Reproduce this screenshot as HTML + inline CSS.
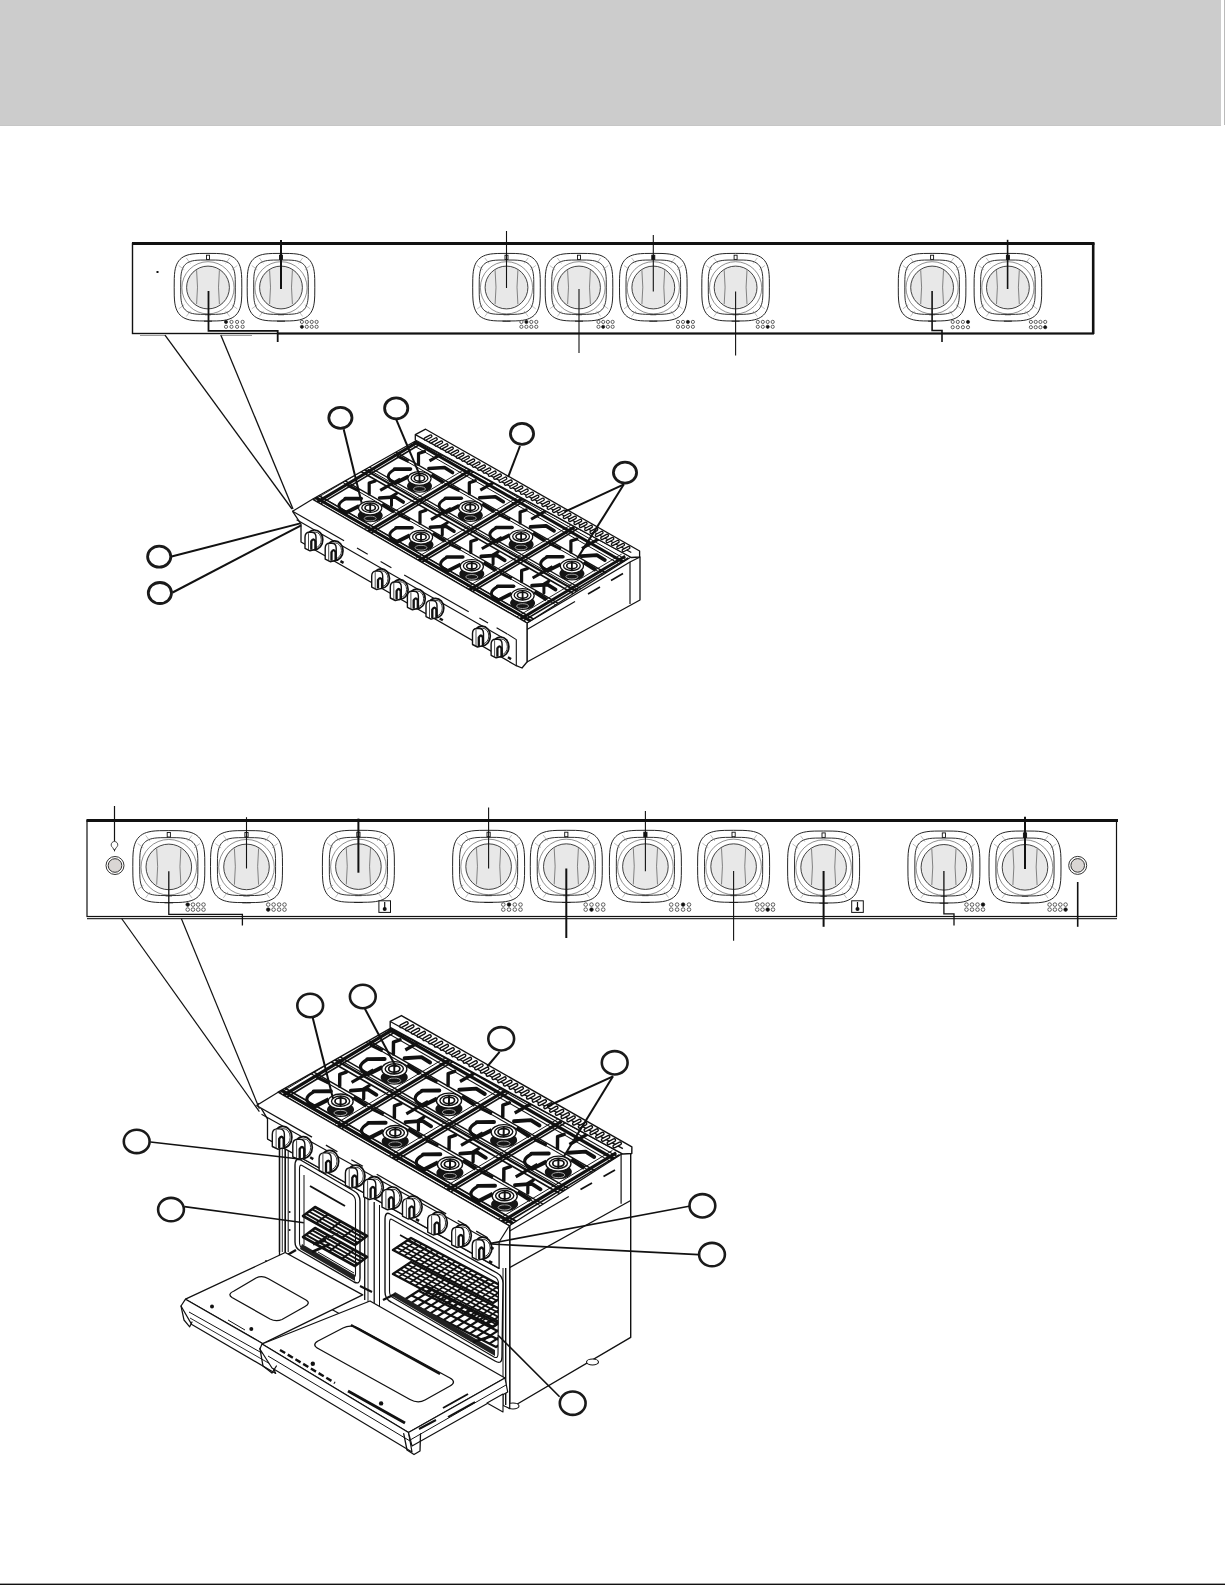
<!DOCTYPE html>
<html><head><meta charset="utf-8"><style>
html,body{margin:0;padding:0;background:#fff;}
body{width:1225px;height:1585px;overflow:hidden;font-family:"Liberation Sans",sans-serif;}
svg{display:block;}
</style></head><body>
<svg width="1225" height="1585" viewBox="0 0 1225 1585">
<rect x="0" y="0" width="1221" height="126" fill="#cccccc"/><rect x="0" y="125" width="1221" height="1" fill="#c6c6c6"/>
<rect x="1224" y="0" width="1" height="125" fill="#bbbbbb"/>
<rect x="132.5" y="243.5" width="960.5" height="90" fill="#fff" stroke="#111" stroke-width="1.4"/>
<line x1="132" y1="243.5" x2="1094.5" y2="243.5" stroke="#111" stroke-width="3.2"/>
<line x1="1093.2" y1="243" x2="1093.2" y2="334" stroke="#111" stroke-width="2.6"/>
<line x1="277" y1="333.6" x2="1094" y2="333.6" stroke="#111" stroke-width="2.0"/>
<line x1="140" y1="335.5" x2="165" y2="335.5" stroke="#999" stroke-width="1"/>
<line x1="222" y1="335.5" x2="252" y2="335.5" stroke="#999" stroke-width="1"/>
<rect x="156.5" y="271" width="2" height="2" fill="#111"/>
<path d="M241.80,287.20 L241.73,295.91 L241.51,299.98 L241.16,303.15 L240.65,305.82 L240.00,308.15 L239.20,310.20 L238.25,312.02 L237.15,313.64 L235.88,315.08 L234.44,316.35 L232.82,317.45 L231.00,318.40 L228.95,319.20 L226.62,319.85 L223.95,320.36 L220.78,320.71 L216.71,320.93 L208.00,321.00 L199.29,320.93 L195.22,320.71 L192.05,320.36 L189.38,319.85 L187.05,319.20 L185.00,318.40 L183.18,317.45 L181.56,316.35 L180.12,315.08 L178.85,313.64 L177.75,312.02 L176.80,310.20 L176.00,308.15 L175.35,305.82 L174.84,303.15 L174.49,299.98 L174.27,295.91 L174.20,287.20 L174.27,278.49 L174.49,274.42 L174.84,271.25 L175.35,268.58 L176.00,266.25 L176.80,264.20 L177.75,262.38 L178.85,260.76 L180.12,259.32 L181.56,258.05 L183.18,256.95 L185.00,256.00 L187.05,255.20 L189.38,254.55 L192.05,254.04 L195.22,253.69 L199.29,253.47 L208.00,253.40 L216.71,253.47 L220.78,253.69 L223.95,254.04 L226.62,254.55 L228.95,255.20 L231.00,256.00 L232.82,256.95 L234.44,258.05 L235.88,259.32 L237.15,260.76 L238.25,262.38 L239.20,264.20 L240.00,266.25 L240.65,268.58 L241.16,271.25 L241.51,274.42 L241.73,278.49Z" fill="#fff" stroke="#1a1a1a" stroke-width="0.95"/>
<path d="M235.30,287.20 L235.25,294.73 L235.08,298.02 L234.81,300.55 L234.42,302.66 L233.92,304.49 L233.31,306.09 L232.58,307.50 L231.73,308.76 L230.75,309.86 L229.63,310.84 L228.38,311.69 L226.96,312.42 L225.35,313.03 L223.52,313.52 L221.40,313.91 L218.86,314.18 L215.56,314.35 L208.00,314.40 L200.44,314.35 L197.14,314.18 L194.60,313.91 L192.48,313.52 L190.65,313.03 L189.04,312.42 L187.62,311.69 L186.37,310.84 L185.25,309.86 L184.27,308.76 L183.42,307.50 L182.69,306.09 L182.08,304.49 L181.58,302.66 L181.19,300.55 L180.92,298.02 L180.75,294.73 L180.70,287.20 L180.75,279.67 L180.92,276.38 L181.19,273.85 L181.58,271.74 L182.08,269.91 L182.69,268.31 L183.42,266.90 L184.27,265.64 L185.25,264.54 L186.37,263.56 L187.62,262.71 L189.04,261.98 L190.65,261.37 L192.48,260.88 L194.60,260.49 L197.14,260.22 L200.44,260.05 L208.00,260.00 L215.56,260.05 L218.86,260.22 L221.40,260.49 L223.52,260.88 L225.35,261.37 L226.96,261.98 L228.38,262.71 L229.63,263.56 L230.75,264.54 L231.73,265.64 L232.58,266.90 L233.31,268.31 L233.92,269.91 L234.42,271.74 L234.81,273.85 L235.08,276.38 L235.25,279.67Z" fill="none" stroke="#1a1a1a" stroke-width="0.9"/>
<circle cx="208" cy="287.8" r="26.1" fill="none" stroke="#444" stroke-width="0.6"/>
<circle cx="208" cy="287.5" r="21.4" fill="#e8e8e8" stroke="#222" stroke-width="0.85"/>
<path d="M196.6,270.2 Q198.4,287.2 196.6,304.2" fill="none" stroke="#555" stroke-width="0.7"/>
<path d="M219.4,270.2 Q217.6,287.2 219.4,304.2" fill="none" stroke="#555" stroke-width="0.7"/>
<line x1="231.7" y1="304.7" x2="237.3" y2="308.9" stroke="#888" stroke-width="0.55"/>
<line x1="190.5" y1="310.9" x2="186.3" y2="316.5" stroke="#888" stroke-width="0.55"/>
<line x1="184.3" y1="269.7" x2="178.7" y2="265.5" stroke="#888" stroke-width="0.55"/>
<line x1="225.5" y1="263.5" x2="229.7" y2="257.9" stroke="#888" stroke-width="0.55"/>
<line x1="225.5" y1="310.9" x2="229.7" y2="316.5" stroke="#888" stroke-width="0.55"/>
<line x1="184.3" y1="304.7" x2="178.7" y2="308.9" stroke="#888" stroke-width="0.55"/>
<line x1="190.5" y1="263.5" x2="186.3" y2="257.9" stroke="#888" stroke-width="0.55"/>
<line x1="231.7" y1="269.7" x2="237.3" y2="265.5" stroke="#888" stroke-width="0.55"/>
<rect x="206.5" y="255.2" width="3.0" height="4.2" fill="#fff" stroke="#111" stroke-width="0.9"/>
<line x1="205.0" y1="314.8" x2="211.0" y2="314.8" stroke="#333" stroke-width="0.8"/>
<line x1="204.0" y1="321.2" x2="212.0" y2="321.2" stroke="#222" stroke-width="1.0"/>
<path d="M314.80,287.20 L314.73,295.91 L314.51,299.98 L314.16,303.15 L313.65,305.82 L313.00,308.15 L312.20,310.20 L311.25,312.02 L310.15,313.64 L308.88,315.08 L307.44,316.35 L305.82,317.45 L304.00,318.40 L301.95,319.20 L299.62,319.85 L296.95,320.36 L293.78,320.71 L289.71,320.93 L281.00,321.00 L272.29,320.93 L268.22,320.71 L265.05,320.36 L262.38,319.85 L260.05,319.20 L258.00,318.40 L256.18,317.45 L254.56,316.35 L253.12,315.08 L251.85,313.64 L250.75,312.02 L249.80,310.20 L249.00,308.15 L248.35,305.82 L247.84,303.15 L247.49,299.98 L247.27,295.91 L247.20,287.20 L247.27,278.49 L247.49,274.42 L247.84,271.25 L248.35,268.58 L249.00,266.25 L249.80,264.20 L250.75,262.38 L251.85,260.76 L253.12,259.32 L254.56,258.05 L256.18,256.95 L258.00,256.00 L260.05,255.20 L262.38,254.55 L265.05,254.04 L268.22,253.69 L272.29,253.47 L281.00,253.40 L289.71,253.47 L293.78,253.69 L296.95,254.04 L299.62,254.55 L301.95,255.20 L304.00,256.00 L305.82,256.95 L307.44,258.05 L308.88,259.32 L310.15,260.76 L311.25,262.38 L312.20,264.20 L313.00,266.25 L313.65,268.58 L314.16,271.25 L314.51,274.42 L314.73,278.49Z" fill="#fff" stroke="#1a1a1a" stroke-width="0.95"/>
<path d="M308.30,287.20 L308.25,294.73 L308.08,298.02 L307.81,300.55 L307.42,302.66 L306.92,304.49 L306.31,306.09 L305.58,307.50 L304.73,308.76 L303.75,309.86 L302.63,310.84 L301.38,311.69 L299.96,312.42 L298.35,313.03 L296.52,313.52 L294.40,313.91 L291.86,314.18 L288.56,314.35 L281.00,314.40 L273.44,314.35 L270.14,314.18 L267.60,313.91 L265.48,313.52 L263.65,313.03 L262.04,312.42 L260.62,311.69 L259.37,310.84 L258.25,309.86 L257.27,308.76 L256.42,307.50 L255.69,306.09 L255.08,304.49 L254.58,302.66 L254.19,300.55 L253.92,298.02 L253.75,294.73 L253.70,287.20 L253.75,279.67 L253.92,276.38 L254.19,273.85 L254.58,271.74 L255.08,269.91 L255.69,268.31 L256.42,266.90 L257.27,265.64 L258.25,264.54 L259.37,263.56 L260.62,262.71 L262.04,261.98 L263.65,261.37 L265.48,260.88 L267.60,260.49 L270.14,260.22 L273.44,260.05 L281.00,260.00 L288.56,260.05 L291.86,260.22 L294.40,260.49 L296.52,260.88 L298.35,261.37 L299.96,261.98 L301.38,262.71 L302.63,263.56 L303.75,264.54 L304.73,265.64 L305.58,266.90 L306.31,268.31 L306.92,269.91 L307.42,271.74 L307.81,273.85 L308.08,276.38 L308.25,279.67Z" fill="none" stroke="#1a1a1a" stroke-width="0.9"/>
<circle cx="281" cy="287.8" r="26.1" fill="none" stroke="#444" stroke-width="0.6"/>
<circle cx="281" cy="287.5" r="21.4" fill="#e8e8e8" stroke="#222" stroke-width="0.85"/>
<path d="M269.6,270.2 Q271.4,287.2 269.6,304.2" fill="none" stroke="#555" stroke-width="0.7"/>
<path d="M292.4,270.2 Q290.6,287.2 292.4,304.2" fill="none" stroke="#555" stroke-width="0.7"/>
<line x1="304.7" y1="304.7" x2="310.3" y2="308.9" stroke="#888" stroke-width="0.55"/>
<line x1="263.5" y1="310.9" x2="259.3" y2="316.5" stroke="#888" stroke-width="0.55"/>
<line x1="257.3" y1="269.7" x2="251.7" y2="265.5" stroke="#888" stroke-width="0.55"/>
<line x1="298.5" y1="263.5" x2="302.7" y2="257.9" stroke="#888" stroke-width="0.55"/>
<line x1="298.5" y1="310.9" x2="302.7" y2="316.5" stroke="#888" stroke-width="0.55"/>
<line x1="257.3" y1="304.7" x2="251.7" y2="308.9" stroke="#888" stroke-width="0.55"/>
<line x1="263.5" y1="263.5" x2="259.3" y2="257.9" stroke="#888" stroke-width="0.55"/>
<line x1="304.7" y1="269.7" x2="310.3" y2="265.5" stroke="#888" stroke-width="0.55"/>
<rect x="279.5" y="255.2" width="3.0" height="4.2" fill="#111" stroke="#111" stroke-width="0.9"/>
<line x1="278.0" y1="314.8" x2="284.0" y2="314.8" stroke="#333" stroke-width="0.8"/>
<line x1="277.0" y1="321.2" x2="285.0" y2="321.2" stroke="#222" stroke-width="1.0"/>
<path d="M540.30,287.20 L540.23,295.91 L540.01,299.98 L539.66,303.15 L539.15,305.82 L538.50,308.15 L537.70,310.20 L536.75,312.02 L535.65,313.64 L534.38,315.08 L532.94,316.35 L531.32,317.45 L529.50,318.40 L527.45,319.20 L525.12,319.85 L522.45,320.36 L519.28,320.71 L515.21,320.93 L506.50,321.00 L497.79,320.93 L493.72,320.71 L490.55,320.36 L487.88,319.85 L485.55,319.20 L483.50,318.40 L481.68,317.45 L480.06,316.35 L478.62,315.08 L477.35,313.64 L476.25,312.02 L475.30,310.20 L474.50,308.15 L473.85,305.82 L473.34,303.15 L472.99,299.98 L472.77,295.91 L472.70,287.20 L472.77,278.49 L472.99,274.42 L473.34,271.25 L473.85,268.58 L474.50,266.25 L475.30,264.20 L476.25,262.38 L477.35,260.76 L478.62,259.32 L480.06,258.05 L481.68,256.95 L483.50,256.00 L485.55,255.20 L487.88,254.55 L490.55,254.04 L493.72,253.69 L497.79,253.47 L506.50,253.40 L515.21,253.47 L519.28,253.69 L522.45,254.04 L525.12,254.55 L527.45,255.20 L529.50,256.00 L531.32,256.95 L532.94,258.05 L534.38,259.32 L535.65,260.76 L536.75,262.38 L537.70,264.20 L538.50,266.25 L539.15,268.58 L539.66,271.25 L540.01,274.42 L540.23,278.49Z" fill="#fff" stroke="#1a1a1a" stroke-width="0.95"/>
<path d="M533.80,287.20 L533.75,294.73 L533.58,298.02 L533.31,300.55 L532.92,302.66 L532.42,304.49 L531.81,306.09 L531.08,307.50 L530.23,308.76 L529.25,309.86 L528.13,310.84 L526.88,311.69 L525.46,312.42 L523.85,313.03 L522.02,313.52 L519.90,313.91 L517.36,314.18 L514.06,314.35 L506.50,314.40 L498.94,314.35 L495.64,314.18 L493.10,313.91 L490.98,313.52 L489.15,313.03 L487.54,312.42 L486.12,311.69 L484.87,310.84 L483.75,309.86 L482.77,308.76 L481.92,307.50 L481.19,306.09 L480.58,304.49 L480.08,302.66 L479.69,300.55 L479.42,298.02 L479.25,294.73 L479.20,287.20 L479.25,279.67 L479.42,276.38 L479.69,273.85 L480.08,271.74 L480.58,269.91 L481.19,268.31 L481.92,266.90 L482.77,265.64 L483.75,264.54 L484.87,263.56 L486.12,262.71 L487.54,261.98 L489.15,261.37 L490.98,260.88 L493.10,260.49 L495.64,260.22 L498.94,260.05 L506.50,260.00 L514.06,260.05 L517.36,260.22 L519.90,260.49 L522.02,260.88 L523.85,261.37 L525.46,261.98 L526.88,262.71 L528.13,263.56 L529.25,264.54 L530.23,265.64 L531.08,266.90 L531.81,268.31 L532.42,269.91 L532.92,271.74 L533.31,273.85 L533.58,276.38 L533.75,279.67Z" fill="none" stroke="#1a1a1a" stroke-width="0.9"/>
<circle cx="506.5" cy="287.8" r="26.1" fill="none" stroke="#444" stroke-width="0.6"/>
<circle cx="506.5" cy="287.5" r="21.4" fill="#e8e8e8" stroke="#222" stroke-width="0.85"/>
<path d="M495.1,270.2 Q496.9,287.2 495.1,304.2" fill="none" stroke="#555" stroke-width="0.7"/>
<path d="M517.9,270.2 Q516.1,287.2 517.9,304.2" fill="none" stroke="#555" stroke-width="0.7"/>
<line x1="530.2" y1="304.7" x2="535.8" y2="308.9" stroke="#888" stroke-width="0.55"/>
<line x1="489.0" y1="310.9" x2="484.8" y2="316.5" stroke="#888" stroke-width="0.55"/>
<line x1="482.8" y1="269.7" x2="477.2" y2="265.5" stroke="#888" stroke-width="0.55"/>
<line x1="524.0" y1="263.5" x2="528.2" y2="257.9" stroke="#888" stroke-width="0.55"/>
<line x1="524.0" y1="310.9" x2="528.2" y2="316.5" stroke="#888" stroke-width="0.55"/>
<line x1="482.8" y1="304.7" x2="477.2" y2="308.9" stroke="#888" stroke-width="0.55"/>
<line x1="489.0" y1="263.5" x2="484.8" y2="257.9" stroke="#888" stroke-width="0.55"/>
<line x1="530.2" y1="269.7" x2="535.8" y2="265.5" stroke="#888" stroke-width="0.55"/>
<rect x="505.0" y="255.2" width="3.0" height="4.2" fill="#fff" stroke="#111" stroke-width="0.9"/>
<line x1="503.5" y1="314.8" x2="509.5" y2="314.8" stroke="#333" stroke-width="0.8"/>
<line x1="502.5" y1="321.2" x2="510.5" y2="321.2" stroke="#222" stroke-width="1.0"/>
<path d="M612.80,287.20 L612.73,295.91 L612.51,299.98 L612.16,303.15 L611.65,305.82 L611.00,308.15 L610.20,310.20 L609.25,312.02 L608.15,313.64 L606.88,315.08 L605.44,316.35 L603.82,317.45 L602.00,318.40 L599.95,319.20 L597.62,319.85 L594.95,320.36 L591.78,320.71 L587.71,320.93 L579.00,321.00 L570.29,320.93 L566.22,320.71 L563.05,320.36 L560.38,319.85 L558.05,319.20 L556.00,318.40 L554.18,317.45 L552.56,316.35 L551.12,315.08 L549.85,313.64 L548.75,312.02 L547.80,310.20 L547.00,308.15 L546.35,305.82 L545.84,303.15 L545.49,299.98 L545.27,295.91 L545.20,287.20 L545.27,278.49 L545.49,274.42 L545.84,271.25 L546.35,268.58 L547.00,266.25 L547.80,264.20 L548.75,262.38 L549.85,260.76 L551.12,259.32 L552.56,258.05 L554.18,256.95 L556.00,256.00 L558.05,255.20 L560.38,254.55 L563.05,254.04 L566.22,253.69 L570.29,253.47 L579.00,253.40 L587.71,253.47 L591.78,253.69 L594.95,254.04 L597.62,254.55 L599.95,255.20 L602.00,256.00 L603.82,256.95 L605.44,258.05 L606.88,259.32 L608.15,260.76 L609.25,262.38 L610.20,264.20 L611.00,266.25 L611.65,268.58 L612.16,271.25 L612.51,274.42 L612.73,278.49Z" fill="#fff" stroke="#1a1a1a" stroke-width="0.95"/>
<path d="M606.30,287.20 L606.25,294.73 L606.08,298.02 L605.81,300.55 L605.42,302.66 L604.92,304.49 L604.31,306.09 L603.58,307.50 L602.73,308.76 L601.75,309.86 L600.63,310.84 L599.38,311.69 L597.96,312.42 L596.35,313.03 L594.52,313.52 L592.40,313.91 L589.86,314.18 L586.56,314.35 L579.00,314.40 L571.44,314.35 L568.14,314.18 L565.60,313.91 L563.48,313.52 L561.65,313.03 L560.04,312.42 L558.62,311.69 L557.37,310.84 L556.25,309.86 L555.27,308.76 L554.42,307.50 L553.69,306.09 L553.08,304.49 L552.58,302.66 L552.19,300.55 L551.92,298.02 L551.75,294.73 L551.70,287.20 L551.75,279.67 L551.92,276.38 L552.19,273.85 L552.58,271.74 L553.08,269.91 L553.69,268.31 L554.42,266.90 L555.27,265.64 L556.25,264.54 L557.37,263.56 L558.62,262.71 L560.04,261.98 L561.65,261.37 L563.48,260.88 L565.60,260.49 L568.14,260.22 L571.44,260.05 L579.00,260.00 L586.56,260.05 L589.86,260.22 L592.40,260.49 L594.52,260.88 L596.35,261.37 L597.96,261.98 L599.38,262.71 L600.63,263.56 L601.75,264.54 L602.73,265.64 L603.58,266.90 L604.31,268.31 L604.92,269.91 L605.42,271.74 L605.81,273.85 L606.08,276.38 L606.25,279.67Z" fill="none" stroke="#1a1a1a" stroke-width="0.9"/>
<circle cx="579" cy="287.8" r="26.1" fill="none" stroke="#444" stroke-width="0.6"/>
<circle cx="579" cy="287.5" r="21.4" fill="#e8e8e8" stroke="#222" stroke-width="0.85"/>
<path d="M567.6,270.2 Q569.4,287.2 567.6,304.2" fill="none" stroke="#555" stroke-width="0.7"/>
<path d="M590.4,270.2 Q588.6,287.2 590.4,304.2" fill="none" stroke="#555" stroke-width="0.7"/>
<line x1="602.7" y1="304.7" x2="608.3" y2="308.9" stroke="#888" stroke-width="0.55"/>
<line x1="561.5" y1="310.9" x2="557.3" y2="316.5" stroke="#888" stroke-width="0.55"/>
<line x1="555.3" y1="269.7" x2="549.7" y2="265.5" stroke="#888" stroke-width="0.55"/>
<line x1="596.5" y1="263.5" x2="600.7" y2="257.9" stroke="#888" stroke-width="0.55"/>
<line x1="596.5" y1="310.9" x2="600.7" y2="316.5" stroke="#888" stroke-width="0.55"/>
<line x1="555.3" y1="304.7" x2="549.7" y2="308.9" stroke="#888" stroke-width="0.55"/>
<line x1="561.5" y1="263.5" x2="557.3" y2="257.9" stroke="#888" stroke-width="0.55"/>
<line x1="602.7" y1="269.7" x2="608.3" y2="265.5" stroke="#888" stroke-width="0.55"/>
<rect x="577.5" y="255.2" width="3.0" height="4.2" fill="#fff" stroke="#111" stroke-width="0.9"/>
<line x1="576.0" y1="314.8" x2="582.0" y2="314.8" stroke="#333" stroke-width="0.8"/>
<line x1="575.0" y1="321.2" x2="583.0" y2="321.2" stroke="#222" stroke-width="1.0"/>
<path d="M687.10,287.20 L687.03,295.91 L686.81,299.98 L686.46,303.15 L685.95,305.82 L685.30,308.15 L684.50,310.20 L683.55,312.02 L682.45,313.64 L681.18,315.08 L679.74,316.35 L678.12,317.45 L676.30,318.40 L674.25,319.20 L671.92,319.85 L669.25,320.36 L666.08,320.71 L662.01,320.93 L653.30,321.00 L644.59,320.93 L640.52,320.71 L637.35,320.36 L634.68,319.85 L632.35,319.20 L630.30,318.40 L628.48,317.45 L626.86,316.35 L625.42,315.08 L624.15,313.64 L623.05,312.02 L622.10,310.20 L621.30,308.15 L620.65,305.82 L620.14,303.15 L619.79,299.98 L619.57,295.91 L619.50,287.20 L619.57,278.49 L619.79,274.42 L620.14,271.25 L620.65,268.58 L621.30,266.25 L622.10,264.20 L623.05,262.38 L624.15,260.76 L625.42,259.32 L626.86,258.05 L628.48,256.95 L630.30,256.00 L632.35,255.20 L634.68,254.55 L637.35,254.04 L640.52,253.69 L644.59,253.47 L653.30,253.40 L662.01,253.47 L666.08,253.69 L669.25,254.04 L671.92,254.55 L674.25,255.20 L676.30,256.00 L678.12,256.95 L679.74,258.05 L681.18,259.32 L682.45,260.76 L683.55,262.38 L684.50,264.20 L685.30,266.25 L685.95,268.58 L686.46,271.25 L686.81,274.42 L687.03,278.49Z" fill="#fff" stroke="#1a1a1a" stroke-width="0.95"/>
<path d="M680.60,287.20 L680.55,294.73 L680.38,298.02 L680.11,300.55 L679.72,302.66 L679.22,304.49 L678.61,306.09 L677.88,307.50 L677.03,308.76 L676.05,309.86 L674.93,310.84 L673.68,311.69 L672.26,312.42 L670.65,313.03 L668.82,313.52 L666.70,313.91 L664.16,314.18 L660.86,314.35 L653.30,314.40 L645.74,314.35 L642.44,314.18 L639.90,313.91 L637.78,313.52 L635.95,313.03 L634.34,312.42 L632.92,311.69 L631.67,310.84 L630.55,309.86 L629.57,308.76 L628.72,307.50 L627.99,306.09 L627.38,304.49 L626.88,302.66 L626.49,300.55 L626.22,298.02 L626.05,294.73 L626.00,287.20 L626.05,279.67 L626.22,276.38 L626.49,273.85 L626.88,271.74 L627.38,269.91 L627.99,268.31 L628.72,266.90 L629.57,265.64 L630.55,264.54 L631.67,263.56 L632.92,262.71 L634.34,261.98 L635.95,261.37 L637.78,260.88 L639.90,260.49 L642.44,260.22 L645.74,260.05 L653.30,260.00 L660.86,260.05 L664.16,260.22 L666.70,260.49 L668.82,260.88 L670.65,261.37 L672.26,261.98 L673.68,262.71 L674.93,263.56 L676.05,264.54 L677.03,265.64 L677.88,266.90 L678.61,268.31 L679.22,269.91 L679.72,271.74 L680.11,273.85 L680.38,276.38 L680.55,279.67Z" fill="none" stroke="#1a1a1a" stroke-width="0.9"/>
<circle cx="653.3" cy="287.8" r="26.1" fill="none" stroke="#444" stroke-width="0.6"/>
<circle cx="653.3" cy="287.5" r="21.4" fill="#e8e8e8" stroke="#222" stroke-width="0.85"/>
<path d="M641.9,270.2 Q643.7,287.2 641.9,304.2" fill="none" stroke="#555" stroke-width="0.7"/>
<path d="M664.7,270.2 Q662.9,287.2 664.7,304.2" fill="none" stroke="#555" stroke-width="0.7"/>
<line x1="677.0" y1="304.7" x2="682.6" y2="308.9" stroke="#888" stroke-width="0.55"/>
<line x1="635.8" y1="310.9" x2="631.6" y2="316.5" stroke="#888" stroke-width="0.55"/>
<line x1="629.6" y1="269.7" x2="624.0" y2="265.5" stroke="#888" stroke-width="0.55"/>
<line x1="670.8" y1="263.5" x2="675.0" y2="257.9" stroke="#888" stroke-width="0.55"/>
<line x1="670.8" y1="310.9" x2="675.0" y2="316.5" stroke="#888" stroke-width="0.55"/>
<line x1="629.6" y1="304.7" x2="624.0" y2="308.9" stroke="#888" stroke-width="0.55"/>
<line x1="635.8" y1="263.5" x2="631.6" y2="257.9" stroke="#888" stroke-width="0.55"/>
<line x1="677.0" y1="269.7" x2="682.6" y2="265.5" stroke="#888" stroke-width="0.55"/>
<rect x="651.8" y="255.2" width="3.0" height="4.2" fill="#111" stroke="#111" stroke-width="0.9"/>
<line x1="650.3" y1="314.8" x2="656.3" y2="314.8" stroke="#333" stroke-width="0.8"/>
<line x1="649.3" y1="321.2" x2="657.3" y2="321.2" stroke="#222" stroke-width="1.0"/>
<path d="M769.40,287.20 L769.33,295.91 L769.11,299.98 L768.76,303.15 L768.25,305.82 L767.60,308.15 L766.80,310.20 L765.85,312.02 L764.75,313.64 L763.48,315.08 L762.04,316.35 L760.42,317.45 L758.60,318.40 L756.55,319.20 L754.22,319.85 L751.55,320.36 L748.38,320.71 L744.31,320.93 L735.60,321.00 L726.89,320.93 L722.82,320.71 L719.65,320.36 L716.98,319.85 L714.65,319.20 L712.60,318.40 L710.78,317.45 L709.16,316.35 L707.72,315.08 L706.45,313.64 L705.35,312.02 L704.40,310.20 L703.60,308.15 L702.95,305.82 L702.44,303.15 L702.09,299.98 L701.87,295.91 L701.80,287.20 L701.87,278.49 L702.09,274.42 L702.44,271.25 L702.95,268.58 L703.60,266.25 L704.40,264.20 L705.35,262.38 L706.45,260.76 L707.72,259.32 L709.16,258.05 L710.78,256.95 L712.60,256.00 L714.65,255.20 L716.98,254.55 L719.65,254.04 L722.82,253.69 L726.89,253.47 L735.60,253.40 L744.31,253.47 L748.38,253.69 L751.55,254.04 L754.22,254.55 L756.55,255.20 L758.60,256.00 L760.42,256.95 L762.04,258.05 L763.48,259.32 L764.75,260.76 L765.85,262.38 L766.80,264.20 L767.60,266.25 L768.25,268.58 L768.76,271.25 L769.11,274.42 L769.33,278.49Z" fill="#fff" stroke="#1a1a1a" stroke-width="0.95"/>
<path d="M762.90,287.20 L762.85,294.73 L762.68,298.02 L762.41,300.55 L762.02,302.66 L761.52,304.49 L760.91,306.09 L760.18,307.50 L759.33,308.76 L758.35,309.86 L757.23,310.84 L755.98,311.69 L754.56,312.42 L752.95,313.03 L751.12,313.52 L749.00,313.91 L746.46,314.18 L743.16,314.35 L735.60,314.40 L728.04,314.35 L724.74,314.18 L722.20,313.91 L720.08,313.52 L718.25,313.03 L716.64,312.42 L715.22,311.69 L713.97,310.84 L712.85,309.86 L711.87,308.76 L711.02,307.50 L710.29,306.09 L709.68,304.49 L709.18,302.66 L708.79,300.55 L708.52,298.02 L708.35,294.73 L708.30,287.20 L708.35,279.67 L708.52,276.38 L708.79,273.85 L709.18,271.74 L709.68,269.91 L710.29,268.31 L711.02,266.90 L711.87,265.64 L712.85,264.54 L713.97,263.56 L715.22,262.71 L716.64,261.98 L718.25,261.37 L720.08,260.88 L722.20,260.49 L724.74,260.22 L728.04,260.05 L735.60,260.00 L743.16,260.05 L746.46,260.22 L749.00,260.49 L751.12,260.88 L752.95,261.37 L754.56,261.98 L755.98,262.71 L757.23,263.56 L758.35,264.54 L759.33,265.64 L760.18,266.90 L760.91,268.31 L761.52,269.91 L762.02,271.74 L762.41,273.85 L762.68,276.38 L762.85,279.67Z" fill="none" stroke="#1a1a1a" stroke-width="0.9"/>
<circle cx="735.6" cy="287.8" r="26.1" fill="none" stroke="#444" stroke-width="0.6"/>
<circle cx="735.6" cy="287.5" r="21.4" fill="#e8e8e8" stroke="#222" stroke-width="0.85"/>
<path d="M724.2,270.2 Q726.0,287.2 724.2,304.2" fill="none" stroke="#555" stroke-width="0.7"/>
<path d="M747.0,270.2 Q745.2,287.2 747.0,304.2" fill="none" stroke="#555" stroke-width="0.7"/>
<line x1="759.3" y1="304.7" x2="764.9" y2="308.9" stroke="#888" stroke-width="0.55"/>
<line x1="718.1" y1="310.9" x2="713.9" y2="316.5" stroke="#888" stroke-width="0.55"/>
<line x1="711.9" y1="269.7" x2="706.3" y2="265.5" stroke="#888" stroke-width="0.55"/>
<line x1="753.1" y1="263.5" x2="757.3" y2="257.9" stroke="#888" stroke-width="0.55"/>
<line x1="753.1" y1="310.9" x2="757.3" y2="316.5" stroke="#888" stroke-width="0.55"/>
<line x1="711.9" y1="304.7" x2="706.3" y2="308.9" stroke="#888" stroke-width="0.55"/>
<line x1="718.1" y1="263.5" x2="713.9" y2="257.9" stroke="#888" stroke-width="0.55"/>
<line x1="759.3" y1="269.7" x2="764.9" y2="265.5" stroke="#888" stroke-width="0.55"/>
<rect x="734.1" y="255.2" width="3.0" height="4.2" fill="#fff" stroke="#111" stroke-width="0.9"/>
<line x1="732.6" y1="314.8" x2="738.6" y2="314.8" stroke="#333" stroke-width="0.8"/>
<line x1="731.6" y1="321.2" x2="739.6" y2="321.2" stroke="#222" stroke-width="1.0"/>
<path d="M965.90,287.20 L965.83,295.91 L965.61,299.98 L965.26,303.15 L964.75,305.82 L964.10,308.15 L963.30,310.20 L962.35,312.02 L961.25,313.64 L959.98,315.08 L958.54,316.35 L956.92,317.45 L955.10,318.40 L953.05,319.20 L950.72,319.85 L948.05,320.36 L944.88,320.71 L940.81,320.93 L932.10,321.00 L923.39,320.93 L919.32,320.71 L916.15,320.36 L913.48,319.85 L911.15,319.20 L909.10,318.40 L907.28,317.45 L905.66,316.35 L904.22,315.08 L902.95,313.64 L901.85,312.02 L900.90,310.20 L900.10,308.15 L899.45,305.82 L898.94,303.15 L898.59,299.98 L898.37,295.91 L898.30,287.20 L898.37,278.49 L898.59,274.42 L898.94,271.25 L899.45,268.58 L900.10,266.25 L900.90,264.20 L901.85,262.38 L902.95,260.76 L904.22,259.32 L905.66,258.05 L907.28,256.95 L909.10,256.00 L911.15,255.20 L913.48,254.55 L916.15,254.04 L919.32,253.69 L923.39,253.47 L932.10,253.40 L940.81,253.47 L944.88,253.69 L948.05,254.04 L950.72,254.55 L953.05,255.20 L955.10,256.00 L956.92,256.95 L958.54,258.05 L959.98,259.32 L961.25,260.76 L962.35,262.38 L963.30,264.20 L964.10,266.25 L964.75,268.58 L965.26,271.25 L965.61,274.42 L965.83,278.49Z" fill="#fff" stroke="#1a1a1a" stroke-width="0.95"/>
<path d="M959.40,287.20 L959.35,294.73 L959.18,298.02 L958.91,300.55 L958.52,302.66 L958.02,304.49 L957.41,306.09 L956.68,307.50 L955.83,308.76 L954.85,309.86 L953.73,310.84 L952.48,311.69 L951.06,312.42 L949.45,313.03 L947.62,313.52 L945.50,313.91 L942.96,314.18 L939.66,314.35 L932.10,314.40 L924.54,314.35 L921.24,314.18 L918.70,313.91 L916.58,313.52 L914.75,313.03 L913.14,312.42 L911.72,311.69 L910.47,310.84 L909.35,309.86 L908.37,308.76 L907.52,307.50 L906.79,306.09 L906.18,304.49 L905.68,302.66 L905.29,300.55 L905.02,298.02 L904.85,294.73 L904.80,287.20 L904.85,279.67 L905.02,276.38 L905.29,273.85 L905.68,271.74 L906.18,269.91 L906.79,268.31 L907.52,266.90 L908.37,265.64 L909.35,264.54 L910.47,263.56 L911.72,262.71 L913.14,261.98 L914.75,261.37 L916.58,260.88 L918.70,260.49 L921.24,260.22 L924.54,260.05 L932.10,260.00 L939.66,260.05 L942.96,260.22 L945.50,260.49 L947.62,260.88 L949.45,261.37 L951.06,261.98 L952.48,262.71 L953.73,263.56 L954.85,264.54 L955.83,265.64 L956.68,266.90 L957.41,268.31 L958.02,269.91 L958.52,271.74 L958.91,273.85 L959.18,276.38 L959.35,279.67Z" fill="none" stroke="#1a1a1a" stroke-width="0.9"/>
<circle cx="932.1" cy="287.8" r="26.1" fill="none" stroke="#444" stroke-width="0.6"/>
<circle cx="932.1" cy="287.5" r="21.4" fill="#e8e8e8" stroke="#222" stroke-width="0.85"/>
<path d="M920.7,270.2 Q922.5,287.2 920.7,304.2" fill="none" stroke="#555" stroke-width="0.7"/>
<path d="M943.5,270.2 Q941.7,287.2 943.5,304.2" fill="none" stroke="#555" stroke-width="0.7"/>
<line x1="955.8" y1="304.7" x2="961.4" y2="308.9" stroke="#888" stroke-width="0.55"/>
<line x1="914.6" y1="310.9" x2="910.4" y2="316.5" stroke="#888" stroke-width="0.55"/>
<line x1="908.4" y1="269.7" x2="902.8" y2="265.5" stroke="#888" stroke-width="0.55"/>
<line x1="949.6" y1="263.5" x2="953.8" y2="257.9" stroke="#888" stroke-width="0.55"/>
<line x1="949.6" y1="310.9" x2="953.8" y2="316.5" stroke="#888" stroke-width="0.55"/>
<line x1="908.4" y1="304.7" x2="902.8" y2="308.9" stroke="#888" stroke-width="0.55"/>
<line x1="914.6" y1="263.5" x2="910.4" y2="257.9" stroke="#888" stroke-width="0.55"/>
<line x1="955.8" y1="269.7" x2="961.4" y2="265.5" stroke="#888" stroke-width="0.55"/>
<rect x="930.6" y="255.2" width="3.0" height="4.2" fill="#fff" stroke="#111" stroke-width="0.9"/>
<line x1="929.1" y1="314.8" x2="935.1" y2="314.8" stroke="#333" stroke-width="0.8"/>
<line x1="928.1" y1="321.2" x2="936.1" y2="321.2" stroke="#222" stroke-width="1.0"/>
<path d="M1041.70,287.20 L1041.63,295.91 L1041.41,299.98 L1041.06,303.15 L1040.55,305.82 L1039.90,308.15 L1039.10,310.20 L1038.15,312.02 L1037.05,313.64 L1035.78,315.08 L1034.34,316.35 L1032.72,317.45 L1030.90,318.40 L1028.85,319.20 L1026.52,319.85 L1023.85,320.36 L1020.68,320.71 L1016.61,320.93 L1007.90,321.00 L999.19,320.93 L995.12,320.71 L991.95,320.36 L989.28,319.85 L986.95,319.20 L984.90,318.40 L983.08,317.45 L981.46,316.35 L980.02,315.08 L978.75,313.64 L977.65,312.02 L976.70,310.20 L975.90,308.15 L975.25,305.82 L974.74,303.15 L974.39,299.98 L974.17,295.91 L974.10,287.20 L974.17,278.49 L974.39,274.42 L974.74,271.25 L975.25,268.58 L975.90,266.25 L976.70,264.20 L977.65,262.38 L978.75,260.76 L980.02,259.32 L981.46,258.05 L983.08,256.95 L984.90,256.00 L986.95,255.20 L989.28,254.55 L991.95,254.04 L995.12,253.69 L999.19,253.47 L1007.90,253.40 L1016.61,253.47 L1020.68,253.69 L1023.85,254.04 L1026.52,254.55 L1028.85,255.20 L1030.90,256.00 L1032.72,256.95 L1034.34,258.05 L1035.78,259.32 L1037.05,260.76 L1038.15,262.38 L1039.10,264.20 L1039.90,266.25 L1040.55,268.58 L1041.06,271.25 L1041.41,274.42 L1041.63,278.49Z" fill="#fff" stroke="#1a1a1a" stroke-width="0.95"/>
<path d="M1035.20,287.20 L1035.15,294.73 L1034.98,298.02 L1034.71,300.55 L1034.32,302.66 L1033.82,304.49 L1033.21,306.09 L1032.48,307.50 L1031.63,308.76 L1030.65,309.86 L1029.53,310.84 L1028.28,311.69 L1026.86,312.42 L1025.25,313.03 L1023.42,313.52 L1021.30,313.91 L1018.76,314.18 L1015.46,314.35 L1007.90,314.40 L1000.34,314.35 L997.04,314.18 L994.50,313.91 L992.38,313.52 L990.55,313.03 L988.94,312.42 L987.52,311.69 L986.27,310.84 L985.15,309.86 L984.17,308.76 L983.32,307.50 L982.59,306.09 L981.98,304.49 L981.48,302.66 L981.09,300.55 L980.82,298.02 L980.65,294.73 L980.60,287.20 L980.65,279.67 L980.82,276.38 L981.09,273.85 L981.48,271.74 L981.98,269.91 L982.59,268.31 L983.32,266.90 L984.17,265.64 L985.15,264.54 L986.27,263.56 L987.52,262.71 L988.94,261.98 L990.55,261.37 L992.38,260.88 L994.50,260.49 L997.04,260.22 L1000.34,260.05 L1007.90,260.00 L1015.46,260.05 L1018.76,260.22 L1021.30,260.49 L1023.42,260.88 L1025.25,261.37 L1026.86,261.98 L1028.28,262.71 L1029.53,263.56 L1030.65,264.54 L1031.63,265.64 L1032.48,266.90 L1033.21,268.31 L1033.82,269.91 L1034.32,271.74 L1034.71,273.85 L1034.98,276.38 L1035.15,279.67Z" fill="none" stroke="#1a1a1a" stroke-width="0.9"/>
<circle cx="1007.9" cy="287.8" r="26.1" fill="none" stroke="#444" stroke-width="0.6"/>
<circle cx="1007.9" cy="287.5" r="21.4" fill="#e8e8e8" stroke="#222" stroke-width="0.85"/>
<path d="M996.5,270.2 Q998.3,287.2 996.5,304.2" fill="none" stroke="#555" stroke-width="0.7"/>
<path d="M1019.3,270.2 Q1017.5,287.2 1019.3,304.2" fill="none" stroke="#555" stroke-width="0.7"/>
<line x1="1031.6" y1="304.7" x2="1037.2" y2="308.9" stroke="#888" stroke-width="0.55"/>
<line x1="990.4" y1="310.9" x2="986.2" y2="316.5" stroke="#888" stroke-width="0.55"/>
<line x1="984.2" y1="269.7" x2="978.6" y2="265.5" stroke="#888" stroke-width="0.55"/>
<line x1="1025.4" y1="263.5" x2="1029.6" y2="257.9" stroke="#888" stroke-width="0.55"/>
<line x1="1025.4" y1="310.9" x2="1029.6" y2="316.5" stroke="#888" stroke-width="0.55"/>
<line x1="984.2" y1="304.7" x2="978.6" y2="308.9" stroke="#888" stroke-width="0.55"/>
<line x1="990.4" y1="263.5" x2="986.2" y2="257.9" stroke="#888" stroke-width="0.55"/>
<line x1="1031.6" y1="269.7" x2="1037.2" y2="265.5" stroke="#888" stroke-width="0.55"/>
<rect x="1006.4" y="255.2" width="3.0" height="4.2" fill="#111" stroke="#111" stroke-width="0.9"/>
<line x1="1004.9" y1="314.8" x2="1010.9" y2="314.8" stroke="#333" stroke-width="0.8"/>
<line x1="1003.9" y1="321.2" x2="1011.9" y2="321.2" stroke="#222" stroke-width="1.0"/>
<circle cx="226.0" cy="321.9" r="1.6" fill="#111" stroke="#222" stroke-width="0.7"/>
<circle cx="231.5" cy="321.9" r="1.6" fill="#fff" stroke="#222" stroke-width="0.7"/>
<circle cx="237.1" cy="321.9" r="1.6" fill="#fff" stroke="#222" stroke-width="0.7"/>
<circle cx="242.6" cy="321.9" r="1.6" fill="#fff" stroke="#222" stroke-width="0.7"/>
<circle cx="226.0" cy="326.8" r="1.6" fill="#fff" stroke="#222" stroke-width="0.7"/>
<circle cx="231.5" cy="326.8" r="1.6" fill="#fff" stroke="#222" stroke-width="0.7"/>
<circle cx="237.1" cy="326.8" r="1.6" fill="#fff" stroke="#222" stroke-width="0.7"/>
<circle cx="242.6" cy="326.8" r="1.6" fill="#fff" stroke="#222" stroke-width="0.7"/>
<circle cx="301.9" cy="321.9" r="1.6" fill="#fff" stroke="#222" stroke-width="0.7"/>
<circle cx="306.8" cy="321.9" r="1.6" fill="#fff" stroke="#222" stroke-width="0.7"/>
<circle cx="311.7" cy="321.9" r="1.6" fill="#fff" stroke="#222" stroke-width="0.7"/>
<circle cx="316.6" cy="321.9" r="1.6" fill="#fff" stroke="#222" stroke-width="0.7"/>
<circle cx="301.9" cy="326.8" r="1.6" fill="#111" stroke="#222" stroke-width="0.7"/>
<circle cx="306.8" cy="326.8" r="1.6" fill="#fff" stroke="#222" stroke-width="0.7"/>
<circle cx="311.7" cy="326.8" r="1.6" fill="#fff" stroke="#222" stroke-width="0.7"/>
<circle cx="316.6" cy="326.8" r="1.6" fill="#fff" stroke="#222" stroke-width="0.7"/>
<circle cx="521.4" cy="321.9" r="1.6" fill="#fff" stroke="#222" stroke-width="0.7"/>
<circle cx="526.4" cy="321.9" r="1.6" fill="#111" stroke="#222" stroke-width="0.7"/>
<circle cx="531.3" cy="321.9" r="1.6" fill="#fff" stroke="#222" stroke-width="0.7"/>
<circle cx="536.3" cy="321.9" r="1.6" fill="#fff" stroke="#222" stroke-width="0.7"/>
<circle cx="521.4" cy="326.8" r="1.6" fill="#fff" stroke="#222" stroke-width="0.7"/>
<circle cx="526.4" cy="326.8" r="1.6" fill="#fff" stroke="#222" stroke-width="0.7"/>
<circle cx="531.3" cy="326.8" r="1.6" fill="#fff" stroke="#222" stroke-width="0.7"/>
<circle cx="536.3" cy="326.8" r="1.6" fill="#fff" stroke="#222" stroke-width="0.7"/>
<circle cx="598.5" cy="321.9" r="1.6" fill="#fff" stroke="#222" stroke-width="0.7"/>
<circle cx="603.2" cy="321.9" r="1.6" fill="#fff" stroke="#222" stroke-width="0.7"/>
<circle cx="607.9" cy="321.9" r="1.6" fill="#fff" stroke="#222" stroke-width="0.7"/>
<circle cx="612.6" cy="321.9" r="1.6" fill="#fff" stroke="#222" stroke-width="0.7"/>
<circle cx="598.5" cy="326.8" r="1.6" fill="#fff" stroke="#222" stroke-width="0.7"/>
<circle cx="603.2" cy="326.8" r="1.6" fill="#111" stroke="#222" stroke-width="0.7"/>
<circle cx="607.9" cy="326.8" r="1.6" fill="#fff" stroke="#222" stroke-width="0.7"/>
<circle cx="612.6" cy="326.8" r="1.6" fill="#fff" stroke="#222" stroke-width="0.7"/>
<circle cx="678.0" cy="321.9" r="1.6" fill="#fff" stroke="#222" stroke-width="0.7"/>
<circle cx="683.0" cy="321.9" r="1.6" fill="#fff" stroke="#222" stroke-width="0.7"/>
<circle cx="687.9" cy="321.9" r="1.6" fill="#111" stroke="#222" stroke-width="0.7"/>
<circle cx="692.9" cy="321.9" r="1.6" fill="#fff" stroke="#222" stroke-width="0.7"/>
<circle cx="678.0" cy="326.8" r="1.6" fill="#fff" stroke="#222" stroke-width="0.7"/>
<circle cx="683.0" cy="326.8" r="1.6" fill="#fff" stroke="#222" stroke-width="0.7"/>
<circle cx="687.9" cy="326.8" r="1.6" fill="#fff" stroke="#222" stroke-width="0.7"/>
<circle cx="692.9" cy="326.8" r="1.6" fill="#fff" stroke="#222" stroke-width="0.7"/>
<circle cx="757.8" cy="321.9" r="1.6" fill="#fff" stroke="#222" stroke-width="0.7"/>
<circle cx="762.8" cy="321.9" r="1.6" fill="#fff" stroke="#222" stroke-width="0.7"/>
<circle cx="767.7" cy="321.9" r="1.6" fill="#fff" stroke="#222" stroke-width="0.7"/>
<circle cx="772.7" cy="321.9" r="1.6" fill="#fff" stroke="#222" stroke-width="0.7"/>
<circle cx="757.8" cy="326.8" r="1.6" fill="#fff" stroke="#222" stroke-width="0.7"/>
<circle cx="762.8" cy="326.8" r="1.6" fill="#fff" stroke="#222" stroke-width="0.7"/>
<circle cx="767.7" cy="326.8" r="1.6" fill="#111" stroke="#222" stroke-width="0.7"/>
<circle cx="772.7" cy="326.8" r="1.6" fill="#fff" stroke="#222" stroke-width="0.7"/>
<circle cx="952.7" cy="321.9" r="1.6" fill="#fff" stroke="#222" stroke-width="0.7"/>
<circle cx="957.8" cy="321.9" r="1.6" fill="#fff" stroke="#222" stroke-width="0.7"/>
<circle cx="962.9" cy="321.9" r="1.6" fill="#fff" stroke="#222" stroke-width="0.7"/>
<circle cx="968.0" cy="321.9" r="1.6" fill="#111" stroke="#222" stroke-width="0.7"/>
<circle cx="952.7" cy="327.2" r="1.6" fill="#fff" stroke="#222" stroke-width="0.7"/>
<circle cx="957.8" cy="327.2" r="1.6" fill="#fff" stroke="#222" stroke-width="0.7"/>
<circle cx="962.9" cy="327.2" r="1.6" fill="#fff" stroke="#222" stroke-width="0.7"/>
<circle cx="968.0" cy="327.2" r="1.6" fill="#fff" stroke="#222" stroke-width="0.7"/>
<circle cx="1030.9" cy="321.9" r="1.6" fill="#fff" stroke="#222" stroke-width="0.7"/>
<circle cx="1035.7" cy="321.9" r="1.6" fill="#fff" stroke="#222" stroke-width="0.7"/>
<circle cx="1040.4" cy="321.9" r="1.6" fill="#fff" stroke="#222" stroke-width="0.7"/>
<circle cx="1045.2" cy="321.9" r="1.6" fill="#fff" stroke="#222" stroke-width="0.7"/>
<circle cx="1030.9" cy="327.2" r="1.6" fill="#fff" stroke="#222" stroke-width="0.7"/>
<circle cx="1035.7" cy="327.2" r="1.6" fill="#fff" stroke="#222" stroke-width="0.7"/>
<circle cx="1040.4" cy="327.2" r="1.6" fill="#fff" stroke="#222" stroke-width="0.7"/>
<circle cx="1045.2" cy="327.2" r="1.6" fill="#111" stroke="#222" stroke-width="0.7"/>
<polyline points="208.5,291 208.5,330.8 277.7,330.8 277.7,342" fill="none" stroke="#111" stroke-width="1.8"/>
<line x1="281" y1="240" x2="281" y2="289" stroke="#111" stroke-width="2.0"/>
<line x1="506.5" y1="231" x2="506.5" y2="288" stroke="#111" stroke-width="1.1"/>
<line x1="579" y1="289" x2="579" y2="353" stroke="#111" stroke-width="1.1"/>
<line x1="653.3" y1="235" x2="653.3" y2="291.5" stroke="#111" stroke-width="1.1"/>
<line x1="735.6" y1="291.5" x2="735.6" y2="355.5" stroke="#111" stroke-width="1.1"/>
<polyline points="932.1,291 932.1,330.5 942,330.5 942,342" fill="none" stroke="#111" stroke-width="1.6"/>
<line x1="1007.6" y1="239.8" x2="1007.6" y2="289" stroke="#111" stroke-width="1.6"/>
<polygon points="527.0,623.0 630.0,562.0 640.0,557.0 640.0,600.0 527.0,662.0" fill="#fff" stroke="#111" stroke-width="1.3" stroke-linejoin="round" />
<line x1="630.0" y1="562.0" x2="630.0" y2="604.0" stroke="#111" stroke-width="1.2" />
<polygon points="292.6,511.3 301.0,524.0 301.0,542.0 516.3,665.7 522.0,668.0 527.0,662.0 527.0,623.0 507.3,633.9" fill="#fff" stroke="none" stroke-width="0" stroke-linejoin="round" />
<polyline points="292.6,511.3 301.0,524.0 301.0,542.0 516.3,665.7 522.0,668.0 527.0,662.0 527.0,623.0" fill="none" stroke="#111" stroke-width="1.3" stroke-linejoin="round" stroke-linecap="round" />
<polyline points="507.3,633.9 516.3,639.6 516.3,665.7" fill="none" stroke="#111" stroke-width="1.1" stroke-linejoin="round" stroke-linecap="round" />
<line x1="296.6" y1="519.8" x2="507.5" y2="640.5" stroke="#111" stroke-width="1.1" />
<line x1="527.0" y1="629.5" x2="575.0" y2="601.5" stroke="#111" stroke-width="1.2" />
<line x1="588.0" y1="594.0" x2="600.0" y2="587.0" stroke="#111" stroke-width="1.6" />
<line x1="611.0" y1="580.5" x2="623.0" y2="573.5" stroke="#111" stroke-width="1.6" />
<polygon points="292.6,511.3 312.4,499.2 527.0,623.0 507.3,633.9" fill="#fff" stroke="none" stroke-width="0" stroke-linejoin="round" />
<polygon points="312.4,499.2 415.5,441.0 631.0,557.0 527.0,623.0" fill="#fff" stroke="#111" stroke-width="1.3" stroke-linejoin="round" />
<polygon points="415.3,434.6 425.6,429.2 639.6,551.0 639.6,557.0 631.3,557.5 415.3,440.0" fill="#fff" stroke="#111" stroke-width="1.3" stroke-linejoin="round" />
<line x1="415.3" y1="434.6" x2="631.3" y2="552.5" stroke="#111" stroke-width="1.2" />
<rect x="426.8" y="433.3" width="2.5" height="8.4" rx="1.25" fill="#fff" stroke="#111" stroke-width="1.3" transform="rotate(62 428.0 437.5)"/>
<rect x="432.1" y="436.3" width="2.5" height="8.4" rx="1.25" fill="#fff" stroke="#111" stroke-width="1.3" transform="rotate(62 433.4 440.5)"/>
<rect x="437.5" y="439.3" width="2.5" height="8.4" rx="1.25" fill="#fff" stroke="#111" stroke-width="1.3" transform="rotate(62 438.7 443.5)"/>
<rect x="442.8" y="442.3" width="2.5" height="8.4" rx="1.25" fill="#fff" stroke="#111" stroke-width="1.3" transform="rotate(62 444.1 446.5)"/>
<rect x="448.2" y="445.4" width="2.5" height="8.4" rx="1.25" fill="#fff" stroke="#111" stroke-width="1.3" transform="rotate(62 449.4 449.6)"/>
<rect x="453.5" y="448.4" width="2.5" height="8.4" rx="1.25" fill="#fff" stroke="#111" stroke-width="1.3" transform="rotate(62 454.8 452.6)"/>
<rect x="458.9" y="451.4" width="2.5" height="8.4" rx="1.25" fill="#fff" stroke="#111" stroke-width="1.3" transform="rotate(62 460.1 455.6)"/>
<rect x="464.2" y="454.4" width="2.5" height="8.4" rx="1.25" fill="#fff" stroke="#111" stroke-width="1.3" transform="rotate(62 465.5 458.6)"/>
<rect x="469.6" y="457.4" width="2.5" height="8.4" rx="1.25" fill="#fff" stroke="#111" stroke-width="1.3" transform="rotate(62 470.8 461.6)"/>
<rect x="474.9" y="460.4" width="2.5" height="8.4" rx="1.25" fill="#fff" stroke="#111" stroke-width="1.3" transform="rotate(62 476.2 464.6)"/>
<rect x="480.3" y="463.4" width="2.5" height="8.4" rx="1.25" fill="#fff" stroke="#111" stroke-width="1.3" transform="rotate(62 481.5 467.6)"/>
<rect x="485.6" y="466.4" width="2.5" height="8.4" rx="1.25" fill="#fff" stroke="#111" stroke-width="1.3" transform="rotate(62 486.9 470.6)"/>
<rect x="491.0" y="469.5" width="2.5" height="8.4" rx="1.25" fill="#fff" stroke="#111" stroke-width="1.3" transform="rotate(62 492.2 473.7)"/>
<rect x="496.3" y="472.5" width="2.5" height="8.4" rx="1.25" fill="#fff" stroke="#111" stroke-width="1.3" transform="rotate(62 497.6 476.7)"/>
<rect x="501.7" y="475.5" width="2.5" height="8.4" rx="1.25" fill="#fff" stroke="#111" stroke-width="1.3" transform="rotate(62 502.9 479.7)"/>
<rect x="507.0" y="478.5" width="2.5" height="8.4" rx="1.25" fill="#fff" stroke="#111" stroke-width="1.3" transform="rotate(62 508.3 482.7)"/>
<rect x="512.4" y="481.5" width="2.5" height="8.4" rx="1.25" fill="#fff" stroke="#111" stroke-width="1.3" transform="rotate(62 513.6 485.7)"/>
<rect x="517.7" y="484.5" width="2.5" height="8.4" rx="1.25" fill="#fff" stroke="#111" stroke-width="1.3" transform="rotate(62 519.0 488.7)"/>
<rect x="523.1" y="487.5" width="2.5" height="8.4" rx="1.25" fill="#fff" stroke="#111" stroke-width="1.3" transform="rotate(62 524.3 491.7)"/>
<rect x="528.4" y="490.6" width="2.5" height="8.4" rx="1.25" fill="#fff" stroke="#111" stroke-width="1.3" transform="rotate(62 529.7 494.8)"/>
<rect x="533.8" y="493.6" width="2.5" height="8.4" rx="1.25" fill="#fff" stroke="#111" stroke-width="1.3" transform="rotate(62 535.0 497.8)"/>
<rect x="539.1" y="496.6" width="2.5" height="8.4" rx="1.25" fill="#fff" stroke="#111" stroke-width="1.3" transform="rotate(62 540.4 500.8)"/>
<rect x="544.5" y="499.6" width="2.5" height="8.4" rx="1.25" fill="#fff" stroke="#111" stroke-width="1.3" transform="rotate(62 545.7 503.8)"/>
<rect x="549.8" y="502.6" width="2.5" height="8.4" rx="1.25" fill="#fff" stroke="#111" stroke-width="1.3" transform="rotate(62 551.1 506.8)"/>
<rect x="555.2" y="505.6" width="2.5" height="8.4" rx="1.25" fill="#fff" stroke="#111" stroke-width="1.3" transform="rotate(62 556.4 509.8)"/>
<rect x="560.5" y="508.6" width="2.5" height="8.4" rx="1.25" fill="#fff" stroke="#111" stroke-width="1.3" transform="rotate(62 561.8 512.8)"/>
<rect x="565.9" y="511.7" width="2.5" height="8.4" rx="1.25" fill="#fff" stroke="#111" stroke-width="1.3" transform="rotate(62 567.1 515.9)"/>
<rect x="571.2" y="514.7" width="2.5" height="8.4" rx="1.25" fill="#fff" stroke="#111" stroke-width="1.3" transform="rotate(62 572.5 518.9)"/>
<rect x="576.6" y="517.7" width="2.5" height="8.4" rx="1.25" fill="#fff" stroke="#111" stroke-width="1.3" transform="rotate(62 577.8 521.9)"/>
<rect x="581.9" y="520.7" width="2.5" height="8.4" rx="1.25" fill="#fff" stroke="#111" stroke-width="1.3" transform="rotate(62 583.2 524.9)"/>
<rect x="587.3" y="523.7" width="2.5" height="8.4" rx="1.25" fill="#fff" stroke="#111" stroke-width="1.3" transform="rotate(62 588.5 527.9)"/>
<rect x="592.6" y="526.7" width="2.5" height="8.4" rx="1.25" fill="#fff" stroke="#111" stroke-width="1.3" transform="rotate(62 593.9 530.9)"/>
<rect x="598.0" y="529.7" width="2.5" height="8.4" rx="1.25" fill="#fff" stroke="#111" stroke-width="1.3" transform="rotate(62 599.2 533.9)"/>
<rect x="603.3" y="532.7" width="2.5" height="8.4" rx="1.25" fill="#fff" stroke="#111" stroke-width="1.3" transform="rotate(62 604.6 536.9)"/>
<rect x="608.7" y="535.8" width="2.5" height="8.4" rx="1.25" fill="#fff" stroke="#111" stroke-width="1.3" transform="rotate(62 609.9 540.0)"/>
<rect x="614.0" y="538.8" width="2.5" height="8.4" rx="1.25" fill="#fff" stroke="#111" stroke-width="1.3" transform="rotate(62 615.3 543.0)"/>
<rect x="619.4" y="541.8" width="2.5" height="8.4" rx="1.25" fill="#fff" stroke="#111" stroke-width="1.3" transform="rotate(62 620.6 546.0)"/>
<rect x="624.8" y="544.8" width="2.5" height="8.4" rx="1.25" fill="#fff" stroke="#111" stroke-width="1.3" transform="rotate(62 626.0 549.0)"/>
<clipPath id="clipA"><polygon points="312.4,499.2 415.5,441 631,557 527,623"/></clipPath>
<g clip-path="url(#clipA)">
<line x1="422.0" y1="439.5" x2="313.5" y2="504.4" stroke="#111" stroke-width="3.0" />
<line x1="425.1" y1="441.2" x2="316.6" y2="506.1" stroke="#111" stroke-width="1.6" />
<line x1="418.4" y1="437.4" x2="310.0" y2="502.3" stroke="#111" stroke-width="0.9" />
<line x1="472.8" y1="468.7" x2="364.3" y2="533.6" stroke="#111" stroke-width="3.0" />
<line x1="475.9" y1="470.4" x2="367.4" y2="535.3" stroke="#111" stroke-width="1.6" />
<line x1="469.2" y1="466.6" x2="360.8" y2="531.5" stroke="#111" stroke-width="0.9" />
<line x1="523.6" y1="497.9" x2="415.1" y2="562.8" stroke="#111" stroke-width="3.0" />
<line x1="526.7" y1="499.6" x2="418.2" y2="564.5" stroke="#111" stroke-width="1.6" />
<line x1="520.0" y1="495.8" x2="411.6" y2="560.7" stroke="#111" stroke-width="0.9" />
<line x1="574.4" y1="527.1" x2="465.9" y2="592.0" stroke="#111" stroke-width="3.0" />
<line x1="577.5" y1="528.8" x2="469.0" y2="593.7" stroke="#111" stroke-width="1.6" />
<line x1="570.9" y1="525.0" x2="462.4" y2="589.9" stroke="#111" stroke-width="0.9" />
<line x1="625.2" y1="556.3" x2="516.7" y2="621.2" stroke="#111" stroke-width="3.0" />
<line x1="628.3" y1="558.0" x2="519.8" y2="622.9" stroke="#111" stroke-width="1.6" />
<line x1="621.6" y1="554.2" x2="513.2" y2="619.1" stroke="#111" stroke-width="0.9" />
<line x1="407.5" y1="438.0" x2="631.0" y2="566.5" stroke="#111" stroke-width="3.0" />
<line x1="404.0" y1="440.1" x2="627.5" y2="568.6" stroke="#111" stroke-width="1.0" />
<line x1="410.9" y1="436.0" x2="634.4" y2="564.4" stroke="#111" stroke-width="1.0" />
<line x1="311.8" y1="495.3" x2="535.3" y2="623.7" stroke="#111" stroke-width="3.0" />
<line x1="308.4" y1="497.3" x2="531.9" y2="625.8" stroke="#111" stroke-width="1.0" />
<line x1="315.3" y1="493.2" x2="538.8" y2="621.7" stroke="#111" stroke-width="1.0" />
<line x1="359.6" y1="466.6" x2="583.2" y2="595.1" stroke="#111" stroke-width="2.2" />
<line x1="356.2" y1="468.7" x2="579.7" y2="597.2" stroke="#111" stroke-width="1.6" />
<line x1="389.7" y1="448.6" x2="613.2" y2="577.1" stroke="#111" stroke-width="1.3" />
<line x1="387.2" y1="450.1" x2="610.8" y2="578.6" stroke="#111" stroke-width="1.0" />
<line x1="364.1" y1="464.0" x2="587.6" y2="592.5" stroke="#111" stroke-width="1.3" />
<line x1="361.6" y1="465.5" x2="585.1" y2="593.9" stroke="#111" stroke-width="1.0" />
<line x1="340.4" y1="478.1" x2="563.9" y2="606.6" stroke="#111" stroke-width="1.3" />
<line x1="337.9" y1="479.6" x2="561.5" y2="608.1" stroke="#111" stroke-width="1.0" />
<line x1="314.8" y1="493.5" x2="538.3" y2="622.0" stroke="#111" stroke-width="1.3" />
<line x1="312.3" y1="495.0" x2="535.8" y2="623.4" stroke="#111" stroke-width="1.0" />
<polyline points="394.5,469.1 410.5,469.1" fill="none" stroke="#111" stroke-width="3.6" stroke-linejoin="round" stroke-linecap="round" />
<polyline points="428.9,468.5 444.5,467.5 452.5,472.5" fill="none" stroke="#111" stroke-width="3.6" stroke-linejoin="round" stroke-linecap="round" />
<path d="M394.5,469.5 Q381.5,476.5 395.5,483.5" fill="none" stroke="#111" stroke-width="3.0"/>
<line x1="394.5" y1="483.5" x2="408.5" y2="476.5" stroke="#111" stroke-width="3.8" />
<line x1="431.3" y1="474.8" x2="443.5" y2="482.5" stroke="#111" stroke-width="3.8" />
<line x1="397.1" y1="455.9" x2="408.5" y2="461.5" stroke="#111" stroke-width="3.0" />
<line x1="429.5" y1="460.9" x2="449.5" y2="449.5" stroke="#111" stroke-width="3.0" />
<polyline points="418.5,464.5 418.5,453.5 424.5,451.5" fill="none" stroke="#111" stroke-width="3.2" stroke-linejoin="round" stroke-linecap="round" />
<polyline points="391.5,505.5 391.5,496.5 396.5,493.5" fill="none" stroke="#111" stroke-width="3.0" stroke-linejoin="round" stroke-linecap="round" />
<polyline points="345.2,498.6 361.2,498.6" fill="none" stroke="#111" stroke-width="3.6" stroke-linejoin="round" stroke-linecap="round" />
<polyline points="379.6,498.0 395.2,497.0 403.2,502.0" fill="none" stroke="#111" stroke-width="3.6" stroke-linejoin="round" stroke-linecap="round" />
<path d="M345.2,499.0 Q332.2,506.0 346.2,513.0" fill="none" stroke="#111" stroke-width="3.0"/>
<line x1="345.2" y1="513.0" x2="359.2" y2="506.0" stroke="#111" stroke-width="3.8" />
<line x1="382.0" y1="504.3" x2="394.2" y2="512.0" stroke="#111" stroke-width="3.8" />
<line x1="347.8" y1="485.4" x2="359.2" y2="491.0" stroke="#111" stroke-width="3.0" />
<line x1="380.2" y1="490.4" x2="400.2" y2="479.0" stroke="#111" stroke-width="3.0" />
<polyline points="369.2,494.0 369.2,483.0 375.2,481.0" fill="none" stroke="#111" stroke-width="3.2" stroke-linejoin="round" stroke-linecap="round" />
<polyline points="342.2,535.0 342.2,526.0 347.2,523.0" fill="none" stroke="#111" stroke-width="3.0" stroke-linejoin="round" stroke-linecap="round" />
<polyline points="445.3,498.3 461.3,498.3" fill="none" stroke="#111" stroke-width="3.6" stroke-linejoin="round" stroke-linecap="round" />
<polyline points="479.7,497.7 495.3,496.7 503.3,501.7" fill="none" stroke="#111" stroke-width="3.6" stroke-linejoin="round" stroke-linecap="round" />
<path d="M445.3,498.7 Q432.3,505.7 446.3,512.7" fill="none" stroke="#111" stroke-width="3.0"/>
<line x1="445.3" y1="512.7" x2="459.3" y2="505.7" stroke="#111" stroke-width="3.8" />
<line x1="482.1" y1="504.0" x2="494.3" y2="511.7" stroke="#111" stroke-width="3.8" />
<line x1="447.9" y1="485.1" x2="459.3" y2="490.7" stroke="#111" stroke-width="3.0" />
<line x1="480.3" y1="490.1" x2="500.3" y2="478.7" stroke="#111" stroke-width="3.0" />
<polyline points="469.3,493.7 469.3,482.7 475.3,480.7" fill="none" stroke="#111" stroke-width="3.2" stroke-linejoin="round" stroke-linecap="round" />
<polyline points="442.3,534.7 442.3,525.7 447.3,522.7" fill="none" stroke="#111" stroke-width="3.0" stroke-linejoin="round" stroke-linecap="round" />
<polyline points="396.0,527.8 412.0,527.8" fill="none" stroke="#111" stroke-width="3.6" stroke-linejoin="round" stroke-linecap="round" />
<polyline points="430.4,527.2 446.0,526.2 454.0,531.2" fill="none" stroke="#111" stroke-width="3.6" stroke-linejoin="round" stroke-linecap="round" />
<path d="M396.0,528.2 Q383.0,535.2 397.0,542.2" fill="none" stroke="#111" stroke-width="3.0"/>
<line x1="396.0" y1="542.2" x2="410.0" y2="535.2" stroke="#111" stroke-width="3.8" />
<line x1="432.8" y1="533.5" x2="445.0" y2="541.2" stroke="#111" stroke-width="3.8" />
<line x1="398.6" y1="514.6" x2="410.0" y2="520.2" stroke="#111" stroke-width="3.0" />
<line x1="431.0" y1="519.6" x2="451.0" y2="508.2" stroke="#111" stroke-width="3.0" />
<polyline points="420.0,523.2 420.0,512.2 426.0,510.2" fill="none" stroke="#111" stroke-width="3.2" stroke-linejoin="round" stroke-linecap="round" />
<polyline points="393.0,564.2 393.0,555.2 398.0,552.2" fill="none" stroke="#111" stroke-width="3.0" stroke-linejoin="round" stroke-linecap="round" />
<polyline points="496.1,527.5 512.1,527.5" fill="none" stroke="#111" stroke-width="3.6" stroke-linejoin="round" stroke-linecap="round" />
<polyline points="530.5,526.9 546.1,525.9 554.1,530.9" fill="none" stroke="#111" stroke-width="3.6" stroke-linejoin="round" stroke-linecap="round" />
<path d="M496.1,527.9 Q483.1,534.9 497.1,541.9" fill="none" stroke="#111" stroke-width="3.0"/>
<line x1="496.1" y1="541.9" x2="510.1" y2="534.9" stroke="#111" stroke-width="3.8" />
<line x1="532.9" y1="533.2" x2="545.1" y2="540.9" stroke="#111" stroke-width="3.8" />
<line x1="498.7" y1="514.3" x2="510.1" y2="519.9" stroke="#111" stroke-width="3.0" />
<line x1="531.1" y1="519.3" x2="551.1" y2="507.9" stroke="#111" stroke-width="3.0" />
<polyline points="520.1,522.9 520.1,511.9 526.1,509.9" fill="none" stroke="#111" stroke-width="3.2" stroke-linejoin="round" stroke-linecap="round" />
<polyline points="493.1,563.9 493.1,554.9 498.1,551.9" fill="none" stroke="#111" stroke-width="3.0" stroke-linejoin="round" stroke-linecap="round" />
<polyline points="446.8,557.0 462.8,557.0" fill="none" stroke="#111" stroke-width="3.6" stroke-linejoin="round" stroke-linecap="round" />
<polyline points="481.2,556.4 496.8,555.4 504.8,560.4" fill="none" stroke="#111" stroke-width="3.6" stroke-linejoin="round" stroke-linecap="round" />
<path d="M446.8,557.4 Q433.8,564.4 447.8,571.4" fill="none" stroke="#111" stroke-width="3.0"/>
<line x1="446.8" y1="571.4" x2="460.8" y2="564.4" stroke="#111" stroke-width="3.8" />
<line x1="483.6" y1="562.7" x2="495.8" y2="570.4" stroke="#111" stroke-width="3.8" />
<line x1="449.4" y1="543.8" x2="460.8" y2="549.4" stroke="#111" stroke-width="3.0" />
<line x1="481.8" y1="548.8" x2="501.8" y2="537.4" stroke="#111" stroke-width="3.0" />
<polyline points="470.8,552.4 470.8,541.4 476.8,539.4" fill="none" stroke="#111" stroke-width="3.2" stroke-linejoin="round" stroke-linecap="round" />
<polyline points="443.8,593.4 443.8,584.4 448.8,581.4" fill="none" stroke="#111" stroke-width="3.0" stroke-linejoin="round" stroke-linecap="round" />
<polyline points="546.9,556.7 562.9,556.7" fill="none" stroke="#111" stroke-width="3.6" stroke-linejoin="round" stroke-linecap="round" />
<polyline points="581.3,556.1 596.9,555.1 604.9,560.1" fill="none" stroke="#111" stroke-width="3.6" stroke-linejoin="round" stroke-linecap="round" />
<path d="M546.9,557.1 Q533.9,564.1 547.9,571.1" fill="none" stroke="#111" stroke-width="3.0"/>
<line x1="546.9" y1="571.1" x2="560.9" y2="564.1" stroke="#111" stroke-width="3.8" />
<line x1="583.7" y1="562.4" x2="595.9" y2="570.1" stroke="#111" stroke-width="3.8" />
<line x1="549.5" y1="543.5" x2="560.9" y2="549.1" stroke="#111" stroke-width="3.0" />
<line x1="581.9" y1="548.5" x2="601.9" y2="537.1" stroke="#111" stroke-width="3.0" />
<polyline points="570.9,552.1 570.9,541.1 576.9,539.1" fill="none" stroke="#111" stroke-width="3.2" stroke-linejoin="round" stroke-linecap="round" />
<polyline points="543.9,593.1 543.9,584.1 548.9,581.1" fill="none" stroke="#111" stroke-width="3.0" stroke-linejoin="round" stroke-linecap="round" />
<polyline points="497.6,586.2 513.6,586.2" fill="none" stroke="#111" stroke-width="3.6" stroke-linejoin="round" stroke-linecap="round" />
<polyline points="532.0,585.6 547.6,584.6 555.6,589.6" fill="none" stroke="#111" stroke-width="3.6" stroke-linejoin="round" stroke-linecap="round" />
<path d="M497.6,586.6 Q484.6,593.6 498.6,600.6" fill="none" stroke="#111" stroke-width="3.0"/>
<line x1="497.6" y1="600.6" x2="511.6" y2="593.6" stroke="#111" stroke-width="3.8" />
<line x1="534.4" y1="591.9" x2="546.6" y2="599.6" stroke="#111" stroke-width="3.8" />
<line x1="500.2" y1="573.0" x2="511.6" y2="578.6" stroke="#111" stroke-width="3.0" />
<line x1="532.6" y1="578.0" x2="552.6" y2="566.6" stroke="#111" stroke-width="3.0" />
<polyline points="521.6,581.6 521.6,570.6 527.6,568.6" fill="none" stroke="#111" stroke-width="3.2" stroke-linejoin="round" stroke-linecap="round" />
<polyline points="494.6,622.6 494.6,613.6 499.6,610.6" fill="none" stroke="#111" stroke-width="3.0" stroke-linejoin="round" stroke-linecap="round" />
<ellipse cx="419.5" cy="486.0" rx="12.5" ry="6.8" fill="#151515"/>
<ellipse cx="419.5" cy="489.0" rx="6" ry="2.4" fill="none" stroke="#aaa" stroke-width="0.9"/>
<ellipse cx="419.5" cy="478.5" rx="11.6" ry="6.9" fill="#fff" stroke="#111" stroke-width="1.2"/>
<ellipse cx="419.5" cy="478.2" rx="8.4" ry="4.7" fill="none" stroke="#111" stroke-width="1.3"/>
<ellipse cx="419.5" cy="478.2" rx="5.2" ry="3" fill="none" stroke="#111" stroke-width="1.6"/>
<line x1="419.5" y1="473.5" x2="419.5" y2="483.1" stroke="#111" stroke-width="1.8" />
<ellipse cx="370.2" cy="515.5" rx="12.5" ry="6.8" fill="#151515"/>
<ellipse cx="370.2" cy="518.5" rx="6" ry="2.4" fill="none" stroke="#aaa" stroke-width="0.9"/>
<ellipse cx="370.2" cy="508.0" rx="11.6" ry="6.9" fill="#fff" stroke="#111" stroke-width="1.2"/>
<ellipse cx="370.2" cy="507.7" rx="8.4" ry="4.7" fill="none" stroke="#111" stroke-width="1.3"/>
<ellipse cx="370.2" cy="507.7" rx="5.2" ry="3" fill="none" stroke="#111" stroke-width="1.6"/>
<line x1="370.2" y1="503.0" x2="370.2" y2="512.6" stroke="#111" stroke-width="1.8" />
<ellipse cx="470.3" cy="515.2" rx="12.5" ry="6.8" fill="#151515"/>
<ellipse cx="470.3" cy="518.2" rx="6" ry="2.4" fill="none" stroke="#aaa" stroke-width="0.9"/>
<ellipse cx="470.3" cy="507.7" rx="11.6" ry="6.9" fill="#fff" stroke="#111" stroke-width="1.2"/>
<ellipse cx="470.3" cy="507.4" rx="8.4" ry="4.7" fill="none" stroke="#111" stroke-width="1.3"/>
<ellipse cx="470.3" cy="507.4" rx="5.2" ry="3" fill="none" stroke="#111" stroke-width="1.6"/>
<line x1="470.3" y1="502.7" x2="470.3" y2="512.3" stroke="#111" stroke-width="1.8" />
<ellipse cx="421.0" cy="544.7" rx="12.5" ry="6.8" fill="#151515"/>
<ellipse cx="421.0" cy="547.7" rx="6" ry="2.4" fill="none" stroke="#aaa" stroke-width="0.9"/>
<ellipse cx="421.0" cy="537.2" rx="11.6" ry="6.9" fill="#fff" stroke="#111" stroke-width="1.2"/>
<ellipse cx="421.0" cy="536.9" rx="8.4" ry="4.7" fill="none" stroke="#111" stroke-width="1.3"/>
<ellipse cx="421.0" cy="536.9" rx="5.2" ry="3" fill="none" stroke="#111" stroke-width="1.6"/>
<line x1="421.0" y1="532.2" x2="421.0" y2="541.8" stroke="#111" stroke-width="1.8" />
<ellipse cx="521.1" cy="544.4" rx="12.5" ry="6.8" fill="#151515"/>
<ellipse cx="521.1" cy="547.4" rx="6" ry="2.4" fill="none" stroke="#aaa" stroke-width="0.9"/>
<ellipse cx="521.1" cy="536.9" rx="11.6" ry="6.9" fill="#fff" stroke="#111" stroke-width="1.2"/>
<ellipse cx="521.1" cy="536.6" rx="8.4" ry="4.7" fill="none" stroke="#111" stroke-width="1.3"/>
<ellipse cx="521.1" cy="536.6" rx="5.2" ry="3" fill="none" stroke="#111" stroke-width="1.6"/>
<line x1="521.1" y1="531.9" x2="521.1" y2="541.5" stroke="#111" stroke-width="1.8" />
<ellipse cx="471.8" cy="573.9" rx="12.5" ry="6.8" fill="#151515"/>
<ellipse cx="471.8" cy="576.9" rx="6" ry="2.4" fill="none" stroke="#aaa" stroke-width="0.9"/>
<ellipse cx="471.8" cy="566.4" rx="11.6" ry="6.9" fill="#fff" stroke="#111" stroke-width="1.2"/>
<ellipse cx="471.8" cy="566.1" rx="8.4" ry="4.7" fill="none" stroke="#111" stroke-width="1.3"/>
<ellipse cx="471.8" cy="566.1" rx="5.2" ry="3" fill="none" stroke="#111" stroke-width="1.6"/>
<line x1="471.8" y1="561.4" x2="471.8" y2="571.0" stroke="#111" stroke-width="1.8" />
<ellipse cx="571.9" cy="573.6" rx="12.5" ry="6.8" fill="#151515"/>
<ellipse cx="571.9" cy="576.6" rx="6" ry="2.4" fill="none" stroke="#aaa" stroke-width="0.9"/>
<ellipse cx="571.9" cy="566.1" rx="11.6" ry="6.9" fill="#fff" stroke="#111" stroke-width="1.2"/>
<ellipse cx="571.9" cy="565.8" rx="8.4" ry="4.7" fill="none" stroke="#111" stroke-width="1.3"/>
<ellipse cx="571.9" cy="565.8" rx="5.2" ry="3" fill="none" stroke="#111" stroke-width="1.6"/>
<line x1="571.9" y1="561.1" x2="571.9" y2="570.7" stroke="#111" stroke-width="1.8" />
<ellipse cx="522.6" cy="603.1" rx="12.5" ry="6.8" fill="#151515"/>
<ellipse cx="522.6" cy="606.1" rx="6" ry="2.4" fill="none" stroke="#aaa" stroke-width="0.9"/>
<ellipse cx="522.6" cy="595.6" rx="11.6" ry="6.9" fill="#fff" stroke="#111" stroke-width="1.2"/>
<ellipse cx="522.6" cy="595.3" rx="8.4" ry="4.7" fill="none" stroke="#111" stroke-width="1.3"/>
<ellipse cx="522.6" cy="595.3" rx="5.2" ry="3" fill="none" stroke="#111" stroke-width="1.6"/>
<line x1="522.6" y1="590.6" x2="522.6" y2="600.2" stroke="#111" stroke-width="1.8" />
</g>
<polygon points="292.6,511.3 312.4,499.2 527.0,623.0 507.3,633.9" fill="#fff" stroke="none" stroke-width="0" stroke-linejoin="round" />
<line x1="292.6" y1="511.3" x2="312.4" y2="499.2" stroke="#111" stroke-width="1.2" />
<line x1="312.4" y1="499.2" x2="527.0" y2="623.0" stroke="#111" stroke-width="1.2" />
<line x1="292.6" y1="511.3" x2="344.1" y2="540.7" stroke="#111" stroke-width="1.2" />
<line x1="357.0" y1="548.1" x2="367.7" y2="554.2" stroke="#111" stroke-width="1.2" />
<line x1="380.6" y1="561.6" x2="391.4" y2="567.7" stroke="#111" stroke-width="1.2" />
<line x1="404.2" y1="575.1" x2="468.7" y2="611.8" stroke="#111" stroke-width="1.2" />
<line x1="479.4" y1="618.0" x2="488.0" y2="622.9" stroke="#111" stroke-width="1.2" />
<line x1="496.6" y1="627.8" x2="507.3" y2="633.9" stroke="#111" stroke-width="1.2" />
<ellipse cx="314.5" cy="539.8" rx="8.3" ry="9.8" fill="#fff" stroke="#111" stroke-width="1.7"/>
<ellipse cx="315.0" cy="539.8" rx="6.3" ry="7.8" fill="none" stroke="#333" stroke-width="1.0"/>
<path d="M305.0,548.3 L305.0,537.3 Q305.0,532.3 309.5,532.3 L311.5,532.3 Q316.0,532.3 316.0,537.3 L316.0,549.3 L310.0,550.8 Z" fill="#fff" stroke="#111" stroke-width="1.4" stroke-linejoin="round"/>
<line x1="308.5" y1="533.3" x2="308.5" y2="550.3" stroke="#222" stroke-width="0.8"/>
<path d="M311.3,549.8 L311.3,541.3 Q313.4,537.3 315.4,541.3 L315.4,549.3" fill="none" stroke="#111" stroke-width="2.3"/>
<ellipse cx="334.7" cy="550.7" rx="8.3" ry="9.8" fill="#fff" stroke="#111" stroke-width="1.7"/>
<ellipse cx="335.2" cy="550.7" rx="6.3" ry="7.8" fill="none" stroke="#333" stroke-width="1.0"/>
<path d="M325.2,559.2 L325.2,548.2 Q325.2,543.2 329.7,543.2 L331.7,543.2 Q336.2,543.2 336.2,548.2 L336.2,560.2 L330.2,561.7 Z" fill="#fff" stroke="#111" stroke-width="1.4" stroke-linejoin="round"/>
<line x1="328.7" y1="544.2" x2="328.7" y2="561.2" stroke="#222" stroke-width="0.8"/>
<path d="M331.5,560.7 L331.5,552.2 Q333.6,548.2 335.6,552.2 L335.6,560.2" fill="none" stroke="#111" stroke-width="2.3"/>
<ellipse cx="381.2" cy="578.6" rx="8.3" ry="9.8" fill="#fff" stroke="#111" stroke-width="1.7"/>
<ellipse cx="381.7" cy="578.6" rx="6.3" ry="7.8" fill="none" stroke="#333" stroke-width="1.0"/>
<path d="M371.7,587.1 L371.7,576.1 Q371.7,571.1 376.2,571.1 L378.2,571.1 Q382.7,571.1 382.7,576.1 L382.7,588.1 L376.7,589.6 Z" fill="#fff" stroke="#111" stroke-width="1.4" stroke-linejoin="round"/>
<line x1="375.2" y1="572.1" x2="375.2" y2="589.1" stroke="#222" stroke-width="0.8"/>
<path d="M378.0,588.6 L378.0,580.1 Q380.1,576.1 382.1,580.1 L382.1,588.1" fill="none" stroke="#111" stroke-width="2.3"/>
<ellipse cx="399.8" cy="589.5" rx="8.3" ry="9.8" fill="#fff" stroke="#111" stroke-width="1.7"/>
<ellipse cx="400.3" cy="589.5" rx="6.3" ry="7.8" fill="none" stroke="#333" stroke-width="1.0"/>
<path d="M390.3,598.0 L390.3,587.0 Q390.3,582.0 394.8,582.0 L396.8,582.0 Q401.3,582.0 401.3,587.0 L401.3,599.0 L395.3,600.5 Z" fill="#fff" stroke="#111" stroke-width="1.4" stroke-linejoin="round"/>
<line x1="393.8" y1="583.0" x2="393.8" y2="600.0" stroke="#222" stroke-width="0.8"/>
<path d="M396.6,599.5 L396.6,591.0 Q398.7,587.0 400.7,591.0 L400.7,599.0" fill="none" stroke="#111" stroke-width="2.3"/>
<ellipse cx="416.9" cy="598.8" rx="8.3" ry="9.8" fill="#fff" stroke="#111" stroke-width="1.7"/>
<ellipse cx="417.4" cy="598.8" rx="6.3" ry="7.8" fill="none" stroke="#333" stroke-width="1.0"/>
<path d="M407.4,607.3 L407.4,596.3 Q407.4,591.3 411.9,591.3 L413.9,591.3 Q418.4,591.3 418.4,596.3 L418.4,608.3 L412.4,609.8 Z" fill="#fff" stroke="#111" stroke-width="1.4" stroke-linejoin="round"/>
<line x1="410.9" y1="592.3" x2="410.9" y2="609.3" stroke="#222" stroke-width="0.8"/>
<path d="M413.7,608.8 L413.7,600.3 Q415.8,596.3 417.8,600.3 L417.8,608.3" fill="none" stroke="#111" stroke-width="2.3"/>
<ellipse cx="435.5" cy="608.1" rx="8.3" ry="9.8" fill="#fff" stroke="#111" stroke-width="1.7"/>
<ellipse cx="436.0" cy="608.1" rx="6.3" ry="7.8" fill="none" stroke="#333" stroke-width="1.0"/>
<path d="M426.0,616.6 L426.0,605.6 Q426.0,600.6 430.5,600.6 L432.5,600.6 Q437.0,600.6 437.0,605.6 L437.0,617.6 L431.0,619.1 Z" fill="#fff" stroke="#111" stroke-width="1.4" stroke-linejoin="round"/>
<line x1="429.5" y1="601.6" x2="429.5" y2="618.6" stroke="#222" stroke-width="0.8"/>
<path d="M432.3,618.1 L432.3,609.6 Q434.4,605.6 436.4,609.6 L436.4,617.6" fill="none" stroke="#111" stroke-width="2.3"/>
<ellipse cx="482.0" cy="636.0" rx="8.3" ry="9.8" fill="#fff" stroke="#111" stroke-width="1.7"/>
<ellipse cx="482.5" cy="636.0" rx="6.3" ry="7.8" fill="none" stroke="#333" stroke-width="1.0"/>
<path d="M472.5,644.5 L472.5,633.5 Q472.5,628.5 477.0,628.5 L479.0,628.5 Q483.5,628.5 483.5,633.5 L483.5,645.5 L477.5,647.0 Z" fill="#fff" stroke="#111" stroke-width="1.4" stroke-linejoin="round"/>
<line x1="476.0" y1="629.5" x2="476.0" y2="646.5" stroke="#222" stroke-width="0.8"/>
<path d="M478.8,646.0 L478.8,637.5 Q480.9,633.5 482.9,637.5 L482.9,645.5" fill="none" stroke="#111" stroke-width="2.3"/>
<ellipse cx="500.6" cy="646.8" rx="8.3" ry="9.8" fill="#fff" stroke="#111" stroke-width="1.7"/>
<ellipse cx="501.1" cy="646.8" rx="6.3" ry="7.8" fill="none" stroke="#333" stroke-width="1.0"/>
<path d="M491.1,655.3 L491.1,644.3 Q491.1,639.3 495.6,639.3 L497.6,639.3 Q502.1,639.3 502.1,644.3 L502.1,656.3 L496.1,657.8 Z" fill="#fff" stroke="#111" stroke-width="1.4" stroke-linejoin="round"/>
<line x1="494.6" y1="640.3" x2="494.6" y2="657.3" stroke="#222" stroke-width="0.8"/>
<path d="M497.4,656.8 L497.4,648.3 Q499.5,644.3 501.5,648.3 L501.5,656.3" fill="none" stroke="#111" stroke-width="2.3"/>
<rect x="340.2" y="560.8" width="3.6" height="2.4" fill="#111" transform="rotate(30 342 562)"/>
<rect x="439.5" y="618.1999999999999" width="3.6" height="2.4" fill="#111" transform="rotate(30 441.3 619.4)"/>
<rect x="507.7" y="657.0" width="3.6" height="2.4" fill="#111" transform="rotate(30 509.5 658.2)"/>
<ellipse cx="340.4" cy="417.8" rx="11.6" ry="10.5" fill="#fff" stroke="#1a1a1a" stroke-width="2.8"/>
<ellipse cx="396.2" cy="408.3" rx="11.6" ry="10.5" fill="#fff" stroke="#1a1a1a" stroke-width="2.8"/>
<ellipse cx="522.0" cy="433.8" rx="11.6" ry="10.5" fill="#fff" stroke="#1a1a1a" stroke-width="2.8"/>
<ellipse cx="625.0" cy="472.6" rx="11.6" ry="10.5" fill="#fff" stroke="#1a1a1a" stroke-width="2.8"/>
<line x1="343.7" y1="429.2" x2="361.6" y2="502.7" stroke="#111" stroke-width="2.0" />
<line x1="396.2" y1="419.4" x2="419.6" y2="474.9" stroke="#111" stroke-width="2.0" />
<line x1="520.0" y1="446.0" x2="508.2" y2="476.9" stroke="#111" stroke-width="2.0" />
<line x1="623.9" y1="484.3" x2="564.5" y2="511.9" stroke="#111" stroke-width="2.0" />
<line x1="623.9" y1="484.3" x2="577.2" y2="558.6" stroke="#111" stroke-width="2.0" />
<line x1="165" y1="335.1" x2="292" y2="509" stroke="#111" stroke-width="1.3"/>
<line x1="220.8" y1="335.1" x2="293" y2="509" stroke="#111" stroke-width="1.3"/>
<ellipse cx="159.2" cy="556.7" rx="11.6" ry="10.5" fill="#fff" stroke="#1a1a1a" stroke-width="2.8"/>
<ellipse cx="159.9" cy="593" rx="11.6" ry="10.5" fill="#fff" stroke="#1a1a1a" stroke-width="2.8"/>
<line x1="171.6" y1="556.5" x2="300.3" y2="523.4" stroke="#111" stroke-width="2"/>
<line x1="172.6" y1="592.5" x2="301.2" y2="525.3" stroke="#111" stroke-width="2"/>
<rect x="87" y="820.5" width="1029.5" height="96" fill="#fff" stroke="#111" stroke-width="1.2"/>
<line x1="86.5" y1="820.5" x2="1118" y2="820.5" stroke="#111" stroke-width="3.0"/>
<line x1="87" y1="918.6" x2="1117" y2="918.6" stroke="#333" stroke-width="1.1"/>
<circle cx="115" cy="865.5" r="9" fill="#fff" stroke="#333" stroke-width="1.0"/>
<circle cx="115" cy="865.5" r="6.8" fill="#dad6d4" stroke="#333" stroke-width="1.0"/>
<circle cx="1077.7" cy="865.4" r="9" fill="#fff" stroke="#333" stroke-width="1.0"/>
<circle cx="1077.7" cy="865.4" r="6.8" fill="#dad6d4" stroke="#333" stroke-width="1.0"/>
<path d="M112.6,847.5 A3.3,3.3 0 1 1 116.2,847.6 L114.5,850.5 Z" fill="#fff" stroke="#333" stroke-width="0.9"/>
<line x1="114.5" y1="806" x2="114.5" y2="841.2" stroke="#111" stroke-width="1.2"/>
<path d="M113.6,849.3 L115.2,849.8 L114.6,852 Z" fill="#111"/>
<line x1="1077.7" y1="882" x2="1077.7" y2="926.8" stroke="#111" stroke-width="1.6"/>
<path d="M204.80,866.60 L204.72,875.88 L204.49,880.21 L204.11,883.59 L203.57,886.43 L202.88,888.91 L202.03,891.09 L201.02,893.03 L199.84,894.76 L198.49,896.29 L196.96,897.64 L195.23,898.82 L193.29,899.83 L191.11,900.68 L188.63,901.37 L185.79,901.91 L182.41,902.29 L178.08,902.52 L168.80,902.60 L159.52,902.52 L155.19,902.29 L151.81,901.91 L148.97,901.37 L146.49,900.68 L144.31,899.83 L142.37,898.82 L140.64,897.64 L139.11,896.29 L137.76,894.76 L136.58,893.03 L135.57,891.09 L134.72,888.91 L134.03,886.43 L133.49,883.59 L133.11,880.21 L132.88,875.88 L132.80,866.60 L132.88,857.32 L133.11,852.99 L133.49,849.61 L134.03,846.77 L134.72,844.29 L135.57,842.11 L136.58,840.17 L137.76,838.44 L139.11,836.91 L140.64,835.56 L142.37,834.38 L144.31,833.37 L146.49,832.52 L148.97,831.83 L151.81,831.29 L155.19,830.91 L159.52,830.68 L168.80,830.60 L178.08,830.68 L182.41,830.91 L185.79,831.29 L188.63,831.83 L191.11,832.52 L193.29,833.37 L195.23,834.38 L196.96,835.56 L198.49,836.91 L199.84,838.44 L201.02,840.17 L202.03,842.11 L202.88,844.29 L203.57,846.77 L204.11,849.61 L204.49,852.99 L204.72,857.32Z" fill="#fff" stroke="#1a1a1a" stroke-width="0.95"/>
<path d="M197.87,866.60 L197.82,874.62 L197.64,878.13 L197.35,880.82 L196.94,883.07 L196.41,885.01 L195.75,886.71 L194.98,888.22 L194.07,889.56 L193.03,890.74 L191.84,891.78 L190.50,892.68 L188.99,893.46 L187.28,894.11 L185.33,894.63 L183.07,895.04 L180.37,895.34 L176.85,895.51 L168.80,895.57 L160.75,895.51 L157.23,895.34 L154.53,895.04 L152.27,894.63 L150.32,894.11 L148.61,893.46 L147.10,892.68 L145.76,891.78 L144.57,890.74 L143.53,889.56 L142.62,888.22 L141.85,886.71 L141.19,885.01 L140.66,883.07 L140.25,880.82 L139.96,878.13 L139.78,874.62 L139.73,866.60 L139.78,858.58 L139.96,855.07 L140.25,852.38 L140.66,850.13 L141.19,848.19 L141.85,846.49 L142.62,844.98 L143.53,843.64 L144.57,842.46 L145.76,841.42 L147.10,840.52 L148.61,839.74 L150.32,839.09 L152.27,838.57 L154.53,838.16 L157.23,837.86 L160.75,837.69 L168.80,837.63 L176.85,837.69 L180.37,837.86 L183.07,838.16 L185.33,838.57 L187.28,839.09 L188.99,839.74 L190.50,840.52 L191.84,841.42 L193.03,842.46 L194.07,843.64 L194.98,844.98 L195.75,846.49 L196.41,848.19 L196.94,850.13 L197.35,852.38 L197.64,855.07 L197.82,858.58Z" fill="none" stroke="#1a1a1a" stroke-width="0.9"/>
<circle cx="168.8" cy="867.239" r="27.7965" fill="none" stroke="#444" stroke-width="0.6"/>
<circle cx="168.8" cy="866.9195" r="22.790999999999997" fill="#e8e8e8" stroke="#222" stroke-width="0.85"/>
<path d="M156.7,848.5 Q158.6,866.6 156.7,884.7" fill="none" stroke="#555" stroke-width="0.7"/>
<path d="M180.9,848.5 Q179.0,866.6 180.9,884.7" fill="none" stroke="#555" stroke-width="0.7"/>
<line x1="194.1" y1="885.3" x2="200.0" y2="889.7" stroke="#888" stroke-width="0.55"/>
<line x1="150.1" y1="891.9" x2="145.7" y2="897.8" stroke="#888" stroke-width="0.55"/>
<line x1="143.5" y1="847.9" x2="137.6" y2="843.5" stroke="#888" stroke-width="0.55"/>
<line x1="187.5" y1="841.3" x2="191.9" y2="835.4" stroke="#888" stroke-width="0.55"/>
<line x1="187.5" y1="891.9" x2="191.9" y2="897.8" stroke="#888" stroke-width="0.55"/>
<line x1="143.5" y1="885.3" x2="137.6" y2="889.7" stroke="#888" stroke-width="0.55"/>
<line x1="150.1" y1="841.3" x2="145.7" y2="835.4" stroke="#888" stroke-width="0.55"/>
<line x1="194.1" y1="847.9" x2="200.0" y2="843.5" stroke="#888" stroke-width="0.55"/>
<rect x="167.2" y="832.5" width="3.2" height="4.5" fill="#fff" stroke="#111" stroke-width="0.9"/>
<line x1="165.6" y1="896.0" x2="172.0" y2="896.0" stroke="#333" stroke-width="0.8"/>
<line x1="164.5" y1="902.8" x2="173.1" y2="902.8" stroke="#222" stroke-width="1.0"/>
<path d="M282.50,866.60 L282.42,875.88 L282.19,880.21 L281.81,883.59 L281.27,886.43 L280.58,888.91 L279.73,891.09 L278.72,893.03 L277.54,894.76 L276.19,896.29 L274.66,897.64 L272.93,898.82 L270.99,899.83 L268.81,900.68 L266.33,901.37 L263.49,901.91 L260.11,902.29 L255.78,902.52 L246.50,902.60 L237.22,902.52 L232.89,902.29 L229.51,901.91 L226.67,901.37 L224.19,900.68 L222.01,899.83 L220.07,898.82 L218.34,897.64 L216.81,896.29 L215.46,894.76 L214.28,893.03 L213.27,891.09 L212.42,888.91 L211.73,886.43 L211.19,883.59 L210.81,880.21 L210.58,875.88 L210.50,866.60 L210.58,857.32 L210.81,852.99 L211.19,849.61 L211.73,846.77 L212.42,844.29 L213.27,842.11 L214.28,840.17 L215.46,838.44 L216.81,836.91 L218.34,835.56 L220.07,834.38 L222.01,833.37 L224.19,832.52 L226.67,831.83 L229.51,831.29 L232.89,830.91 L237.22,830.68 L246.50,830.60 L255.78,830.68 L260.11,830.91 L263.49,831.29 L266.33,831.83 L268.81,832.52 L270.99,833.37 L272.93,834.38 L274.66,835.56 L276.19,836.91 L277.54,838.44 L278.72,840.17 L279.73,842.11 L280.58,844.29 L281.27,846.77 L281.81,849.61 L282.19,852.99 L282.42,857.32Z" fill="#fff" stroke="#1a1a1a" stroke-width="0.95"/>
<path d="M275.57,866.60 L275.52,874.62 L275.34,878.13 L275.05,880.82 L274.64,883.07 L274.11,885.01 L273.45,886.71 L272.68,888.22 L271.77,889.56 L270.73,890.74 L269.54,891.78 L268.20,892.68 L266.69,893.46 L264.98,894.11 L263.03,894.63 L260.77,895.04 L258.07,895.34 L254.55,895.51 L246.50,895.57 L238.45,895.51 L234.93,895.34 L232.23,895.04 L229.97,894.63 L228.02,894.11 L226.31,893.46 L224.80,892.68 L223.46,891.78 L222.27,890.74 L221.23,889.56 L220.32,888.22 L219.55,886.71 L218.89,885.01 L218.36,883.07 L217.95,880.82 L217.66,878.13 L217.48,874.62 L217.43,866.60 L217.48,858.58 L217.66,855.07 L217.95,852.38 L218.36,850.13 L218.89,848.19 L219.55,846.49 L220.32,844.98 L221.23,843.64 L222.27,842.46 L223.46,841.42 L224.80,840.52 L226.31,839.74 L228.02,839.09 L229.97,838.57 L232.23,838.16 L234.93,837.86 L238.45,837.69 L246.50,837.63 L254.55,837.69 L258.07,837.86 L260.77,838.16 L263.03,838.57 L264.98,839.09 L266.69,839.74 L268.20,840.52 L269.54,841.42 L270.73,842.46 L271.77,843.64 L272.68,844.98 L273.45,846.49 L274.11,848.19 L274.64,850.13 L275.05,852.38 L275.34,855.07 L275.52,858.58Z" fill="none" stroke="#1a1a1a" stroke-width="0.9"/>
<circle cx="246.5" cy="867.239" r="27.7965" fill="none" stroke="#444" stroke-width="0.6"/>
<circle cx="246.5" cy="866.9195" r="22.790999999999997" fill="#e8e8e8" stroke="#222" stroke-width="0.85"/>
<path d="M234.4,848.5 Q236.3,866.6 234.4,884.7" fill="none" stroke="#555" stroke-width="0.7"/>
<path d="M258.6,848.5 Q256.7,866.6 258.6,884.7" fill="none" stroke="#555" stroke-width="0.7"/>
<line x1="271.8" y1="885.3" x2="277.7" y2="889.7" stroke="#888" stroke-width="0.55"/>
<line x1="227.8" y1="891.9" x2="223.4" y2="897.8" stroke="#888" stroke-width="0.55"/>
<line x1="221.2" y1="847.9" x2="215.3" y2="843.5" stroke="#888" stroke-width="0.55"/>
<line x1="265.2" y1="841.3" x2="269.6" y2="835.4" stroke="#888" stroke-width="0.55"/>
<line x1="265.2" y1="891.9" x2="269.6" y2="897.8" stroke="#888" stroke-width="0.55"/>
<line x1="221.2" y1="885.3" x2="215.3" y2="889.7" stroke="#888" stroke-width="0.55"/>
<line x1="227.8" y1="841.3" x2="223.4" y2="835.4" stroke="#888" stroke-width="0.55"/>
<line x1="271.8" y1="847.9" x2="277.7" y2="843.5" stroke="#888" stroke-width="0.55"/>
<rect x="244.9" y="832.5" width="3.2" height="4.5" fill="#fff" stroke="#111" stroke-width="0.9"/>
<line x1="243.3" y1="896.0" x2="249.7" y2="896.0" stroke="#333" stroke-width="0.8"/>
<line x1="242.2" y1="902.8" x2="250.8" y2="902.8" stroke="#222" stroke-width="1.0"/>
<path d="M394.40,866.30 L394.32,875.58 L394.09,879.91 L393.71,883.29 L393.17,886.13 L392.48,888.61 L391.63,890.79 L390.62,892.73 L389.44,894.46 L388.09,895.99 L386.56,897.34 L384.83,898.52 L382.89,899.53 L380.71,900.38 L378.23,901.07 L375.39,901.61 L372.01,901.99 L367.68,902.22 L358.40,902.30 L349.12,902.22 L344.79,901.99 L341.41,901.61 L338.57,901.07 L336.09,900.38 L333.91,899.53 L331.97,898.52 L330.24,897.34 L328.71,895.99 L327.36,894.46 L326.18,892.73 L325.17,890.79 L324.32,888.61 L323.63,886.13 L323.09,883.29 L322.71,879.91 L322.48,875.58 L322.40,866.30 L322.48,857.02 L322.71,852.69 L323.09,849.31 L323.63,846.47 L324.32,843.99 L325.17,841.81 L326.18,839.87 L327.36,838.14 L328.71,836.61 L330.24,835.26 L331.97,834.08 L333.91,833.07 L336.09,832.22 L338.57,831.53 L341.41,830.99 L344.79,830.61 L349.12,830.38 L358.40,830.30 L367.68,830.38 L372.01,830.61 L375.39,830.99 L378.23,831.53 L380.71,832.22 L382.89,833.07 L384.83,834.08 L386.56,835.26 L388.09,836.61 L389.44,838.14 L390.62,839.87 L391.63,841.81 L392.48,843.99 L393.17,846.47 L393.71,849.31 L394.09,852.69 L394.32,857.02Z" fill="#fff" stroke="#1a1a1a" stroke-width="0.95"/>
<path d="M387.47,866.30 L387.42,874.32 L387.24,877.83 L386.95,880.52 L386.54,882.77 L386.01,884.71 L385.35,886.41 L384.58,887.92 L383.67,889.26 L382.63,890.44 L381.44,891.48 L380.10,892.38 L378.59,893.16 L376.88,893.81 L374.93,894.33 L372.67,894.74 L369.97,895.04 L366.45,895.21 L358.40,895.27 L350.35,895.21 L346.83,895.04 L344.13,894.74 L341.87,894.33 L339.92,893.81 L338.21,893.16 L336.70,892.38 L335.36,891.48 L334.17,890.44 L333.13,889.26 L332.22,887.92 L331.45,886.41 L330.79,884.71 L330.26,882.77 L329.85,880.52 L329.56,877.83 L329.38,874.32 L329.33,866.30 L329.38,858.28 L329.56,854.77 L329.85,852.08 L330.26,849.83 L330.79,847.89 L331.45,846.19 L332.22,844.68 L333.13,843.34 L334.17,842.16 L335.36,841.12 L336.70,840.22 L338.21,839.44 L339.92,838.79 L341.87,838.27 L344.13,837.86 L346.83,837.56 L350.35,837.39 L358.40,837.33 L366.45,837.39 L369.97,837.56 L372.67,837.86 L374.93,838.27 L376.88,838.79 L378.59,839.44 L380.10,840.22 L381.44,841.12 L382.63,842.16 L383.67,843.34 L384.58,844.68 L385.35,846.19 L386.01,847.89 L386.54,849.83 L386.95,852.08 L387.24,854.77 L387.42,858.28Z" fill="none" stroke="#1a1a1a" stroke-width="0.9"/>
<circle cx="358.4" cy="866.939" r="27.7965" fill="none" stroke="#444" stroke-width="0.6"/>
<circle cx="358.4" cy="866.6194999999999" r="22.790999999999997" fill="#e8e8e8" stroke="#222" stroke-width="0.85"/>
<path d="M346.3,848.2 Q348.2,866.3 346.3,884.4" fill="none" stroke="#555" stroke-width="0.7"/>
<path d="M370.5,848.2 Q368.6,866.3 370.5,884.4" fill="none" stroke="#555" stroke-width="0.7"/>
<line x1="383.7" y1="885.0" x2="389.6" y2="889.4" stroke="#888" stroke-width="0.55"/>
<line x1="339.7" y1="891.6" x2="335.3" y2="897.5" stroke="#888" stroke-width="0.55"/>
<line x1="333.1" y1="847.6" x2="327.2" y2="843.2" stroke="#888" stroke-width="0.55"/>
<line x1="377.1" y1="841.0" x2="381.5" y2="835.1" stroke="#888" stroke-width="0.55"/>
<line x1="377.1" y1="891.6" x2="381.5" y2="897.5" stroke="#888" stroke-width="0.55"/>
<line x1="333.1" y1="885.0" x2="327.2" y2="889.4" stroke="#888" stroke-width="0.55"/>
<line x1="339.7" y1="841.0" x2="335.3" y2="835.1" stroke="#888" stroke-width="0.55"/>
<line x1="383.7" y1="847.6" x2="389.6" y2="843.2" stroke="#888" stroke-width="0.55"/>
<rect x="356.8" y="832.2" width="3.2" height="4.5" fill="#fff" stroke="#111" stroke-width="0.9"/>
<line x1="355.2" y1="895.7" x2="361.6" y2="895.7" stroke="#333" stroke-width="0.8"/>
<line x1="354.1" y1="902.5" x2="362.7" y2="902.5" stroke="#222" stroke-width="1.0"/>
<path d="M524.60,866.30 L524.52,875.58 L524.29,879.91 L523.91,883.29 L523.37,886.13 L522.68,888.61 L521.83,890.79 L520.82,892.73 L519.64,894.46 L518.29,895.99 L516.76,897.34 L515.03,898.52 L513.09,899.53 L510.91,900.38 L508.43,901.07 L505.59,901.61 L502.21,901.99 L497.88,902.22 L488.60,902.30 L479.32,902.22 L474.99,901.99 L471.61,901.61 L468.77,901.07 L466.29,900.38 L464.11,899.53 L462.17,898.52 L460.44,897.34 L458.91,895.99 L457.56,894.46 L456.38,892.73 L455.37,890.79 L454.52,888.61 L453.83,886.13 L453.29,883.29 L452.91,879.91 L452.68,875.58 L452.60,866.30 L452.68,857.02 L452.91,852.69 L453.29,849.31 L453.83,846.47 L454.52,843.99 L455.37,841.81 L456.38,839.87 L457.56,838.14 L458.91,836.61 L460.44,835.26 L462.17,834.08 L464.11,833.07 L466.29,832.22 L468.77,831.53 L471.61,830.99 L474.99,830.61 L479.32,830.38 L488.60,830.30 L497.88,830.38 L502.21,830.61 L505.59,830.99 L508.43,831.53 L510.91,832.22 L513.09,833.07 L515.03,834.08 L516.76,835.26 L518.29,836.61 L519.64,838.14 L520.82,839.87 L521.83,841.81 L522.68,843.99 L523.37,846.47 L523.91,849.31 L524.29,852.69 L524.52,857.02Z" fill="#fff" stroke="#1a1a1a" stroke-width="0.95"/>
<path d="M517.67,866.30 L517.62,874.32 L517.44,877.83 L517.15,880.52 L516.74,882.77 L516.21,884.71 L515.55,886.41 L514.78,887.92 L513.87,889.26 L512.83,890.44 L511.64,891.48 L510.30,892.38 L508.79,893.16 L507.08,893.81 L505.13,894.33 L502.87,894.74 L500.17,895.04 L496.65,895.21 L488.60,895.27 L480.55,895.21 L477.03,895.04 L474.33,894.74 L472.07,894.33 L470.12,893.81 L468.41,893.16 L466.90,892.38 L465.56,891.48 L464.37,890.44 L463.33,889.26 L462.42,887.92 L461.65,886.41 L460.99,884.71 L460.46,882.77 L460.05,880.52 L459.76,877.83 L459.58,874.32 L459.53,866.30 L459.58,858.28 L459.76,854.77 L460.05,852.08 L460.46,849.83 L460.99,847.89 L461.65,846.19 L462.42,844.68 L463.33,843.34 L464.37,842.16 L465.56,841.12 L466.90,840.22 L468.41,839.44 L470.12,838.79 L472.07,838.27 L474.33,837.86 L477.03,837.56 L480.55,837.39 L488.60,837.33 L496.65,837.39 L500.17,837.56 L502.87,837.86 L505.13,838.27 L507.08,838.79 L508.79,839.44 L510.30,840.22 L511.64,841.12 L512.83,842.16 L513.87,843.34 L514.78,844.68 L515.55,846.19 L516.21,847.89 L516.74,849.83 L517.15,852.08 L517.44,854.77 L517.62,858.28Z" fill="none" stroke="#1a1a1a" stroke-width="0.9"/>
<circle cx="488.6" cy="866.939" r="27.7965" fill="none" stroke="#444" stroke-width="0.6"/>
<circle cx="488.6" cy="866.6194999999999" r="22.790999999999997" fill="#e8e8e8" stroke="#222" stroke-width="0.85"/>
<path d="M476.5,848.2 Q478.4,866.3 476.5,884.4" fill="none" stroke="#555" stroke-width="0.7"/>
<path d="M500.7,848.2 Q498.8,866.3 500.7,884.4" fill="none" stroke="#555" stroke-width="0.7"/>
<line x1="513.9" y1="885.0" x2="519.8" y2="889.4" stroke="#888" stroke-width="0.55"/>
<line x1="469.9" y1="891.6" x2="465.5" y2="897.5" stroke="#888" stroke-width="0.55"/>
<line x1="463.3" y1="847.6" x2="457.4" y2="843.2" stroke="#888" stroke-width="0.55"/>
<line x1="507.3" y1="841.0" x2="511.7" y2="835.1" stroke="#888" stroke-width="0.55"/>
<line x1="507.3" y1="891.6" x2="511.7" y2="897.5" stroke="#888" stroke-width="0.55"/>
<line x1="463.3" y1="885.0" x2="457.4" y2="889.4" stroke="#888" stroke-width="0.55"/>
<line x1="469.9" y1="841.0" x2="465.5" y2="835.1" stroke="#888" stroke-width="0.55"/>
<line x1="513.9" y1="847.6" x2="519.8" y2="843.2" stroke="#888" stroke-width="0.55"/>
<rect x="487.0" y="832.2" width="3.2" height="4.5" fill="#fff" stroke="#111" stroke-width="0.9"/>
<line x1="485.4" y1="895.7" x2="491.8" y2="895.7" stroke="#333" stroke-width="0.8"/>
<line x1="484.3" y1="902.5" x2="492.9" y2="902.5" stroke="#222" stroke-width="1.0"/>
<path d="M602.30,866.30 L602.22,875.58 L601.99,879.91 L601.61,883.29 L601.07,886.13 L600.38,888.61 L599.53,890.79 L598.52,892.73 L597.34,894.46 L595.99,895.99 L594.46,897.34 L592.73,898.52 L590.79,899.53 L588.61,900.38 L586.13,901.07 L583.29,901.61 L579.91,901.99 L575.58,902.22 L566.30,902.30 L557.02,902.22 L552.69,901.99 L549.31,901.61 L546.47,901.07 L543.99,900.38 L541.81,899.53 L539.87,898.52 L538.14,897.34 L536.61,895.99 L535.26,894.46 L534.08,892.73 L533.07,890.79 L532.22,888.61 L531.53,886.13 L530.99,883.29 L530.61,879.91 L530.38,875.58 L530.30,866.30 L530.38,857.02 L530.61,852.69 L530.99,849.31 L531.53,846.47 L532.22,843.99 L533.07,841.81 L534.08,839.87 L535.26,838.14 L536.61,836.61 L538.14,835.26 L539.87,834.08 L541.81,833.07 L543.99,832.22 L546.47,831.53 L549.31,830.99 L552.69,830.61 L557.02,830.38 L566.30,830.30 L575.58,830.38 L579.91,830.61 L583.29,830.99 L586.13,831.53 L588.61,832.22 L590.79,833.07 L592.73,834.08 L594.46,835.26 L595.99,836.61 L597.34,838.14 L598.52,839.87 L599.53,841.81 L600.38,843.99 L601.07,846.47 L601.61,849.31 L601.99,852.69 L602.22,857.02Z" fill="#fff" stroke="#1a1a1a" stroke-width="0.95"/>
<path d="M595.37,866.30 L595.32,874.32 L595.14,877.83 L594.85,880.52 L594.44,882.77 L593.91,884.71 L593.25,886.41 L592.48,887.92 L591.57,889.26 L590.53,890.44 L589.34,891.48 L588.00,892.38 L586.49,893.16 L584.78,893.81 L582.83,894.33 L580.57,894.74 L577.87,895.04 L574.35,895.21 L566.30,895.27 L558.25,895.21 L554.73,895.04 L552.03,894.74 L549.77,894.33 L547.82,893.81 L546.11,893.16 L544.60,892.38 L543.26,891.48 L542.07,890.44 L541.03,889.26 L540.12,887.92 L539.35,886.41 L538.69,884.71 L538.16,882.77 L537.75,880.52 L537.46,877.83 L537.28,874.32 L537.23,866.30 L537.28,858.28 L537.46,854.77 L537.75,852.08 L538.16,849.83 L538.69,847.89 L539.35,846.19 L540.12,844.68 L541.03,843.34 L542.07,842.16 L543.26,841.12 L544.60,840.22 L546.11,839.44 L547.82,838.79 L549.77,838.27 L552.03,837.86 L554.73,837.56 L558.25,837.39 L566.30,837.33 L574.35,837.39 L577.87,837.56 L580.57,837.86 L582.83,838.27 L584.78,838.79 L586.49,839.44 L588.00,840.22 L589.34,841.12 L590.53,842.16 L591.57,843.34 L592.48,844.68 L593.25,846.19 L593.91,847.89 L594.44,849.83 L594.85,852.08 L595.14,854.77 L595.32,858.28Z" fill="none" stroke="#1a1a1a" stroke-width="0.9"/>
<circle cx="566.3" cy="866.939" r="27.7965" fill="none" stroke="#444" stroke-width="0.6"/>
<circle cx="566.3" cy="866.6194999999999" r="22.790999999999997" fill="#e8e8e8" stroke="#222" stroke-width="0.85"/>
<path d="M554.2,848.2 Q556.1,866.3 554.2,884.4" fill="none" stroke="#555" stroke-width="0.7"/>
<path d="M578.4,848.2 Q576.5,866.3 578.4,884.4" fill="none" stroke="#555" stroke-width="0.7"/>
<line x1="591.6" y1="885.0" x2="597.5" y2="889.4" stroke="#888" stroke-width="0.55"/>
<line x1="547.6" y1="891.6" x2="543.2" y2="897.5" stroke="#888" stroke-width="0.55"/>
<line x1="541.0" y1="847.6" x2="535.1" y2="843.2" stroke="#888" stroke-width="0.55"/>
<line x1="585.0" y1="841.0" x2="589.4" y2="835.1" stroke="#888" stroke-width="0.55"/>
<line x1="585.0" y1="891.6" x2="589.4" y2="897.5" stroke="#888" stroke-width="0.55"/>
<line x1="541.0" y1="885.0" x2="535.1" y2="889.4" stroke="#888" stroke-width="0.55"/>
<line x1="547.6" y1="841.0" x2="543.2" y2="835.1" stroke="#888" stroke-width="0.55"/>
<line x1="591.6" y1="847.6" x2="597.5" y2="843.2" stroke="#888" stroke-width="0.55"/>
<rect x="564.7" y="832.2" width="3.2" height="4.5" fill="#fff" stroke="#111" stroke-width="0.9"/>
<line x1="563.1" y1="895.7" x2="569.5" y2="895.7" stroke="#333" stroke-width="0.8"/>
<line x1="562.0" y1="902.5" x2="570.6" y2="902.5" stroke="#222" stroke-width="1.0"/>
<path d="M681.40,866.30 L681.32,875.58 L681.09,879.91 L680.71,883.29 L680.17,886.13 L679.48,888.61 L678.63,890.79 L677.62,892.73 L676.44,894.46 L675.09,895.99 L673.56,897.34 L671.83,898.52 L669.89,899.53 L667.71,900.38 L665.23,901.07 L662.39,901.61 L659.01,901.99 L654.68,902.22 L645.40,902.30 L636.12,902.22 L631.79,901.99 L628.41,901.61 L625.57,901.07 L623.09,900.38 L620.91,899.53 L618.97,898.52 L617.24,897.34 L615.71,895.99 L614.36,894.46 L613.18,892.73 L612.17,890.79 L611.32,888.61 L610.63,886.13 L610.09,883.29 L609.71,879.91 L609.48,875.58 L609.40,866.30 L609.48,857.02 L609.71,852.69 L610.09,849.31 L610.63,846.47 L611.32,843.99 L612.17,841.81 L613.18,839.87 L614.36,838.14 L615.71,836.61 L617.24,835.26 L618.97,834.08 L620.91,833.07 L623.09,832.22 L625.57,831.53 L628.41,830.99 L631.79,830.61 L636.12,830.38 L645.40,830.30 L654.68,830.38 L659.01,830.61 L662.39,830.99 L665.23,831.53 L667.71,832.22 L669.89,833.07 L671.83,834.08 L673.56,835.26 L675.09,836.61 L676.44,838.14 L677.62,839.87 L678.63,841.81 L679.48,843.99 L680.17,846.47 L680.71,849.31 L681.09,852.69 L681.32,857.02Z" fill="#fff" stroke="#1a1a1a" stroke-width="0.95"/>
<path d="M674.47,866.30 L674.42,874.32 L674.24,877.83 L673.95,880.52 L673.54,882.77 L673.01,884.71 L672.35,886.41 L671.58,887.92 L670.67,889.26 L669.63,890.44 L668.44,891.48 L667.10,892.38 L665.59,893.16 L663.88,893.81 L661.93,894.33 L659.67,894.74 L656.97,895.04 L653.45,895.21 L645.40,895.27 L637.35,895.21 L633.83,895.04 L631.13,894.74 L628.87,894.33 L626.92,893.81 L625.21,893.16 L623.70,892.38 L622.36,891.48 L621.17,890.44 L620.13,889.26 L619.22,887.92 L618.45,886.41 L617.79,884.71 L617.26,882.77 L616.85,880.52 L616.56,877.83 L616.38,874.32 L616.33,866.30 L616.38,858.28 L616.56,854.77 L616.85,852.08 L617.26,849.83 L617.79,847.89 L618.45,846.19 L619.22,844.68 L620.13,843.34 L621.17,842.16 L622.36,841.12 L623.70,840.22 L625.21,839.44 L626.92,838.79 L628.87,838.27 L631.13,837.86 L633.83,837.56 L637.35,837.39 L645.40,837.33 L653.45,837.39 L656.97,837.56 L659.67,837.86 L661.93,838.27 L663.88,838.79 L665.59,839.44 L667.10,840.22 L668.44,841.12 L669.63,842.16 L670.67,843.34 L671.58,844.68 L672.35,846.19 L673.01,847.89 L673.54,849.83 L673.95,852.08 L674.24,854.77 L674.42,858.28Z" fill="none" stroke="#1a1a1a" stroke-width="0.9"/>
<circle cx="645.4" cy="866.939" r="27.7965" fill="none" stroke="#444" stroke-width="0.6"/>
<circle cx="645.4" cy="866.6194999999999" r="22.790999999999997" fill="#e8e8e8" stroke="#222" stroke-width="0.85"/>
<path d="M633.3,848.2 Q635.2,866.3 633.3,884.4" fill="none" stroke="#555" stroke-width="0.7"/>
<path d="M657.5,848.2 Q655.6,866.3 657.5,884.4" fill="none" stroke="#555" stroke-width="0.7"/>
<line x1="670.7" y1="885.0" x2="676.6" y2="889.4" stroke="#888" stroke-width="0.55"/>
<line x1="626.7" y1="891.6" x2="622.3" y2="897.5" stroke="#888" stroke-width="0.55"/>
<line x1="620.1" y1="847.6" x2="614.2" y2="843.2" stroke="#888" stroke-width="0.55"/>
<line x1="664.1" y1="841.0" x2="668.5" y2="835.1" stroke="#888" stroke-width="0.55"/>
<line x1="664.1" y1="891.6" x2="668.5" y2="897.5" stroke="#888" stroke-width="0.55"/>
<line x1="620.1" y1="885.0" x2="614.2" y2="889.4" stroke="#888" stroke-width="0.55"/>
<line x1="626.7" y1="841.0" x2="622.3" y2="835.1" stroke="#888" stroke-width="0.55"/>
<line x1="670.7" y1="847.6" x2="676.6" y2="843.2" stroke="#888" stroke-width="0.55"/>
<rect x="643.8" y="832.2" width="3.2" height="4.5" fill="#111" stroke="#111" stroke-width="0.9"/>
<line x1="642.2" y1="895.7" x2="648.6" y2="895.7" stroke="#333" stroke-width="0.8"/>
<line x1="641.1" y1="902.5" x2="649.7" y2="902.5" stroke="#222" stroke-width="1.0"/>
<path d="M769.60,866.30 L769.52,875.58 L769.29,879.91 L768.91,883.29 L768.37,886.13 L767.68,888.61 L766.83,890.79 L765.82,892.73 L764.64,894.46 L763.29,895.99 L761.76,897.34 L760.03,898.52 L758.09,899.53 L755.91,900.38 L753.43,901.07 L750.59,901.61 L747.21,901.99 L742.88,902.22 L733.60,902.30 L724.32,902.22 L719.99,901.99 L716.61,901.61 L713.77,901.07 L711.29,900.38 L709.11,899.53 L707.17,898.52 L705.44,897.34 L703.91,895.99 L702.56,894.46 L701.38,892.73 L700.37,890.79 L699.52,888.61 L698.83,886.13 L698.29,883.29 L697.91,879.91 L697.68,875.58 L697.60,866.30 L697.68,857.02 L697.91,852.69 L698.29,849.31 L698.83,846.47 L699.52,843.99 L700.37,841.81 L701.38,839.87 L702.56,838.14 L703.91,836.61 L705.44,835.26 L707.17,834.08 L709.11,833.07 L711.29,832.22 L713.77,831.53 L716.61,830.99 L719.99,830.61 L724.32,830.38 L733.60,830.30 L742.88,830.38 L747.21,830.61 L750.59,830.99 L753.43,831.53 L755.91,832.22 L758.09,833.07 L760.03,834.08 L761.76,835.26 L763.29,836.61 L764.64,838.14 L765.82,839.87 L766.83,841.81 L767.68,843.99 L768.37,846.47 L768.91,849.31 L769.29,852.69 L769.52,857.02Z" fill="#fff" stroke="#1a1a1a" stroke-width="0.95"/>
<path d="M762.67,866.30 L762.62,874.32 L762.44,877.83 L762.15,880.52 L761.74,882.77 L761.21,884.71 L760.55,886.41 L759.78,887.92 L758.87,889.26 L757.83,890.44 L756.64,891.48 L755.30,892.38 L753.79,893.16 L752.08,893.81 L750.13,894.33 L747.87,894.74 L745.17,895.04 L741.65,895.21 L733.60,895.27 L725.55,895.21 L722.03,895.04 L719.33,894.74 L717.07,894.33 L715.12,893.81 L713.41,893.16 L711.90,892.38 L710.56,891.48 L709.37,890.44 L708.33,889.26 L707.42,887.92 L706.65,886.41 L705.99,884.71 L705.46,882.77 L705.05,880.52 L704.76,877.83 L704.58,874.32 L704.53,866.30 L704.58,858.28 L704.76,854.77 L705.05,852.08 L705.46,849.83 L705.99,847.89 L706.65,846.19 L707.42,844.68 L708.33,843.34 L709.37,842.16 L710.56,841.12 L711.90,840.22 L713.41,839.44 L715.12,838.79 L717.07,838.27 L719.33,837.86 L722.03,837.56 L725.55,837.39 L733.60,837.33 L741.65,837.39 L745.17,837.56 L747.87,837.86 L750.13,838.27 L752.08,838.79 L753.79,839.44 L755.30,840.22 L756.64,841.12 L757.83,842.16 L758.87,843.34 L759.78,844.68 L760.55,846.19 L761.21,847.89 L761.74,849.83 L762.15,852.08 L762.44,854.77 L762.62,858.28Z" fill="none" stroke="#1a1a1a" stroke-width="0.9"/>
<circle cx="733.6" cy="866.939" r="27.7965" fill="none" stroke="#444" stroke-width="0.6"/>
<circle cx="733.6" cy="866.6194999999999" r="22.790999999999997" fill="#e8e8e8" stroke="#222" stroke-width="0.85"/>
<path d="M721.5,848.2 Q723.4,866.3 721.5,884.4" fill="none" stroke="#555" stroke-width="0.7"/>
<path d="M745.7,848.2 Q743.8,866.3 745.7,884.4" fill="none" stroke="#555" stroke-width="0.7"/>
<line x1="758.9" y1="885.0" x2="764.8" y2="889.4" stroke="#888" stroke-width="0.55"/>
<line x1="714.9" y1="891.6" x2="710.5" y2="897.5" stroke="#888" stroke-width="0.55"/>
<line x1="708.3" y1="847.6" x2="702.4" y2="843.2" stroke="#888" stroke-width="0.55"/>
<line x1="752.3" y1="841.0" x2="756.7" y2="835.1" stroke="#888" stroke-width="0.55"/>
<line x1="752.3" y1="891.6" x2="756.7" y2="897.5" stroke="#888" stroke-width="0.55"/>
<line x1="708.3" y1="885.0" x2="702.4" y2="889.4" stroke="#888" stroke-width="0.55"/>
<line x1="714.9" y1="841.0" x2="710.5" y2="835.1" stroke="#888" stroke-width="0.55"/>
<line x1="758.9" y1="847.6" x2="764.8" y2="843.2" stroke="#888" stroke-width="0.55"/>
<rect x="732.0" y="832.2" width="3.2" height="4.5" fill="#fff" stroke="#111" stroke-width="0.9"/>
<line x1="730.4" y1="895.7" x2="736.8" y2="895.7" stroke="#333" stroke-width="0.8"/>
<line x1="729.3" y1="902.5" x2="737.9" y2="902.5" stroke="#222" stroke-width="1.0"/>
<path d="M859.60,867.00 L859.52,876.28 L859.29,880.61 L858.91,883.99 L858.37,886.83 L857.68,889.31 L856.83,891.49 L855.82,893.43 L854.64,895.16 L853.29,896.69 L851.76,898.04 L850.03,899.22 L848.09,900.23 L845.91,901.08 L843.43,901.77 L840.59,902.31 L837.21,902.69 L832.88,902.92 L823.60,903.00 L814.32,902.92 L809.99,902.69 L806.61,902.31 L803.77,901.77 L801.29,901.08 L799.11,900.23 L797.17,899.22 L795.44,898.04 L793.91,896.69 L792.56,895.16 L791.38,893.43 L790.37,891.49 L789.52,889.31 L788.83,886.83 L788.29,883.99 L787.91,880.61 L787.68,876.28 L787.60,867.00 L787.68,857.72 L787.91,853.39 L788.29,850.01 L788.83,847.17 L789.52,844.69 L790.37,842.51 L791.38,840.57 L792.56,838.84 L793.91,837.31 L795.44,835.96 L797.17,834.78 L799.11,833.77 L801.29,832.92 L803.77,832.23 L806.61,831.69 L809.99,831.31 L814.32,831.08 L823.60,831.00 L832.88,831.08 L837.21,831.31 L840.59,831.69 L843.43,832.23 L845.91,832.92 L848.09,833.77 L850.03,834.78 L851.76,835.96 L853.29,837.31 L854.64,838.84 L855.82,840.57 L856.83,842.51 L857.68,844.69 L858.37,847.17 L858.91,850.01 L859.29,853.39 L859.52,857.72Z" fill="#fff" stroke="#1a1a1a" stroke-width="0.95"/>
<path d="M852.67,867.00 L852.62,875.02 L852.44,878.53 L852.15,881.22 L851.74,883.47 L851.21,885.41 L850.55,887.11 L849.78,888.62 L848.87,889.96 L847.83,891.14 L846.64,892.18 L845.30,893.08 L843.79,893.86 L842.08,894.51 L840.13,895.03 L837.87,895.44 L835.17,895.74 L831.65,895.91 L823.60,895.97 L815.55,895.91 L812.03,895.74 L809.33,895.44 L807.07,895.03 L805.12,894.51 L803.41,893.86 L801.90,893.08 L800.56,892.18 L799.37,891.14 L798.33,889.96 L797.42,888.62 L796.65,887.11 L795.99,885.41 L795.46,883.47 L795.05,881.22 L794.76,878.53 L794.58,875.02 L794.53,867.00 L794.58,858.98 L794.76,855.47 L795.05,852.78 L795.46,850.53 L795.99,848.59 L796.65,846.89 L797.42,845.38 L798.33,844.04 L799.37,842.86 L800.56,841.82 L801.90,840.92 L803.41,840.14 L805.12,839.49 L807.07,838.97 L809.33,838.56 L812.03,838.26 L815.55,838.09 L823.60,838.03 L831.65,838.09 L835.17,838.26 L837.87,838.56 L840.13,838.97 L842.08,839.49 L843.79,840.14 L845.30,840.92 L846.64,841.82 L847.83,842.86 L848.87,844.04 L849.78,845.38 L850.55,846.89 L851.21,848.59 L851.74,850.53 L852.15,852.78 L852.44,855.47 L852.62,858.98Z" fill="none" stroke="#1a1a1a" stroke-width="0.9"/>
<circle cx="823.6" cy="867.639" r="27.7965" fill="none" stroke="#444" stroke-width="0.6"/>
<circle cx="823.6" cy="867.3195" r="22.790999999999997" fill="#e8e8e8" stroke="#222" stroke-width="0.85"/>
<path d="M811.5,848.9 Q813.4,867.0 811.5,885.1" fill="none" stroke="#555" stroke-width="0.7"/>
<path d="M835.7,848.9 Q833.8,867.0 835.7,885.1" fill="none" stroke="#555" stroke-width="0.7"/>
<line x1="848.9" y1="885.7" x2="854.8" y2="890.1" stroke="#888" stroke-width="0.55"/>
<line x1="804.9" y1="892.3" x2="800.5" y2="898.2" stroke="#888" stroke-width="0.55"/>
<line x1="798.3" y1="848.3" x2="792.4" y2="843.9" stroke="#888" stroke-width="0.55"/>
<line x1="842.3" y1="841.7" x2="846.7" y2="835.8" stroke="#888" stroke-width="0.55"/>
<line x1="842.3" y1="892.3" x2="846.7" y2="898.2" stroke="#888" stroke-width="0.55"/>
<line x1="798.3" y1="885.7" x2="792.4" y2="890.1" stroke="#888" stroke-width="0.55"/>
<line x1="804.9" y1="841.7" x2="800.5" y2="835.8" stroke="#888" stroke-width="0.55"/>
<line x1="848.9" y1="848.3" x2="854.8" y2="843.9" stroke="#888" stroke-width="0.55"/>
<rect x="822.0" y="832.9" width="3.2" height="4.5" fill="#fff" stroke="#111" stroke-width="0.9"/>
<line x1="820.4" y1="896.4" x2="826.8" y2="896.4" stroke="#333" stroke-width="0.8"/>
<line x1="819.3" y1="903.2" x2="827.9" y2="903.2" stroke="#222" stroke-width="1.0"/>
<path d="M979.90,867.00 L979.82,876.28 L979.59,880.61 L979.21,883.99 L978.67,886.83 L977.98,889.31 L977.13,891.49 L976.12,893.43 L974.94,895.16 L973.59,896.69 L972.06,898.04 L970.33,899.22 L968.39,900.23 L966.21,901.08 L963.73,901.77 L960.89,902.31 L957.51,902.69 L953.18,902.92 L943.90,903.00 L934.62,902.92 L930.29,902.69 L926.91,902.31 L924.07,901.77 L921.59,901.08 L919.41,900.23 L917.47,899.22 L915.74,898.04 L914.21,896.69 L912.86,895.16 L911.68,893.43 L910.67,891.49 L909.82,889.31 L909.13,886.83 L908.59,883.99 L908.21,880.61 L907.98,876.28 L907.90,867.00 L907.98,857.72 L908.21,853.39 L908.59,850.01 L909.13,847.17 L909.82,844.69 L910.67,842.51 L911.68,840.57 L912.86,838.84 L914.21,837.31 L915.74,835.96 L917.47,834.78 L919.41,833.77 L921.59,832.92 L924.07,832.23 L926.91,831.69 L930.29,831.31 L934.62,831.08 L943.90,831.00 L953.18,831.08 L957.51,831.31 L960.89,831.69 L963.73,832.23 L966.21,832.92 L968.39,833.77 L970.33,834.78 L972.06,835.96 L973.59,837.31 L974.94,838.84 L976.12,840.57 L977.13,842.51 L977.98,844.69 L978.67,847.17 L979.21,850.01 L979.59,853.39 L979.82,857.72Z" fill="#fff" stroke="#1a1a1a" stroke-width="0.95"/>
<path d="M972.97,867.00 L972.92,875.02 L972.74,878.53 L972.45,881.22 L972.04,883.47 L971.51,885.41 L970.85,887.11 L970.08,888.62 L969.17,889.96 L968.13,891.14 L966.94,892.18 L965.60,893.08 L964.09,893.86 L962.38,894.51 L960.43,895.03 L958.17,895.44 L955.47,895.74 L951.95,895.91 L943.90,895.97 L935.85,895.91 L932.33,895.74 L929.63,895.44 L927.37,895.03 L925.42,894.51 L923.71,893.86 L922.20,893.08 L920.86,892.18 L919.67,891.14 L918.63,889.96 L917.72,888.62 L916.95,887.11 L916.29,885.41 L915.76,883.47 L915.35,881.22 L915.06,878.53 L914.88,875.02 L914.83,867.00 L914.88,858.98 L915.06,855.47 L915.35,852.78 L915.76,850.53 L916.29,848.59 L916.95,846.89 L917.72,845.38 L918.63,844.04 L919.67,842.86 L920.86,841.82 L922.20,840.92 L923.71,840.14 L925.42,839.49 L927.37,838.97 L929.63,838.56 L932.33,838.26 L935.85,838.09 L943.90,838.03 L951.95,838.09 L955.47,838.26 L958.17,838.56 L960.43,838.97 L962.38,839.49 L964.09,840.14 L965.60,840.92 L966.94,841.82 L968.13,842.86 L969.17,844.04 L970.08,845.38 L970.85,846.89 L971.51,848.59 L972.04,850.53 L972.45,852.78 L972.74,855.47 L972.92,858.98Z" fill="none" stroke="#1a1a1a" stroke-width="0.9"/>
<circle cx="943.9" cy="867.639" r="27.7965" fill="none" stroke="#444" stroke-width="0.6"/>
<circle cx="943.9" cy="867.3195" r="22.790999999999997" fill="#e8e8e8" stroke="#222" stroke-width="0.85"/>
<path d="M931.8,848.9 Q933.7,867.0 931.8,885.1" fill="none" stroke="#555" stroke-width="0.7"/>
<path d="M956.0,848.9 Q954.1,867.0 956.0,885.1" fill="none" stroke="#555" stroke-width="0.7"/>
<line x1="969.2" y1="885.7" x2="975.1" y2="890.1" stroke="#888" stroke-width="0.55"/>
<line x1="925.2" y1="892.3" x2="920.8" y2="898.2" stroke="#888" stroke-width="0.55"/>
<line x1="918.6" y1="848.3" x2="912.7" y2="843.9" stroke="#888" stroke-width="0.55"/>
<line x1="962.6" y1="841.7" x2="967.0" y2="835.8" stroke="#888" stroke-width="0.55"/>
<line x1="962.6" y1="892.3" x2="967.0" y2="898.2" stroke="#888" stroke-width="0.55"/>
<line x1="918.6" y1="885.7" x2="912.7" y2="890.1" stroke="#888" stroke-width="0.55"/>
<line x1="925.2" y1="841.7" x2="920.8" y2="835.8" stroke="#888" stroke-width="0.55"/>
<line x1="969.2" y1="848.3" x2="975.1" y2="843.9" stroke="#888" stroke-width="0.55"/>
<rect x="942.3" y="832.9" width="3.2" height="4.5" fill="#fff" stroke="#111" stroke-width="0.9"/>
<line x1="940.7" y1="896.4" x2="947.1" y2="896.4" stroke="#333" stroke-width="0.8"/>
<line x1="939.6" y1="903.2" x2="948.2" y2="903.2" stroke="#222" stroke-width="1.0"/>
<path d="M1061.00,867.00 L1060.92,876.28 L1060.69,880.61 L1060.31,883.99 L1059.77,886.83 L1059.08,889.31 L1058.23,891.49 L1057.22,893.43 L1056.04,895.16 L1054.69,896.69 L1053.16,898.04 L1051.43,899.22 L1049.49,900.23 L1047.31,901.08 L1044.83,901.77 L1041.99,902.31 L1038.61,902.69 L1034.28,902.92 L1025.00,903.00 L1015.72,902.92 L1011.39,902.69 L1008.01,902.31 L1005.17,901.77 L1002.69,901.08 L1000.51,900.23 L998.57,899.22 L996.84,898.04 L995.31,896.69 L993.96,895.16 L992.78,893.43 L991.77,891.49 L990.92,889.31 L990.23,886.83 L989.69,883.99 L989.31,880.61 L989.08,876.28 L989.00,867.00 L989.08,857.72 L989.31,853.39 L989.69,850.01 L990.23,847.17 L990.92,844.69 L991.77,842.51 L992.78,840.57 L993.96,838.84 L995.31,837.31 L996.84,835.96 L998.57,834.78 L1000.51,833.77 L1002.69,832.92 L1005.17,832.23 L1008.01,831.69 L1011.39,831.31 L1015.72,831.08 L1025.00,831.00 L1034.28,831.08 L1038.61,831.31 L1041.99,831.69 L1044.83,832.23 L1047.31,832.92 L1049.49,833.77 L1051.43,834.78 L1053.16,835.96 L1054.69,837.31 L1056.04,838.84 L1057.22,840.57 L1058.23,842.51 L1059.08,844.69 L1059.77,847.17 L1060.31,850.01 L1060.69,853.39 L1060.92,857.72Z" fill="#fff" stroke="#1a1a1a" stroke-width="0.95"/>
<path d="M1054.07,867.00 L1054.02,875.02 L1053.84,878.53 L1053.55,881.22 L1053.14,883.47 L1052.61,885.41 L1051.95,887.11 L1051.18,888.62 L1050.27,889.96 L1049.23,891.14 L1048.04,892.18 L1046.70,893.08 L1045.19,893.86 L1043.48,894.51 L1041.53,895.03 L1039.27,895.44 L1036.57,895.74 L1033.05,895.91 L1025.00,895.97 L1016.95,895.91 L1013.43,895.74 L1010.73,895.44 L1008.47,895.03 L1006.52,894.51 L1004.81,893.86 L1003.30,893.08 L1001.96,892.18 L1000.77,891.14 L999.73,889.96 L998.82,888.62 L998.05,887.11 L997.39,885.41 L996.86,883.47 L996.45,881.22 L996.16,878.53 L995.98,875.02 L995.93,867.00 L995.98,858.98 L996.16,855.47 L996.45,852.78 L996.86,850.53 L997.39,848.59 L998.05,846.89 L998.82,845.38 L999.73,844.04 L1000.77,842.86 L1001.96,841.82 L1003.30,840.92 L1004.81,840.14 L1006.52,839.49 L1008.47,838.97 L1010.73,838.56 L1013.43,838.26 L1016.95,838.09 L1025.00,838.03 L1033.05,838.09 L1036.57,838.26 L1039.27,838.56 L1041.53,838.97 L1043.48,839.49 L1045.19,840.14 L1046.70,840.92 L1048.04,841.82 L1049.23,842.86 L1050.27,844.04 L1051.18,845.38 L1051.95,846.89 L1052.61,848.59 L1053.14,850.53 L1053.55,852.78 L1053.84,855.47 L1054.02,858.98Z" fill="none" stroke="#1a1a1a" stroke-width="0.9"/>
<circle cx="1025" cy="867.639" r="27.7965" fill="none" stroke="#444" stroke-width="0.6"/>
<circle cx="1025" cy="867.3195" r="22.790999999999997" fill="#e8e8e8" stroke="#222" stroke-width="0.85"/>
<path d="M1012.9,848.9 Q1014.8,867.0 1012.9,885.1" fill="none" stroke="#555" stroke-width="0.7"/>
<path d="M1037.1,848.9 Q1035.2,867.0 1037.1,885.1" fill="none" stroke="#555" stroke-width="0.7"/>
<line x1="1050.3" y1="885.7" x2="1056.2" y2="890.1" stroke="#888" stroke-width="0.55"/>
<line x1="1006.3" y1="892.3" x2="1001.9" y2="898.2" stroke="#888" stroke-width="0.55"/>
<line x1="999.7" y1="848.3" x2="993.8" y2="843.9" stroke="#888" stroke-width="0.55"/>
<line x1="1043.7" y1="841.7" x2="1048.1" y2="835.8" stroke="#888" stroke-width="0.55"/>
<line x1="1043.7" y1="892.3" x2="1048.1" y2="898.2" stroke="#888" stroke-width="0.55"/>
<line x1="999.7" y1="885.7" x2="993.8" y2="890.1" stroke="#888" stroke-width="0.55"/>
<line x1="1006.3" y1="841.7" x2="1001.9" y2="835.8" stroke="#888" stroke-width="0.55"/>
<line x1="1050.3" y1="848.3" x2="1056.2" y2="843.9" stroke="#888" stroke-width="0.55"/>
<rect x="1023.4" y="832.9" width="3.2" height="4.5" fill="#111" stroke="#111" stroke-width="0.9"/>
<line x1="1021.8" y1="896.4" x2="1028.2" y2="896.4" stroke="#333" stroke-width="0.8"/>
<line x1="1020.7" y1="903.2" x2="1029.3" y2="903.2" stroke="#222" stroke-width="1.0"/>
<circle cx="187.7" cy="904.6" r="1.8" fill="#111" stroke="#222" stroke-width="0.7"/>
<circle cx="193.0" cy="904.6" r="1.8" fill="#fff" stroke="#222" stroke-width="0.7"/>
<circle cx="198.2" cy="904.6" r="1.8" fill="#fff" stroke="#222" stroke-width="0.7"/>
<circle cx="203.5" cy="904.6" r="1.8" fill="#fff" stroke="#222" stroke-width="0.7"/>
<circle cx="187.7" cy="909.6" r="1.8" fill="#fff" stroke="#222" stroke-width="0.7"/>
<circle cx="193.0" cy="909.6" r="1.8" fill="#fff" stroke="#222" stroke-width="0.7"/>
<circle cx="198.2" cy="909.6" r="1.8" fill="#fff" stroke="#222" stroke-width="0.7"/>
<circle cx="203.5" cy="909.6" r="1.8" fill="#fff" stroke="#222" stroke-width="0.7"/>
<circle cx="268.2" cy="904.6" r="1.8" fill="#fff" stroke="#222" stroke-width="0.7"/>
<circle cx="273.6" cy="904.6" r="1.8" fill="#fff" stroke="#222" stroke-width="0.7"/>
<circle cx="279.1" cy="904.6" r="1.8" fill="#fff" stroke="#222" stroke-width="0.7"/>
<circle cx="284.5" cy="904.6" r="1.8" fill="#fff" stroke="#222" stroke-width="0.7"/>
<circle cx="268.2" cy="909.6" r="1.8" fill="#111" stroke="#222" stroke-width="0.7"/>
<circle cx="273.6" cy="909.6" r="1.8" fill="#fff" stroke="#222" stroke-width="0.7"/>
<circle cx="279.1" cy="909.6" r="1.8" fill="#fff" stroke="#222" stroke-width="0.7"/>
<circle cx="284.5" cy="909.6" r="1.8" fill="#fff" stroke="#222" stroke-width="0.7"/>
<circle cx="503.3" cy="904.6" r="1.8" fill="#fff" stroke="#222" stroke-width="0.7"/>
<circle cx="509.0" cy="904.6" r="1.8" fill="#111" stroke="#222" stroke-width="0.7"/>
<circle cx="514.8" cy="904.6" r="1.8" fill="#fff" stroke="#222" stroke-width="0.7"/>
<circle cx="520.5" cy="904.6" r="1.8" fill="#fff" stroke="#222" stroke-width="0.7"/>
<circle cx="503.3" cy="909.6" r="1.8" fill="#fff" stroke="#222" stroke-width="0.7"/>
<circle cx="509.0" cy="909.6" r="1.8" fill="#fff" stroke="#222" stroke-width="0.7"/>
<circle cx="514.8" cy="909.6" r="1.8" fill="#fff" stroke="#222" stroke-width="0.7"/>
<circle cx="520.5" cy="909.6" r="1.8" fill="#fff" stroke="#222" stroke-width="0.7"/>
<circle cx="585.7" cy="904.6" r="1.8" fill="#fff" stroke="#222" stroke-width="0.7"/>
<circle cx="591.5" cy="904.6" r="1.8" fill="#fff" stroke="#222" stroke-width="0.7"/>
<circle cx="597.4" cy="904.6" r="1.8" fill="#fff" stroke="#222" stroke-width="0.7"/>
<circle cx="603.2" cy="904.6" r="1.8" fill="#fff" stroke="#222" stroke-width="0.7"/>
<circle cx="585.7" cy="909.6" r="1.8" fill="#fff" stroke="#222" stroke-width="0.7"/>
<circle cx="591.5" cy="909.6" r="1.8" fill="#111" stroke="#222" stroke-width="0.7"/>
<circle cx="597.4" cy="909.6" r="1.8" fill="#fff" stroke="#222" stroke-width="0.7"/>
<circle cx="603.2" cy="909.6" r="1.8" fill="#fff" stroke="#222" stroke-width="0.7"/>
<circle cx="671.2" cy="904.6" r="1.8" fill="#fff" stroke="#222" stroke-width="0.7"/>
<circle cx="677.1" cy="904.6" r="1.8" fill="#fff" stroke="#222" stroke-width="0.7"/>
<circle cx="683.1" cy="904.6" r="1.8" fill="#111" stroke="#222" stroke-width="0.7"/>
<circle cx="689.0" cy="904.6" r="1.8" fill="#fff" stroke="#222" stroke-width="0.7"/>
<circle cx="671.2" cy="909.6" r="1.8" fill="#fff" stroke="#222" stroke-width="0.7"/>
<circle cx="677.1" cy="909.6" r="1.8" fill="#fff" stroke="#222" stroke-width="0.7"/>
<circle cx="683.1" cy="909.6" r="1.8" fill="#fff" stroke="#222" stroke-width="0.7"/>
<circle cx="689.0" cy="909.6" r="1.8" fill="#fff" stroke="#222" stroke-width="0.7"/>
<circle cx="757.2" cy="904.6" r="1.8" fill="#fff" stroke="#222" stroke-width="0.7"/>
<circle cx="762.5" cy="904.6" r="1.8" fill="#fff" stroke="#222" stroke-width="0.7"/>
<circle cx="767.7" cy="904.6" r="1.8" fill="#fff" stroke="#222" stroke-width="0.7"/>
<circle cx="773.0" cy="904.6" r="1.8" fill="#fff" stroke="#222" stroke-width="0.7"/>
<circle cx="757.2" cy="909.6" r="1.8" fill="#fff" stroke="#222" stroke-width="0.7"/>
<circle cx="762.5" cy="909.6" r="1.8" fill="#fff" stroke="#222" stroke-width="0.7"/>
<circle cx="767.7" cy="909.6" r="1.8" fill="#111" stroke="#222" stroke-width="0.7"/>
<circle cx="773.0" cy="909.6" r="1.8" fill="#fff" stroke="#222" stroke-width="0.7"/>
<circle cx="966.5" cy="904.6" r="1.8" fill="#fff" stroke="#222" stroke-width="0.7"/>
<circle cx="972.0" cy="904.6" r="1.8" fill="#fff" stroke="#222" stroke-width="0.7"/>
<circle cx="977.5" cy="904.6" r="1.8" fill="#fff" stroke="#222" stroke-width="0.7"/>
<circle cx="983.0" cy="904.6" r="1.8" fill="#111" stroke="#222" stroke-width="0.7"/>
<circle cx="966.5" cy="909.6" r="1.8" fill="#fff" stroke="#222" stroke-width="0.7"/>
<circle cx="972.0" cy="909.6" r="1.8" fill="#fff" stroke="#222" stroke-width="0.7"/>
<circle cx="977.5" cy="909.6" r="1.8" fill="#fff" stroke="#222" stroke-width="0.7"/>
<circle cx="983.0" cy="909.6" r="1.8" fill="#fff" stroke="#222" stroke-width="0.7"/>
<circle cx="1049.6" cy="904.6" r="1.8" fill="#fff" stroke="#222" stroke-width="0.7"/>
<circle cx="1054.9" cy="904.6" r="1.8" fill="#fff" stroke="#222" stroke-width="0.7"/>
<circle cx="1060.3" cy="904.6" r="1.8" fill="#fff" stroke="#222" stroke-width="0.7"/>
<circle cx="1065.6" cy="904.6" r="1.8" fill="#fff" stroke="#222" stroke-width="0.7"/>
<circle cx="1049.6" cy="909.6" r="1.8" fill="#fff" stroke="#222" stroke-width="0.7"/>
<circle cx="1054.9" cy="909.6" r="1.8" fill="#fff" stroke="#222" stroke-width="0.7"/>
<circle cx="1060.3" cy="909.6" r="1.8" fill="#fff" stroke="#222" stroke-width="0.7"/>
<circle cx="1065.6" cy="909.6" r="1.8" fill="#111" stroke="#222" stroke-width="0.7"/>
<rect x="378.9" y="900.8000000000001" width="11.6" height="11.6" fill="#fff" stroke="#111" stroke-width="1"/>
<circle cx="384.7" cy="909" r="2" fill="#111"/>
<line x1="384.7" y1="902" x2="384.7" y2="909" stroke="#111" stroke-width="1.2"/>
<rect x="851.7" y="900.8000000000001" width="11.6" height="11.6" fill="#fff" stroke="#111" stroke-width="1"/>
<circle cx="857.5" cy="909" r="2" fill="#111"/>
<line x1="857.5" y1="902" x2="857.5" y2="909" stroke="#111" stroke-width="1.2"/>
<polyline points="168.8,871.3 168.8,914.3 242.4,914.3 242.4,925.4" fill="none" stroke="#111" stroke-width="1.3"/>
<line x1="246.5" y1="817.2" x2="246.5" y2="868.5" stroke="#111" stroke-width="1.1"/>
<line x1="358.4" y1="818.6" x2="358.4" y2="872.7" stroke="#111" stroke-width="2.0"/>
<line x1="488.6" y1="807.5" x2="488.6" y2="868.5" stroke="#111" stroke-width="1.1"/>
<line x1="566.3" y1="868.5" x2="566.3" y2="938" stroke="#111" stroke-width="2.0"/>
<line x1="645.4" y1="811" x2="645.4" y2="871.3" stroke="#111" stroke-width="1.1"/>
<line x1="733.6" y1="871" x2="733.6" y2="940.7" stroke="#111" stroke-width="1.1"/>
<line x1="823.6" y1="871" x2="823.6" y2="926.8" stroke="#111" stroke-width="2.0"/>
<polyline points="943.9,871 943.9,913.8 954,913.8 954,925.4" fill="none" stroke="#111" stroke-width="1.3"/>
<line x1="1025" y1="816.7" x2="1025" y2="869" stroke="#111" stroke-width="2.0"/>
<polygon points="509.7,1224.9 621.1,1148.5 630.7,1149.5 630.7,1337.4 509.7,1408.5" fill="#fff" stroke="#111" stroke-width="1.4" stroke-linejoin="round" />
<line x1="502.3" y1="1271.6" x2="630.7" y2="1200.5" stroke="#111" stroke-width="1.3" />
<line x1="621.1" y1="1148.5" x2="621.1" y2="1203.7" stroke="#111" stroke-width="1.2" />
<line x1="509.7" y1="1231.0" x2="568.8" y2="1196.5" stroke="#111" stroke-width="1.2" />
<line x1="580.5" y1="1189.5" x2="592.0" y2="1183.0" stroke="#111" stroke-width="1.8" />
<line x1="603.5" y1="1176.5" x2="615.0" y2="1170.0" stroke="#111" stroke-width="1.8" />
<ellipse cx="592.5" cy="1362" rx="6" ry="3" fill="#fff" stroke="#111" stroke-width="1.1"/>
<ellipse cx="513" cy="1406" rx="6" ry="3" fill="#fff" stroke="#111" stroke-width="1.1"/>
<polygon points="267.5,1118.8 509.7,1224.9 509.7,1408.5 500.0,1404.0 279.5,1280.0 279.5,1130.0" fill="#fff" stroke="#111" stroke-width="1.3" stroke-linejoin="round" />
<line x1="279.5" y1="1135.0" x2="279.5" y2="1252.0" stroke="#111" stroke-width="1.3" />
<line x1="282.3" y1="1135.0" x2="282.3" y2="1252.0" stroke="#111" stroke-width="0.9" />
<line x1="285.2" y1="1135.0" x2="285.2" y2="1252.0" stroke="#111" stroke-width="1.6" />
<line x1="288.2" y1="1135.0" x2="288.2" y2="1252.0" stroke="#111" stroke-width="1.0" />
<circle cx="289.6" cy="1212" r="1" fill="#111"/><circle cx="289.6" cy="1230" r="1" fill="#111"/>
<line x1="364.7" y1="1196.0" x2="364.7" y2="1300.0" stroke="#111" stroke-width="1.3" />
<line x1="368.0" y1="1198.0" x2="368.0" y2="1302.0" stroke="#111" stroke-width="0.9" />
<line x1="374.2" y1="1202.0" x2="374.2" y2="1305.0" stroke="#111" stroke-width="1.3" />
<line x1="379.5" y1="1205.0" x2="379.5" y2="1308.0" stroke="#111" stroke-width="1.0" />
<line x1="503.0" y1="1268.0" x2="503.0" y2="1405.0" stroke="#111" stroke-width="1.0" />
<line x1="505.7" y1="1268.0" x2="505.7" y2="1405.0" stroke="#111" stroke-width="1.4" />
<line x1="267.5" y1="1139.0" x2="499.1" y2="1268.4" stroke="#111" stroke-width="1.2" />
<path d="M300.6,1160 L354,1191 Q360,1194.5 360,1201 L360,1278 Q360,1285 354,1282 L300.6,1251 Q295,1248 295,1242 L295,1166 Q295,1157 300.6,1160 Z" fill="#fff" stroke="#111" stroke-width="1.4"/>
<path d="M302,1165.5 L352,1194.5 Q355.5,1197 355.5,1201.5 L355.5,1274 Q355.5,1279 351.5,1276.5 L302,1248 Q299.5,1246.5 299.5,1242 L299.5,1169 Q299.5,1164 302,1165.5 Z" fill="none" stroke="#111" stroke-width="1.1"/>
<line x1="304.0" y1="1175.0" x2="304.0" y2="1245.0" stroke="#111" stroke-width="1.0" />
<line x1="315.0" y1="1244.0" x2="340.0" y2="1232.0" stroke="#111" stroke-width="1.0" />
<line x1="318.0" y1="1252.0" x2="354.0" y2="1273.0" stroke="#111" stroke-width="1.0" />
<polygon points="300.0,1249.0 355.0,1281.0 355.0,1275.0 302.0,1244.0" fill="#222" stroke="#111" stroke-width="0" stroke-linejoin="round" />
<polygon points="303.0,1216.0 355.0,1245.0 367.0,1236.0 315.0,1207.0" fill="none" stroke="#111" stroke-width="2.6" stroke-linejoin="round" />
<line x1="306.0" y1="1213.8" x2="358.0" y2="1242.8" stroke="#111" stroke-width="2.0" />
<line x1="309.0" y1="1211.5" x2="361.0" y2="1240.5" stroke="#111" stroke-width="2.0" />
<line x1="312.0" y1="1209.2" x2="364.0" y2="1238.2" stroke="#111" stroke-width="2.0" />
<line x1="316.0" y1="1223.2" x2="328.0" y2="1214.2" stroke="#111" stroke-width="2.0" />
<line x1="329.0" y1="1230.5" x2="341.0" y2="1221.5" stroke="#111" stroke-width="2.0" />
<line x1="342.0" y1="1237.8" x2="354.0" y2="1228.8" stroke="#111" stroke-width="2.0" />
<polygon points="303.0,1237.0 355.0,1266.0 367.0,1257.0 315.0,1228.0" fill="none" stroke="#111" stroke-width="2.6" stroke-linejoin="round" />
<line x1="306.0" y1="1234.8" x2="358.0" y2="1263.8" stroke="#111" stroke-width="2.0" />
<line x1="309.0" y1="1232.5" x2="361.0" y2="1261.5" stroke="#111" stroke-width="2.0" />
<line x1="312.0" y1="1230.2" x2="364.0" y2="1259.2" stroke="#111" stroke-width="2.0" />
<line x1="316.0" y1="1244.2" x2="328.0" y2="1235.2" stroke="#111" stroke-width="2.0" />
<line x1="329.0" y1="1251.5" x2="341.0" y2="1242.5" stroke="#111" stroke-width="2.0" />
<line x1="342.0" y1="1258.8" x2="354.0" y2="1249.8" stroke="#111" stroke-width="2.0" />
<line x1="312.0" y1="1252.0" x2="330.0" y2="1244.0" stroke="#111" stroke-width="3.0" />
<line x1="310.0" y1="1186.0" x2="345.0" y2="1206.0" stroke="#111" stroke-width="2.0" />
<line x1="313.0" y1="1244.0" x2="326.0" y2="1240.0" stroke="#111" stroke-width="3.0" />
<path d="M390,1214 L497,1273 Q503,1276.5 503,1283 L502,1357 Q502,1365 495,1361 L391,1302 Q385,1299 385,1292 L385,1220 Q385,1211 390,1214 Z" fill="#fff" stroke="#111" stroke-width="1.4"/>
<path d="M392,1219.5 L495,1277 Q498.5,1279 498.5,1284 L498,1354 Q498,1359 494,1357 L392,1297 Q389.5,1295.5 389.5,1291 L389.5,1223 Q389.5,1218 392,1219.5 Z" fill="none" stroke="#111" stroke-width="1.1"/>
<clipPath id="ovR"><path d="M392,1219.5 L495,1277 Q498.5,1279 498.5,1284 L498,1354 Q498,1359 494,1357 L392,1297 Q389.5,1295.5 389.5,1291 L389.5,1223 Q389.5,1218 392,1219.5 Z"/></clipPath><g clip-path="url(#ovR)">
<polygon points="393.0,1250.0 493.0,1303.0 511.0,1291.0 411.0,1238.0" fill="none" stroke="#111" stroke-width="2.4" stroke-linejoin="round" />
<line x1="396.6" y1="1247.6" x2="496.6" y2="1300.6" stroke="#111" stroke-width="1.7" />
<line x1="400.2" y1="1245.2" x2="500.2" y2="1298.2" stroke="#111" stroke-width="1.7" />
<line x1="403.8" y1="1242.8" x2="503.8" y2="1295.8" stroke="#111" stroke-width="1.7" />
<line x1="407.4" y1="1240.4" x2="507.4" y2="1293.4" stroke="#111" stroke-width="1.7" />
<line x1="398.6" y1="1252.9" x2="416.6" y2="1240.9" stroke="#111" stroke-width="1.7" />
<line x1="404.1" y1="1255.9" x2="422.1" y2="1243.9" stroke="#111" stroke-width="1.7" />
<line x1="409.7" y1="1258.8" x2="427.7" y2="1246.8" stroke="#111" stroke-width="1.7" />
<line x1="415.2" y1="1261.8" x2="433.2" y2="1249.8" stroke="#111" stroke-width="1.7" />
<line x1="420.8" y1="1264.7" x2="438.8" y2="1252.7" stroke="#111" stroke-width="1.7" />
<line x1="426.3" y1="1267.7" x2="444.3" y2="1255.7" stroke="#111" stroke-width="1.7" />
<line x1="431.9" y1="1270.6" x2="449.9" y2="1258.6" stroke="#111" stroke-width="1.7" />
<line x1="437.4" y1="1273.6" x2="455.4" y2="1261.6" stroke="#111" stroke-width="1.7" />
<line x1="443.0" y1="1276.5" x2="461.0" y2="1264.5" stroke="#111" stroke-width="1.7" />
<line x1="448.6" y1="1279.4" x2="466.6" y2="1267.4" stroke="#111" stroke-width="1.7" />
<line x1="454.1" y1="1282.4" x2="472.1" y2="1270.4" stroke="#111" stroke-width="1.7" />
<line x1="459.7" y1="1285.3" x2="477.7" y2="1273.3" stroke="#111" stroke-width="1.7" />
<line x1="465.2" y1="1288.3" x2="483.2" y2="1276.3" stroke="#111" stroke-width="1.7" />
<line x1="470.8" y1="1291.2" x2="488.8" y2="1279.2" stroke="#111" stroke-width="1.7" />
<line x1="476.3" y1="1294.2" x2="494.3" y2="1282.2" stroke="#111" stroke-width="1.7" />
<line x1="481.9" y1="1297.1" x2="499.9" y2="1285.1" stroke="#111" stroke-width="1.7" />
<line x1="487.4" y1="1300.1" x2="505.4" y2="1288.1" stroke="#111" stroke-width="1.7" />
<polygon points="393.0,1274.0 493.0,1327.0 511.0,1315.0 411.0,1262.0" fill="none" stroke="#111" stroke-width="2.4" stroke-linejoin="round" />
<line x1="396.6" y1="1271.6" x2="496.6" y2="1324.6" stroke="#111" stroke-width="1.7" />
<line x1="400.2" y1="1269.2" x2="500.2" y2="1322.2" stroke="#111" stroke-width="1.7" />
<line x1="403.8" y1="1266.8" x2="503.8" y2="1319.8" stroke="#111" stroke-width="1.7" />
<line x1="407.4" y1="1264.4" x2="507.4" y2="1317.4" stroke="#111" stroke-width="1.7" />
<line x1="398.6" y1="1276.9" x2="416.6" y2="1264.9" stroke="#111" stroke-width="1.7" />
<line x1="404.1" y1="1279.9" x2="422.1" y2="1267.9" stroke="#111" stroke-width="1.7" />
<line x1="409.7" y1="1282.8" x2="427.7" y2="1270.8" stroke="#111" stroke-width="1.7" />
<line x1="415.2" y1="1285.8" x2="433.2" y2="1273.8" stroke="#111" stroke-width="1.7" />
<line x1="420.8" y1="1288.7" x2="438.8" y2="1276.7" stroke="#111" stroke-width="1.7" />
<line x1="426.3" y1="1291.7" x2="444.3" y2="1279.7" stroke="#111" stroke-width="1.7" />
<line x1="431.9" y1="1294.6" x2="449.9" y2="1282.6" stroke="#111" stroke-width="1.7" />
<line x1="437.4" y1="1297.6" x2="455.4" y2="1285.6" stroke="#111" stroke-width="1.7" />
<line x1="443.0" y1="1300.5" x2="461.0" y2="1288.5" stroke="#111" stroke-width="1.7" />
<line x1="448.6" y1="1303.4" x2="466.6" y2="1291.4" stroke="#111" stroke-width="1.7" />
<line x1="454.1" y1="1306.4" x2="472.1" y2="1294.4" stroke="#111" stroke-width="1.7" />
<line x1="459.7" y1="1309.3" x2="477.7" y2="1297.3" stroke="#111" stroke-width="1.7" />
<line x1="465.2" y1="1312.3" x2="483.2" y2="1300.3" stroke="#111" stroke-width="1.7" />
<line x1="470.8" y1="1315.2" x2="488.8" y2="1303.2" stroke="#111" stroke-width="1.7" />
<line x1="476.3" y1="1318.2" x2="494.3" y2="1306.2" stroke="#111" stroke-width="1.7" />
<line x1="481.9" y1="1321.1" x2="499.9" y2="1309.1" stroke="#111" stroke-width="1.7" />
<line x1="487.4" y1="1324.1" x2="505.4" y2="1312.1" stroke="#111" stroke-width="1.7" />
<polygon points="404.0,1300.0 496.0,1347.0 518.0,1333.0 426.0,1286.0" fill="none" stroke="#111" stroke-width="2.4" stroke-linejoin="round" />
<line x1="411.3" y1="1295.3" x2="503.3" y2="1342.3" stroke="#111" stroke-width="2.2" />
<line x1="418.7" y1="1290.7" x2="510.7" y2="1337.7" stroke="#111" stroke-width="2.2" />
<line x1="410.6" y1="1303.4" x2="432.6" y2="1289.4" stroke="#111" stroke-width="2.2" />
<line x1="417.1" y1="1306.7" x2="439.1" y2="1292.7" stroke="#111" stroke-width="2.2" />
<line x1="423.7" y1="1310.1" x2="445.7" y2="1296.1" stroke="#111" stroke-width="2.2" />
<line x1="430.3" y1="1313.4" x2="452.3" y2="1299.4" stroke="#111" stroke-width="2.2" />
<line x1="436.9" y1="1316.8" x2="458.9" y2="1302.8" stroke="#111" stroke-width="2.2" />
<line x1="443.4" y1="1320.1" x2="465.4" y2="1306.1" stroke="#111" stroke-width="2.2" />
<line x1="450.0" y1="1323.5" x2="472.0" y2="1309.5" stroke="#111" stroke-width="2.2" />
<line x1="456.6" y1="1326.9" x2="478.6" y2="1312.9" stroke="#111" stroke-width="2.2" />
<line x1="463.1" y1="1330.2" x2="485.1" y2="1316.2" stroke="#111" stroke-width="2.2" />
<line x1="469.7" y1="1333.6" x2="491.7" y2="1319.6" stroke="#111" stroke-width="2.2" />
<line x1="476.3" y1="1336.9" x2="498.3" y2="1322.9" stroke="#111" stroke-width="2.2" />
<line x1="482.9" y1="1340.3" x2="504.9" y2="1326.3" stroke="#111" stroke-width="2.2" />
<line x1="489.4" y1="1343.6" x2="511.4" y2="1329.6" stroke="#111" stroke-width="2.2" />
<line x1="400.0" y1="1235.0" x2="490.0" y2="1285.0" stroke="#111" stroke-width="1.6" />
<polygon points="392.0,1296.0 495.0,1356.0 495.0,1350.0 395.0,1292.0" fill="#222" stroke="#111" stroke-width="0" stroke-linejoin="round" />
</g>
<line x1="473.0" y1="1342.0" x2="492.0" y2="1336.0" stroke="#111" stroke-width="2.4" />
<line x1="383.0" y1="1300.0" x2="395.0" y2="1294.0" stroke="#111" stroke-width="2.4" />
<line x1="296.0" y1="1250.0" x2="282.0" y2="1258.0" stroke="#111" stroke-width="2.4" />
<line x1="360.0" y1="1286.0" x2="372.0" y2="1292.0" stroke="#111" stroke-width="2.0" />
<polygon points="285.2,1252.5 362.7,1294.9 262.9,1343.7 185.5,1299.2" fill="#fff" stroke="#111" stroke-width="1.3" stroke-linejoin="round" />
<polygon points="185.5,1299.2 262.9,1343.7 275.7,1373.4 191.8,1324.6 181.0,1306.0" fill="#fff" stroke="#111" stroke-width="1.2" stroke-linejoin="round" />
<line x1="189.0" y1="1312.0" x2="269.0" y2="1357.0" stroke="#111" stroke-width="1.0" />
<line x1="190.0" y1="1318.0" x2="272.0" y2="1365.0" stroke="#111" stroke-width="0.9" />
<path d="M234,1291 L256,1278 Q262,1275 268,1278.5 L306,1300 Q311,1303 305,1306.5 L282,1319.5 Q276,1322 270,1319 L232,1297.5 Q227,1294 234,1291 Z" fill="#fff" stroke="#111" stroke-width="1.3"/>
<circle cx="212" cy="1306.6" r="2" fill="#111"/><circle cx="251.3" cy="1328.9" r="2" fill="#111"/><circle cx="266" cy="1261" r="0.9" fill="#111"/>
<line x1="228.0" y1="1320.0" x2="245.0" y2="1330.0" stroke="#111" stroke-width="1.0" />
<polyline points="181.0,1306.0 184.0,1320.0 189.7,1326.8 192.0,1322.0" fill="none" stroke="#111" stroke-width="1.2" stroke-linejoin="round" stroke-linecap="round" />
<polygon points="370.0,1301.0 505.0,1378.0 408.5,1432.5 262.0,1344.0" fill="#fff" stroke="#111" stroke-width="1.3" stroke-linejoin="round" />
<polygon points="262.0,1344.0 408.5,1432.5 412.0,1452.0 272.0,1368.0 259.9,1349.0" fill="#fff" stroke="#111" stroke-width="1.2" stroke-linejoin="round" />
<polygon points="408.5,1432.5 505.0,1378.0 507.7,1392.0 412.0,1446.0" fill="#fff" stroke="#111" stroke-width="1.2" stroke-linejoin="round" />
<line x1="268.0" y1="1356.0" x2="410.0" y2="1441.0" stroke="#111" stroke-width="1.0" />
<line x1="411.0" y1="1439.5" x2="506.0" y2="1385.0" stroke="#111" stroke-width="1.0" />
<polygon points="487.0,1403.0 503.0,1412.0 503.0,1394.0" fill="#fff" stroke="#111" stroke-width="1.1" stroke-linejoin="round" />
<path d="M318,1341 L343,1328 Q351,1324 359,1328.5 L450,1378 Q457,1382 450,1386 L425,1400 Q418,1404 410,1399.5 L319,1349 Q311,1345 318,1341 Z" fill="#fff" stroke="#111" stroke-width="1.3"/>
<line x1="351.0" y1="1325.0" x2="440.0" y2="1374.0" stroke="#111" stroke-width="2.2" />
<line x1="280.0" y1="1350.0" x2="335.0" y2="1383.0" stroke="#111" stroke-width="2.4" stroke-dasharray="6 3"/>
<line x1="348.0" y1="1391.0" x2="405.0" y2="1423.0" stroke="#111" stroke-width="2.8" />
<circle cx="312.8" cy="1363.8" r="2.2" fill="#111"/><circle cx="381.1" cy="1403.4" r="2.2" fill="#111"/>
<polyline points="403.7,1433.7 407.0,1450.0 414.0,1454.5 420.0,1451.0 420.5,1434.0" fill="none" stroke="#111" stroke-width="1.3" stroke-linejoin="round" stroke-linecap="round" />
<polyline points="259.9,1348.3 263.0,1366.0 272.0,1373.0 276.4,1366.0" fill="none" stroke="#111" stroke-width="1.3" stroke-linejoin="round" stroke-linecap="round" />
<line x1="443.0" y1="1408.0" x2="468.0" y2="1394.0" stroke="#111" stroke-width="2.0" />
<line x1="419.0" y1="1429.0" x2="436.0" y2="1420.0" stroke="#111" stroke-width="2.0" />
<line x1="448.0" y1="1417.0" x2="475.0" y2="1402.0" stroke="#111" stroke-width="2.0" />
<polygon points="258.4,1103.7 267.5,1118.8 267.5,1139.0 499.1,1268.4 499.1,1242.0 487.7,1237.7" fill="#fff" stroke="none" stroke-width="0" stroke-linejoin="round" />
<polyline points="258.4,1103.7 267.5,1118.8 267.5,1139.0 499.1,1268.4 499.1,1242.0" fill="none" stroke="#111" stroke-width="1.3" stroke-linejoin="round" stroke-linecap="round" />
<line x1="499.1" y1="1242.0" x2="509.7" y2="1225.0" stroke="#111" stroke-width="1.2" />
<line x1="261.5" y1="1114.2" x2="488.5" y2="1240.5" stroke="#111" stroke-width="1.1" />
<g transform="matrix(1.0829,-0.00473,-0.01064,1.087,-54.89,551.05)">
<polygon points="292.6,511.3 312.4,499.2 527.0,623.0 507.3,633.9" fill="#fff" stroke="none" stroke-width="0" stroke-linejoin="round" />
<polygon points="312.4,499.2 415.5,441.0 631.0,557.0 527.0,623.0" fill="#fff" stroke="#111" stroke-width="1.3" stroke-linejoin="round" />
<polygon points="415.3,434.6 425.6,429.2 639.6,551.0 639.6,557.0 631.3,557.5 415.3,440.0" fill="#fff" stroke="#111" stroke-width="1.3" stroke-linejoin="round" />
<line x1="415.3" y1="434.6" x2="631.3" y2="552.5" stroke="#111" stroke-width="1.2" />
<rect x="426.8" y="433.3" width="2.5" height="8.4" rx="1.25" fill="#fff" stroke="#111" stroke-width="1.3" transform="rotate(62 428.0 437.5)"/>
<rect x="432.1" y="436.3" width="2.5" height="8.4" rx="1.25" fill="#fff" stroke="#111" stroke-width="1.3" transform="rotate(62 433.4 440.5)"/>
<rect x="437.5" y="439.3" width="2.5" height="8.4" rx="1.25" fill="#fff" stroke="#111" stroke-width="1.3" transform="rotate(62 438.7 443.5)"/>
<rect x="442.8" y="442.3" width="2.5" height="8.4" rx="1.25" fill="#fff" stroke="#111" stroke-width="1.3" transform="rotate(62 444.1 446.5)"/>
<rect x="448.2" y="445.4" width="2.5" height="8.4" rx="1.25" fill="#fff" stroke="#111" stroke-width="1.3" transform="rotate(62 449.4 449.6)"/>
<rect x="453.5" y="448.4" width="2.5" height="8.4" rx="1.25" fill="#fff" stroke="#111" stroke-width="1.3" transform="rotate(62 454.8 452.6)"/>
<rect x="458.9" y="451.4" width="2.5" height="8.4" rx="1.25" fill="#fff" stroke="#111" stroke-width="1.3" transform="rotate(62 460.1 455.6)"/>
<rect x="464.2" y="454.4" width="2.5" height="8.4" rx="1.25" fill="#fff" stroke="#111" stroke-width="1.3" transform="rotate(62 465.5 458.6)"/>
<rect x="469.6" y="457.4" width="2.5" height="8.4" rx="1.25" fill="#fff" stroke="#111" stroke-width="1.3" transform="rotate(62 470.8 461.6)"/>
<rect x="474.9" y="460.4" width="2.5" height="8.4" rx="1.25" fill="#fff" stroke="#111" stroke-width="1.3" transform="rotate(62 476.2 464.6)"/>
<rect x="480.3" y="463.4" width="2.5" height="8.4" rx="1.25" fill="#fff" stroke="#111" stroke-width="1.3" transform="rotate(62 481.5 467.6)"/>
<rect x="485.6" y="466.4" width="2.5" height="8.4" rx="1.25" fill="#fff" stroke="#111" stroke-width="1.3" transform="rotate(62 486.9 470.6)"/>
<rect x="491.0" y="469.5" width="2.5" height="8.4" rx="1.25" fill="#fff" stroke="#111" stroke-width="1.3" transform="rotate(62 492.2 473.7)"/>
<rect x="496.3" y="472.5" width="2.5" height="8.4" rx="1.25" fill="#fff" stroke="#111" stroke-width="1.3" transform="rotate(62 497.6 476.7)"/>
<rect x="501.7" y="475.5" width="2.5" height="8.4" rx="1.25" fill="#fff" stroke="#111" stroke-width="1.3" transform="rotate(62 502.9 479.7)"/>
<rect x="507.0" y="478.5" width="2.5" height="8.4" rx="1.25" fill="#fff" stroke="#111" stroke-width="1.3" transform="rotate(62 508.3 482.7)"/>
<rect x="512.4" y="481.5" width="2.5" height="8.4" rx="1.25" fill="#fff" stroke="#111" stroke-width="1.3" transform="rotate(62 513.6 485.7)"/>
<rect x="517.7" y="484.5" width="2.5" height="8.4" rx="1.25" fill="#fff" stroke="#111" stroke-width="1.3" transform="rotate(62 519.0 488.7)"/>
<rect x="523.1" y="487.5" width="2.5" height="8.4" rx="1.25" fill="#fff" stroke="#111" stroke-width="1.3" transform="rotate(62 524.3 491.7)"/>
<rect x="528.4" y="490.6" width="2.5" height="8.4" rx="1.25" fill="#fff" stroke="#111" stroke-width="1.3" transform="rotate(62 529.7 494.8)"/>
<rect x="533.8" y="493.6" width="2.5" height="8.4" rx="1.25" fill="#fff" stroke="#111" stroke-width="1.3" transform="rotate(62 535.0 497.8)"/>
<rect x="539.1" y="496.6" width="2.5" height="8.4" rx="1.25" fill="#fff" stroke="#111" stroke-width="1.3" transform="rotate(62 540.4 500.8)"/>
<rect x="544.5" y="499.6" width="2.5" height="8.4" rx="1.25" fill="#fff" stroke="#111" stroke-width="1.3" transform="rotate(62 545.7 503.8)"/>
<rect x="549.8" y="502.6" width="2.5" height="8.4" rx="1.25" fill="#fff" stroke="#111" stroke-width="1.3" transform="rotate(62 551.1 506.8)"/>
<rect x="555.2" y="505.6" width="2.5" height="8.4" rx="1.25" fill="#fff" stroke="#111" stroke-width="1.3" transform="rotate(62 556.4 509.8)"/>
<rect x="560.5" y="508.6" width="2.5" height="8.4" rx="1.25" fill="#fff" stroke="#111" stroke-width="1.3" transform="rotate(62 561.8 512.8)"/>
<rect x="565.9" y="511.7" width="2.5" height="8.4" rx="1.25" fill="#fff" stroke="#111" stroke-width="1.3" transform="rotate(62 567.1 515.9)"/>
<rect x="571.2" y="514.7" width="2.5" height="8.4" rx="1.25" fill="#fff" stroke="#111" stroke-width="1.3" transform="rotate(62 572.5 518.9)"/>
<rect x="576.6" y="517.7" width="2.5" height="8.4" rx="1.25" fill="#fff" stroke="#111" stroke-width="1.3" transform="rotate(62 577.8 521.9)"/>
<rect x="581.9" y="520.7" width="2.5" height="8.4" rx="1.25" fill="#fff" stroke="#111" stroke-width="1.3" transform="rotate(62 583.2 524.9)"/>
<rect x="587.3" y="523.7" width="2.5" height="8.4" rx="1.25" fill="#fff" stroke="#111" stroke-width="1.3" transform="rotate(62 588.5 527.9)"/>
<rect x="592.6" y="526.7" width="2.5" height="8.4" rx="1.25" fill="#fff" stroke="#111" stroke-width="1.3" transform="rotate(62 593.9 530.9)"/>
<rect x="598.0" y="529.7" width="2.5" height="8.4" rx="1.25" fill="#fff" stroke="#111" stroke-width="1.3" transform="rotate(62 599.2 533.9)"/>
<rect x="603.3" y="532.7" width="2.5" height="8.4" rx="1.25" fill="#fff" stroke="#111" stroke-width="1.3" transform="rotate(62 604.6 536.9)"/>
<rect x="608.7" y="535.8" width="2.5" height="8.4" rx="1.25" fill="#fff" stroke="#111" stroke-width="1.3" transform="rotate(62 609.9 540.0)"/>
<rect x="614.0" y="538.8" width="2.5" height="8.4" rx="1.25" fill="#fff" stroke="#111" stroke-width="1.3" transform="rotate(62 615.3 543.0)"/>
<rect x="619.4" y="541.8" width="2.5" height="8.4" rx="1.25" fill="#fff" stroke="#111" stroke-width="1.3" transform="rotate(62 620.6 546.0)"/>
<rect x="624.8" y="544.8" width="2.5" height="8.4" rx="1.25" fill="#fff" stroke="#111" stroke-width="1.3" transform="rotate(62 626.0 549.0)"/>
<clipPath id="clipB"><polygon points="312.4,499.2 415.5,441 631,557 527,623"/></clipPath>
<g clip-path="url(#clipB)">
<line x1="422.0" y1="439.5" x2="313.5" y2="504.4" stroke="#111" stroke-width="3.0" />
<line x1="425.1" y1="441.2" x2="316.6" y2="506.1" stroke="#111" stroke-width="1.6" />
<line x1="418.4" y1="437.4" x2="310.0" y2="502.3" stroke="#111" stroke-width="0.9" />
<line x1="472.8" y1="468.7" x2="364.3" y2="533.6" stroke="#111" stroke-width="3.0" />
<line x1="475.9" y1="470.4" x2="367.4" y2="535.3" stroke="#111" stroke-width="1.6" />
<line x1="469.2" y1="466.6" x2="360.8" y2="531.5" stroke="#111" stroke-width="0.9" />
<line x1="523.6" y1="497.9" x2="415.1" y2="562.8" stroke="#111" stroke-width="3.0" />
<line x1="526.7" y1="499.6" x2="418.2" y2="564.5" stroke="#111" stroke-width="1.6" />
<line x1="520.0" y1="495.8" x2="411.6" y2="560.7" stroke="#111" stroke-width="0.9" />
<line x1="574.4" y1="527.1" x2="465.9" y2="592.0" stroke="#111" stroke-width="3.0" />
<line x1="577.5" y1="528.8" x2="469.0" y2="593.7" stroke="#111" stroke-width="1.6" />
<line x1="570.9" y1="525.0" x2="462.4" y2="589.9" stroke="#111" stroke-width="0.9" />
<line x1="625.2" y1="556.3" x2="516.7" y2="621.2" stroke="#111" stroke-width="3.0" />
<line x1="628.3" y1="558.0" x2="519.8" y2="622.9" stroke="#111" stroke-width="1.6" />
<line x1="621.6" y1="554.2" x2="513.2" y2="619.1" stroke="#111" stroke-width="0.9" />
<line x1="407.5" y1="438.0" x2="631.0" y2="566.5" stroke="#111" stroke-width="3.0" />
<line x1="404.0" y1="440.1" x2="627.5" y2="568.6" stroke="#111" stroke-width="1.0" />
<line x1="410.9" y1="436.0" x2="634.4" y2="564.4" stroke="#111" stroke-width="1.0" />
<line x1="311.8" y1="495.3" x2="535.3" y2="623.7" stroke="#111" stroke-width="3.0" />
<line x1="308.4" y1="497.3" x2="531.9" y2="625.8" stroke="#111" stroke-width="1.0" />
<line x1="315.3" y1="493.2" x2="538.8" y2="621.7" stroke="#111" stroke-width="1.0" />
<line x1="359.6" y1="466.6" x2="583.2" y2="595.1" stroke="#111" stroke-width="2.2" />
<line x1="356.2" y1="468.7" x2="579.7" y2="597.2" stroke="#111" stroke-width="1.6" />
<line x1="389.7" y1="448.6" x2="613.2" y2="577.1" stroke="#111" stroke-width="1.3" />
<line x1="387.2" y1="450.1" x2="610.8" y2="578.6" stroke="#111" stroke-width="1.0" />
<line x1="364.1" y1="464.0" x2="587.6" y2="592.5" stroke="#111" stroke-width="1.3" />
<line x1="361.6" y1="465.5" x2="585.1" y2="593.9" stroke="#111" stroke-width="1.0" />
<line x1="340.4" y1="478.1" x2="563.9" y2="606.6" stroke="#111" stroke-width="1.3" />
<line x1="337.9" y1="479.6" x2="561.5" y2="608.1" stroke="#111" stroke-width="1.0" />
<line x1="314.8" y1="493.5" x2="538.3" y2="622.0" stroke="#111" stroke-width="1.3" />
<line x1="312.3" y1="495.0" x2="535.8" y2="623.4" stroke="#111" stroke-width="1.0" />
<polyline points="394.5,469.1 410.5,469.1" fill="none" stroke="#111" stroke-width="3.6" stroke-linejoin="round" stroke-linecap="round" />
<polyline points="428.9,468.5 444.5,467.5 452.5,472.5" fill="none" stroke="#111" stroke-width="3.6" stroke-linejoin="round" stroke-linecap="round" />
<path d="M394.5,469.5 Q381.5,476.5 395.5,483.5" fill="none" stroke="#111" stroke-width="3.0"/>
<line x1="394.5" y1="483.5" x2="408.5" y2="476.5" stroke="#111" stroke-width="3.8" />
<line x1="431.3" y1="474.8" x2="443.5" y2="482.5" stroke="#111" stroke-width="3.8" />
<line x1="397.1" y1="455.9" x2="408.5" y2="461.5" stroke="#111" stroke-width="3.0" />
<line x1="429.5" y1="460.9" x2="449.5" y2="449.5" stroke="#111" stroke-width="3.0" />
<polyline points="418.5,464.5 418.5,453.5 424.5,451.5" fill="none" stroke="#111" stroke-width="3.2" stroke-linejoin="round" stroke-linecap="round" />
<polyline points="391.5,505.5 391.5,496.5 396.5,493.5" fill="none" stroke="#111" stroke-width="3.0" stroke-linejoin="round" stroke-linecap="round" />
<polyline points="345.2,498.6 361.2,498.6" fill="none" stroke="#111" stroke-width="3.6" stroke-linejoin="round" stroke-linecap="round" />
<polyline points="379.6,498.0 395.2,497.0 403.2,502.0" fill="none" stroke="#111" stroke-width="3.6" stroke-linejoin="round" stroke-linecap="round" />
<path d="M345.2,499.0 Q332.2,506.0 346.2,513.0" fill="none" stroke="#111" stroke-width="3.0"/>
<line x1="345.2" y1="513.0" x2="359.2" y2="506.0" stroke="#111" stroke-width="3.8" />
<line x1="382.0" y1="504.3" x2="394.2" y2="512.0" stroke="#111" stroke-width="3.8" />
<line x1="347.8" y1="485.4" x2="359.2" y2="491.0" stroke="#111" stroke-width="3.0" />
<line x1="380.2" y1="490.4" x2="400.2" y2="479.0" stroke="#111" stroke-width="3.0" />
<polyline points="369.2,494.0 369.2,483.0 375.2,481.0" fill="none" stroke="#111" stroke-width="3.2" stroke-linejoin="round" stroke-linecap="round" />
<polyline points="342.2,535.0 342.2,526.0 347.2,523.0" fill="none" stroke="#111" stroke-width="3.0" stroke-linejoin="round" stroke-linecap="round" />
<polyline points="445.3,498.3 461.3,498.3" fill="none" stroke="#111" stroke-width="3.6" stroke-linejoin="round" stroke-linecap="round" />
<polyline points="479.7,497.7 495.3,496.7 503.3,501.7" fill="none" stroke="#111" stroke-width="3.6" stroke-linejoin="round" stroke-linecap="round" />
<path d="M445.3,498.7 Q432.3,505.7 446.3,512.7" fill="none" stroke="#111" stroke-width="3.0"/>
<line x1="445.3" y1="512.7" x2="459.3" y2="505.7" stroke="#111" stroke-width="3.8" />
<line x1="482.1" y1="504.0" x2="494.3" y2="511.7" stroke="#111" stroke-width="3.8" />
<line x1="447.9" y1="485.1" x2="459.3" y2="490.7" stroke="#111" stroke-width="3.0" />
<line x1="480.3" y1="490.1" x2="500.3" y2="478.7" stroke="#111" stroke-width="3.0" />
<polyline points="469.3,493.7 469.3,482.7 475.3,480.7" fill="none" stroke="#111" stroke-width="3.2" stroke-linejoin="round" stroke-linecap="round" />
<polyline points="442.3,534.7 442.3,525.7 447.3,522.7" fill="none" stroke="#111" stroke-width="3.0" stroke-linejoin="round" stroke-linecap="round" />
<polyline points="396.0,527.8 412.0,527.8" fill="none" stroke="#111" stroke-width="3.6" stroke-linejoin="round" stroke-linecap="round" />
<polyline points="430.4,527.2 446.0,526.2 454.0,531.2" fill="none" stroke="#111" stroke-width="3.6" stroke-linejoin="round" stroke-linecap="round" />
<path d="M396.0,528.2 Q383.0,535.2 397.0,542.2" fill="none" stroke="#111" stroke-width="3.0"/>
<line x1="396.0" y1="542.2" x2="410.0" y2="535.2" stroke="#111" stroke-width="3.8" />
<line x1="432.8" y1="533.5" x2="445.0" y2="541.2" stroke="#111" stroke-width="3.8" />
<line x1="398.6" y1="514.6" x2="410.0" y2="520.2" stroke="#111" stroke-width="3.0" />
<line x1="431.0" y1="519.6" x2="451.0" y2="508.2" stroke="#111" stroke-width="3.0" />
<polyline points="420.0,523.2 420.0,512.2 426.0,510.2" fill="none" stroke="#111" stroke-width="3.2" stroke-linejoin="round" stroke-linecap="round" />
<polyline points="393.0,564.2 393.0,555.2 398.0,552.2" fill="none" stroke="#111" stroke-width="3.0" stroke-linejoin="round" stroke-linecap="round" />
<polyline points="496.1,527.5 512.1,527.5" fill="none" stroke="#111" stroke-width="3.6" stroke-linejoin="round" stroke-linecap="round" />
<polyline points="530.5,526.9 546.1,525.9 554.1,530.9" fill="none" stroke="#111" stroke-width="3.6" stroke-linejoin="round" stroke-linecap="round" />
<path d="M496.1,527.9 Q483.1,534.9 497.1,541.9" fill="none" stroke="#111" stroke-width="3.0"/>
<line x1="496.1" y1="541.9" x2="510.1" y2="534.9" stroke="#111" stroke-width="3.8" />
<line x1="532.9" y1="533.2" x2="545.1" y2="540.9" stroke="#111" stroke-width="3.8" />
<line x1="498.7" y1="514.3" x2="510.1" y2="519.9" stroke="#111" stroke-width="3.0" />
<line x1="531.1" y1="519.3" x2="551.1" y2="507.9" stroke="#111" stroke-width="3.0" />
<polyline points="520.1,522.9 520.1,511.9 526.1,509.9" fill="none" stroke="#111" stroke-width="3.2" stroke-linejoin="round" stroke-linecap="round" />
<polyline points="493.1,563.9 493.1,554.9 498.1,551.9" fill="none" stroke="#111" stroke-width="3.0" stroke-linejoin="round" stroke-linecap="round" />
<polyline points="446.8,557.0 462.8,557.0" fill="none" stroke="#111" stroke-width="3.6" stroke-linejoin="round" stroke-linecap="round" />
<polyline points="481.2,556.4 496.8,555.4 504.8,560.4" fill="none" stroke="#111" stroke-width="3.6" stroke-linejoin="round" stroke-linecap="round" />
<path d="M446.8,557.4 Q433.8,564.4 447.8,571.4" fill="none" stroke="#111" stroke-width="3.0"/>
<line x1="446.8" y1="571.4" x2="460.8" y2="564.4" stroke="#111" stroke-width="3.8" />
<line x1="483.6" y1="562.7" x2="495.8" y2="570.4" stroke="#111" stroke-width="3.8" />
<line x1="449.4" y1="543.8" x2="460.8" y2="549.4" stroke="#111" stroke-width="3.0" />
<line x1="481.8" y1="548.8" x2="501.8" y2="537.4" stroke="#111" stroke-width="3.0" />
<polyline points="470.8,552.4 470.8,541.4 476.8,539.4" fill="none" stroke="#111" stroke-width="3.2" stroke-linejoin="round" stroke-linecap="round" />
<polyline points="443.8,593.4 443.8,584.4 448.8,581.4" fill="none" stroke="#111" stroke-width="3.0" stroke-linejoin="round" stroke-linecap="round" />
<polyline points="546.9,556.7 562.9,556.7" fill="none" stroke="#111" stroke-width="3.6" stroke-linejoin="round" stroke-linecap="round" />
<polyline points="581.3,556.1 596.9,555.1 604.9,560.1" fill="none" stroke="#111" stroke-width="3.6" stroke-linejoin="round" stroke-linecap="round" />
<path d="M546.9,557.1 Q533.9,564.1 547.9,571.1" fill="none" stroke="#111" stroke-width="3.0"/>
<line x1="546.9" y1="571.1" x2="560.9" y2="564.1" stroke="#111" stroke-width="3.8" />
<line x1="583.7" y1="562.4" x2="595.9" y2="570.1" stroke="#111" stroke-width="3.8" />
<line x1="549.5" y1="543.5" x2="560.9" y2="549.1" stroke="#111" stroke-width="3.0" />
<line x1="581.9" y1="548.5" x2="601.9" y2="537.1" stroke="#111" stroke-width="3.0" />
<polyline points="570.9,552.1 570.9,541.1 576.9,539.1" fill="none" stroke="#111" stroke-width="3.2" stroke-linejoin="round" stroke-linecap="round" />
<polyline points="543.9,593.1 543.9,584.1 548.9,581.1" fill="none" stroke="#111" stroke-width="3.0" stroke-linejoin="round" stroke-linecap="round" />
<polyline points="497.6,586.2 513.6,586.2" fill="none" stroke="#111" stroke-width="3.6" stroke-linejoin="round" stroke-linecap="round" />
<polyline points="532.0,585.6 547.6,584.6 555.6,589.6" fill="none" stroke="#111" stroke-width="3.6" stroke-linejoin="round" stroke-linecap="round" />
<path d="M497.6,586.6 Q484.6,593.6 498.6,600.6" fill="none" stroke="#111" stroke-width="3.0"/>
<line x1="497.6" y1="600.6" x2="511.6" y2="593.6" stroke="#111" stroke-width="3.8" />
<line x1="534.4" y1="591.9" x2="546.6" y2="599.6" stroke="#111" stroke-width="3.8" />
<line x1="500.2" y1="573.0" x2="511.6" y2="578.6" stroke="#111" stroke-width="3.0" />
<line x1="532.6" y1="578.0" x2="552.6" y2="566.6" stroke="#111" stroke-width="3.0" />
<polyline points="521.6,581.6 521.6,570.6 527.6,568.6" fill="none" stroke="#111" stroke-width="3.2" stroke-linejoin="round" stroke-linecap="round" />
<polyline points="494.6,622.6 494.6,613.6 499.6,610.6" fill="none" stroke="#111" stroke-width="3.0" stroke-linejoin="round" stroke-linecap="round" />
<ellipse cx="419.5" cy="486.0" rx="12.5" ry="6.8" fill="#151515"/>
<ellipse cx="419.5" cy="489.0" rx="6" ry="2.4" fill="none" stroke="#aaa" stroke-width="0.9"/>
<ellipse cx="419.5" cy="478.5" rx="11.6" ry="6.9" fill="#fff" stroke="#111" stroke-width="1.2"/>
<ellipse cx="419.5" cy="478.2" rx="8.4" ry="4.7" fill="none" stroke="#111" stroke-width="1.3"/>
<ellipse cx="419.5" cy="478.2" rx="5.2" ry="3" fill="none" stroke="#111" stroke-width="1.6"/>
<line x1="419.5" y1="473.5" x2="419.5" y2="483.1" stroke="#111" stroke-width="1.8" />
<ellipse cx="370.2" cy="515.5" rx="12.5" ry="6.8" fill="#151515"/>
<ellipse cx="370.2" cy="518.5" rx="6" ry="2.4" fill="none" stroke="#aaa" stroke-width="0.9"/>
<ellipse cx="370.2" cy="508.0" rx="11.6" ry="6.9" fill="#fff" stroke="#111" stroke-width="1.2"/>
<ellipse cx="370.2" cy="507.7" rx="8.4" ry="4.7" fill="none" stroke="#111" stroke-width="1.3"/>
<ellipse cx="370.2" cy="507.7" rx="5.2" ry="3" fill="none" stroke="#111" stroke-width="1.6"/>
<line x1="370.2" y1="503.0" x2="370.2" y2="512.6" stroke="#111" stroke-width="1.8" />
<ellipse cx="470.3" cy="515.2" rx="12.5" ry="6.8" fill="#151515"/>
<ellipse cx="470.3" cy="518.2" rx="6" ry="2.4" fill="none" stroke="#aaa" stroke-width="0.9"/>
<ellipse cx="470.3" cy="507.7" rx="11.6" ry="6.9" fill="#fff" stroke="#111" stroke-width="1.2"/>
<ellipse cx="470.3" cy="507.4" rx="8.4" ry="4.7" fill="none" stroke="#111" stroke-width="1.3"/>
<ellipse cx="470.3" cy="507.4" rx="5.2" ry="3" fill="none" stroke="#111" stroke-width="1.6"/>
<line x1="470.3" y1="502.7" x2="470.3" y2="512.3" stroke="#111" stroke-width="1.8" />
<ellipse cx="421.0" cy="544.7" rx="12.5" ry="6.8" fill="#151515"/>
<ellipse cx="421.0" cy="547.7" rx="6" ry="2.4" fill="none" stroke="#aaa" stroke-width="0.9"/>
<ellipse cx="421.0" cy="537.2" rx="11.6" ry="6.9" fill="#fff" stroke="#111" stroke-width="1.2"/>
<ellipse cx="421.0" cy="536.9" rx="8.4" ry="4.7" fill="none" stroke="#111" stroke-width="1.3"/>
<ellipse cx="421.0" cy="536.9" rx="5.2" ry="3" fill="none" stroke="#111" stroke-width="1.6"/>
<line x1="421.0" y1="532.2" x2="421.0" y2="541.8" stroke="#111" stroke-width="1.8" />
<ellipse cx="521.1" cy="544.4" rx="12.5" ry="6.8" fill="#151515"/>
<ellipse cx="521.1" cy="547.4" rx="6" ry="2.4" fill="none" stroke="#aaa" stroke-width="0.9"/>
<ellipse cx="521.1" cy="536.9" rx="11.6" ry="6.9" fill="#fff" stroke="#111" stroke-width="1.2"/>
<ellipse cx="521.1" cy="536.6" rx="8.4" ry="4.7" fill="none" stroke="#111" stroke-width="1.3"/>
<ellipse cx="521.1" cy="536.6" rx="5.2" ry="3" fill="none" stroke="#111" stroke-width="1.6"/>
<line x1="521.1" y1="531.9" x2="521.1" y2="541.5" stroke="#111" stroke-width="1.8" />
<ellipse cx="471.8" cy="573.9" rx="12.5" ry="6.8" fill="#151515"/>
<ellipse cx="471.8" cy="576.9" rx="6" ry="2.4" fill="none" stroke="#aaa" stroke-width="0.9"/>
<ellipse cx="471.8" cy="566.4" rx="11.6" ry="6.9" fill="#fff" stroke="#111" stroke-width="1.2"/>
<ellipse cx="471.8" cy="566.1" rx="8.4" ry="4.7" fill="none" stroke="#111" stroke-width="1.3"/>
<ellipse cx="471.8" cy="566.1" rx="5.2" ry="3" fill="none" stroke="#111" stroke-width="1.6"/>
<line x1="471.8" y1="561.4" x2="471.8" y2="571.0" stroke="#111" stroke-width="1.8" />
<ellipse cx="571.9" cy="573.6" rx="12.5" ry="6.8" fill="#151515"/>
<ellipse cx="571.9" cy="576.6" rx="6" ry="2.4" fill="none" stroke="#aaa" stroke-width="0.9"/>
<ellipse cx="571.9" cy="566.1" rx="11.6" ry="6.9" fill="#fff" stroke="#111" stroke-width="1.2"/>
<ellipse cx="571.9" cy="565.8" rx="8.4" ry="4.7" fill="none" stroke="#111" stroke-width="1.3"/>
<ellipse cx="571.9" cy="565.8" rx="5.2" ry="3" fill="none" stroke="#111" stroke-width="1.6"/>
<line x1="571.9" y1="561.1" x2="571.9" y2="570.7" stroke="#111" stroke-width="1.8" />
<ellipse cx="522.6" cy="603.1" rx="12.5" ry="6.8" fill="#151515"/>
<ellipse cx="522.6" cy="606.1" rx="6" ry="2.4" fill="none" stroke="#aaa" stroke-width="0.9"/>
<ellipse cx="522.6" cy="595.6" rx="11.6" ry="6.9" fill="#fff" stroke="#111" stroke-width="1.2"/>
<ellipse cx="522.6" cy="595.3" rx="8.4" ry="4.7" fill="none" stroke="#111" stroke-width="1.3"/>
<ellipse cx="522.6" cy="595.3" rx="5.2" ry="3" fill="none" stroke="#111" stroke-width="1.6"/>
<line x1="522.6" y1="590.6" x2="522.6" y2="600.2" stroke="#111" stroke-width="1.8" />
</g>
<polygon points="292.6,511.3 312.4,499.2 527.0,623.0 507.3,633.9" fill="#fff" stroke="none" stroke-width="0" stroke-linejoin="round" />
<line x1="292.6" y1="511.3" x2="312.4" y2="499.2" stroke="#111" stroke-width="1.2" />
<line x1="312.4" y1="499.2" x2="527.0" y2="623.0" stroke="#111" stroke-width="1.2" />
<line x1="292.6" y1="511.3" x2="344.1" y2="540.7" stroke="#111" stroke-width="1.2" />
<line x1="357.0" y1="548.1" x2="367.7" y2="554.2" stroke="#111" stroke-width="1.2" />
<line x1="380.6" y1="561.6" x2="391.4" y2="567.7" stroke="#111" stroke-width="1.2" />
<line x1="404.2" y1="575.1" x2="468.7" y2="611.8" stroke="#111" stroke-width="1.2" />
<line x1="479.4" y1="618.0" x2="488.0" y2="622.9" stroke="#111" stroke-width="1.2" />
<line x1="496.6" y1="627.8" x2="507.3" y2="633.9" stroke="#111" stroke-width="1.2" />
</g>
<ellipse cx="282.8" cy="1137.2" rx="9.1" ry="10.8" fill="#fff" stroke="#111" stroke-width="1.7"/>
<ellipse cx="283.3" cy="1137.2" rx="6.9" ry="8.6" fill="none" stroke="#333" stroke-width="1.0"/>
<path d="M272.3,1146.5 L272.3,1134.4 Q272.3,1128.9 277.2,1128.9 L279.4,1128.9 Q284.4,1128.9 284.4,1134.4 L284.4,1147.6 L277.8,1149.2 Z" fill="#fff" stroke="#111" stroke-width="1.4" stroke-linejoin="round"/>
<line x1="276.1" y1="1130.0" x2="276.1" y2="1148.7" stroke="#222" stroke-width="0.8"/>
<path d="M279.2,1148.2 L279.2,1138.8 Q281.5,1134.4 283.7,1138.8 L283.7,1147.6" fill="none" stroke="#111" stroke-width="2.3"/>
<ellipse cx="303.2" cy="1147.5" rx="9.1" ry="10.8" fill="#fff" stroke="#111" stroke-width="1.7"/>
<ellipse cx="303.8" cy="1147.5" rx="6.9" ry="8.6" fill="none" stroke="#333" stroke-width="1.0"/>
<path d="M292.8,1156.8 L292.8,1144.7 Q292.8,1139.2 297.8,1139.2 L299.9,1139.2 Q304.9,1139.2 304.9,1144.7 L304.9,1157.9 L298.3,1159.5 Z" fill="#fff" stroke="#111" stroke-width="1.4" stroke-linejoin="round"/>
<line x1="296.6" y1="1140.3" x2="296.6" y2="1159.0" stroke="#222" stroke-width="0.8"/>
<path d="M299.7,1158.5 L299.7,1149.1 Q302.0,1144.7 304.2,1149.1 L304.2,1157.9" fill="none" stroke="#111" stroke-width="2.3"/>
<ellipse cx="329.6" cy="1161.2" rx="9.1" ry="10.8" fill="#fff" stroke="#111" stroke-width="1.7"/>
<ellipse cx="330.1" cy="1161.2" rx="6.9" ry="8.6" fill="none" stroke="#333" stroke-width="1.0"/>
<path d="M319.1,1170.5 L319.1,1158.4 Q319.1,1152.9 324.1,1152.9 L326.2,1152.9 Q331.2,1152.9 331.2,1158.4 L331.2,1171.6 L324.6,1173.2 Z" fill="#fff" stroke="#111" stroke-width="1.4" stroke-linejoin="round"/>
<line x1="322.9" y1="1154.0" x2="322.9" y2="1172.7" stroke="#222" stroke-width="0.8"/>
<path d="M326.0,1172.2 L326.0,1162.8 Q328.3,1158.4 330.5,1162.8 L330.5,1171.6" fill="none" stroke="#111" stroke-width="2.3"/>
<ellipse cx="355.9" cy="1176.0" rx="9.1" ry="10.8" fill="#fff" stroke="#111" stroke-width="1.7"/>
<ellipse cx="356.4" cy="1176.0" rx="6.9" ry="8.6" fill="none" stroke="#333" stroke-width="1.0"/>
<path d="M345.4,1185.4 L345.4,1173.3 Q345.4,1167.8 350.4,1167.8 L352.6,1167.8 Q357.5,1167.8 357.5,1173.3 L357.5,1186.5 L350.9,1188.1 Z" fill="#fff" stroke="#111" stroke-width="1.4" stroke-linejoin="round"/>
<line x1="349.2" y1="1168.9" x2="349.2" y2="1187.6" stroke="#222" stroke-width="0.8"/>
<path d="M352.3,1187.0 L352.3,1177.7 Q354.6,1173.3 356.8,1177.7 L356.8,1186.5" fill="none" stroke="#111" stroke-width="2.3"/>
<ellipse cx="374.2" cy="1187.5" rx="9.1" ry="10.8" fill="#fff" stroke="#111" stroke-width="1.7"/>
<ellipse cx="374.7" cy="1187.5" rx="6.9" ry="8.6" fill="none" stroke="#333" stroke-width="1.0"/>
<path d="M363.7,1196.8 L363.7,1184.7 Q363.7,1179.2 368.7,1179.2 L370.9,1179.2 Q375.8,1179.2 375.8,1184.7 L375.8,1197.9 L369.2,1199.5 Z" fill="#fff" stroke="#111" stroke-width="1.4" stroke-linejoin="round"/>
<line x1="367.6" y1="1180.3" x2="367.6" y2="1199.0" stroke="#222" stroke-width="0.8"/>
<path d="M370.6,1198.5 L370.6,1189.1 Q372.9,1184.7 375.1,1189.1 L375.1,1197.9" fill="none" stroke="#111" stroke-width="2.3"/>
<ellipse cx="392.5" cy="1197.8" rx="9.1" ry="10.8" fill="#fff" stroke="#111" stroke-width="1.7"/>
<ellipse cx="393.0" cy="1197.8" rx="6.9" ry="8.6" fill="none" stroke="#333" stroke-width="1.0"/>
<path d="M382.0,1207.1 L382.0,1195.0 Q382.0,1189.5 387.0,1189.5 L389.2,1189.5 Q394.1,1189.5 394.1,1195.0 L394.1,1208.2 L387.5,1209.8 Z" fill="#fff" stroke="#111" stroke-width="1.4" stroke-linejoin="round"/>
<line x1="385.9" y1="1190.6" x2="385.9" y2="1209.3" stroke="#222" stroke-width="0.8"/>
<path d="M388.9,1208.8 L388.9,1199.4 Q391.2,1195.0 393.4,1199.4 L393.4,1208.2" fill="none" stroke="#111" stroke-width="2.3"/>
<ellipse cx="413.0" cy="1206.9" rx="9.1" ry="10.8" fill="#fff" stroke="#111" stroke-width="1.7"/>
<ellipse cx="413.5" cy="1206.9" rx="6.9" ry="8.6" fill="none" stroke="#333" stroke-width="1.0"/>
<path d="M402.5,1216.2 L402.5,1204.1 Q402.5,1198.6 407.5,1198.6 L409.7,1198.6 Q414.6,1198.6 414.6,1204.1 L414.6,1217.3 L408.0,1219.0 Z" fill="#fff" stroke="#111" stroke-width="1.4" stroke-linejoin="round"/>
<line x1="406.4" y1="1199.7" x2="406.4" y2="1218.4" stroke="#222" stroke-width="0.8"/>
<path d="M409.4,1217.9 L409.4,1208.5 Q411.7,1204.1 413.9,1208.5 L413.9,1217.3" fill="none" stroke="#111" stroke-width="2.3"/>
<ellipse cx="438.2" cy="1222.9" rx="9.1" ry="10.8" fill="#fff" stroke="#111" stroke-width="1.7"/>
<ellipse cx="438.7" cy="1222.9" rx="6.9" ry="8.6" fill="none" stroke="#333" stroke-width="1.0"/>
<path d="M427.7,1232.2 L427.7,1220.1 Q427.7,1214.6 432.7,1214.6 L434.9,1214.6 Q439.8,1214.6 439.8,1220.1 L439.8,1233.3 L433.2,1235.0 Z" fill="#fff" stroke="#111" stroke-width="1.4" stroke-linejoin="round"/>
<line x1="431.6" y1="1215.7" x2="431.6" y2="1234.4" stroke="#222" stroke-width="0.8"/>
<path d="M434.6,1233.9 L434.6,1224.5 Q436.9,1220.1 439.1,1224.5 L439.1,1233.3" fill="none" stroke="#111" stroke-width="2.3"/>
<ellipse cx="462.2" cy="1235.5" rx="9.1" ry="10.8" fill="#fff" stroke="#111" stroke-width="1.7"/>
<ellipse cx="462.7" cy="1235.5" rx="6.9" ry="8.6" fill="none" stroke="#333" stroke-width="1.0"/>
<path d="M451.7,1244.8 L451.7,1232.7 Q451.7,1227.2 456.7,1227.2 L458.9,1227.2 Q463.8,1227.2 463.8,1232.7 L463.8,1245.9 L457.2,1247.5 Z" fill="#fff" stroke="#111" stroke-width="1.4" stroke-linejoin="round"/>
<line x1="455.6" y1="1228.3" x2="455.6" y2="1247.0" stroke="#222" stroke-width="0.8"/>
<path d="M458.6,1246.5 L458.6,1237.1 Q460.9,1232.7 463.1,1237.1 L463.1,1245.9" fill="none" stroke="#111" stroke-width="2.3"/>
<ellipse cx="482.8" cy="1248.0" rx="9.1" ry="10.8" fill="#fff" stroke="#111" stroke-width="1.7"/>
<ellipse cx="483.3" cy="1248.0" rx="6.9" ry="8.6" fill="none" stroke="#333" stroke-width="1.0"/>
<path d="M472.3,1257.4 L472.3,1245.3 Q472.3,1239.8 477.2,1239.8 L479.4,1239.8 Q484.4,1239.8 484.4,1245.3 L484.4,1258.5 L477.8,1260.1 Z" fill="#fff" stroke="#111" stroke-width="1.4" stroke-linejoin="round"/>
<line x1="476.1" y1="1240.9" x2="476.1" y2="1259.6" stroke="#222" stroke-width="0.8"/>
<path d="M479.2,1259.0 L479.2,1249.7 Q481.5,1245.3 483.7,1249.7 L483.7,1258.5" fill="none" stroke="#111" stroke-width="2.3"/>
<rect x="309.9" y="1157.0" width="3.6" height="2.4" fill="#111" transform="rotate(30 311.7 1158.2)"/>
<rect x="415.7" y="1218.8" width="3.6" height="2.4" fill="#111" transform="rotate(30 417.5 1220)"/>
<rect x="488.8" y="1260.8" width="3.6" height="2.4" fill="#111" transform="rotate(30 490.6 1262)"/>
<rect x="490.2" y="1246.8" width="3.6" height="2.4" fill="#111" transform="rotate(30 492 1248)"/>
<ellipse cx="501.2" cy="1038.8" rx="12.9" ry="11.7" fill="#fff" stroke="#1a1a1a" stroke-width="2.6"/>
<ellipse cx="614.7" cy="1062.8" rx="12.9" ry="11.7" fill="#fff" stroke="#1a1a1a" stroke-width="2.6"/>
<ellipse cx="136.7" cy="1141.4" rx="12.9" ry="11.7" fill="#fff" stroke="#1a1a1a" stroke-width="2.6"/>
<ellipse cx="171.0" cy="1209.6" rx="12.9" ry="11.7" fill="#fff" stroke="#1a1a1a" stroke-width="2.6"/>
<ellipse cx="702.4" cy="1205.8" rx="12.9" ry="11.7" fill="#fff" stroke="#1a1a1a" stroke-width="2.6"/>
<ellipse cx="712.0" cy="1254.6" rx="12.9" ry="11.7" fill="#fff" stroke="#1a1a1a" stroke-width="2.6"/>
<ellipse cx="572.7" cy="1403.2" rx="12.9" ry="11.7" fill="#fff" stroke="#1a1a1a" stroke-width="2.6"/>
<ellipse cx="310.2" cy="1005.5" rx="12.9" ry="11.7" fill="#fff" stroke="#1a1a1a" stroke-width="2.6"/>
<ellipse cx="362.8" cy="996.5" rx="12.9" ry="11.7" fill="#fff" stroke="#1a1a1a" stroke-width="2.6"/>
<line x1="312.7" y1="1017.8" x2="333.0" y2="1098.6" stroke="#111" stroke-width="2.0" />
<line x1="364.9" y1="1008.8" x2="395.9" y2="1066.7" stroke="#111" stroke-width="2.0" />
<line x1="499.6" y1="1051.8" x2="487.3" y2="1066.5" stroke="#111" stroke-width="2.0" />
<line x1="613.0" y1="1076.3" x2="547.0" y2="1106.5" stroke="#111" stroke-width="2.0" />
<line x1="613.0" y1="1076.3" x2="564.0" y2="1156.3" stroke="#111" stroke-width="2.0" />
<line x1="150.5" y1="1142.0" x2="301.8" y2="1159.2" stroke="#111" stroke-width="1.6" />
<line x1="184.4" y1="1206.6" x2="303.8" y2="1222.7" stroke="#111" stroke-width="1.6" />
<line x1="689.0" y1="1206.2" x2="489.5" y2="1243.6" stroke="#111" stroke-width="1.6" />
<line x1="698.6" y1="1254.6" x2="490.6" y2="1244.0" stroke="#111" stroke-width="1.6" />
<line x1="559.6" y1="1396.8" x2="498.0" y2="1335.2" stroke="#111" stroke-width="1.6" />
<line x1="121.6" y1="918.5" x2="259.4" y2="1111.7" stroke="#111" stroke-width="1.2" />
<line x1="181.3" y1="918.5" x2="259.4" y2="1108.7" stroke="#111" stroke-width="1.2" />
<rect x="0" y="1583.6" width="1225" height="1.6" fill="#111"/>
</svg>
</body></html>
